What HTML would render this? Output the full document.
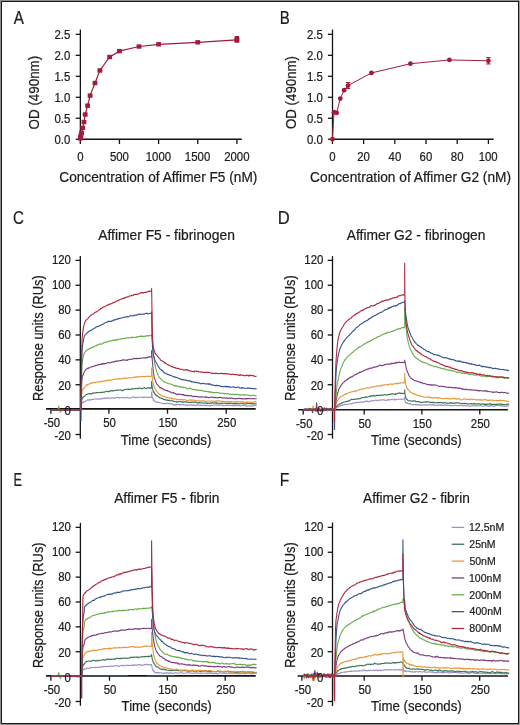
<!DOCTYPE html>
<html><head><meta charset="utf-8"><title>Figure</title>
<style>html,body{margin:0;padding:0;background:#fff;}svg{display:block;will-change:transform;}text{font-family:"Liberation Sans", sans-serif;fill:#1c1c1c;stroke:#1c1c1c;stroke-width:0.22px;}</style>
</head><body>
<svg width="520" height="725" viewBox="0 0 520 725">
<rect x="0" y="0" width="520" height="725" fill="#8e8e8e"/>
<rect x="1" y="1" width="518" height="723" fill="#1a1a1a"/>
<rect x="519" y="0" width="1" height="725" fill="#9c9c9c"/>
<rect x="519" y="0" width="1" height="1" fill="#c4c4c4"/>
<rect x="0" y="724" width="1" height="1" fill="#c4c4c4"/>
<rect x="2" y="2" width="516" height="721" fill="#ffffff"/>
<line x1="80.35" y1="29.6" x2="80.35" y2="139.9" stroke="#141414" stroke-width="1.3"/>
<line x1="79.7" y1="139.25" x2="241.8" y2="139.25" stroke="#141414" stroke-width="1.5"/>
<line x1="75.75" y1="139.25" x2="80.35" y2="139.25" stroke="#141414" stroke-width="1.3"/>
<text x="54.40" y="143.55" font-size="12.1" textLength="15.85" lengthAdjust="spacingAndGlyphs">0.0</text>
<line x1="75.75" y1="118.27" x2="80.35" y2="118.27" stroke="#141414" stroke-width="1.3"/>
<text x="54.43" y="122.57" font-size="12.1" textLength="15.85" lengthAdjust="spacingAndGlyphs">0.5</text>
<line x1="75.75" y1="97.29" x2="80.35" y2="97.29" stroke="#141414" stroke-width="1.3"/>
<text x="54.40" y="101.59" font-size="12.1" textLength="15.85" lengthAdjust="spacingAndGlyphs">1.0</text>
<line x1="75.75" y1="76.31" x2="80.35" y2="76.31" stroke="#141414" stroke-width="1.3"/>
<text x="54.43" y="80.61" font-size="12.1" textLength="15.85" lengthAdjust="spacingAndGlyphs">1.5</text>
<line x1="75.75" y1="55.33" x2="80.35" y2="55.33" stroke="#141414" stroke-width="1.3"/>
<text x="54.40" y="59.63" font-size="12.1" textLength="15.85" lengthAdjust="spacingAndGlyphs">2.0</text>
<line x1="75.75" y1="34.35" x2="80.35" y2="34.35" stroke="#141414" stroke-width="1.3"/>
<text x="54.43" y="38.65" font-size="12.1" textLength="15.85" lengthAdjust="spacingAndGlyphs">2.5</text>
<line x1="80.3" y1="139.25" x2="80.3" y2="144.05" stroke="#141414" stroke-width="1.3"/>
<text x="77.13" y="160.85" font-size="12.1" textLength="6.34" lengthAdjust="spacingAndGlyphs">0</text>
<line x1="119.45" y1="139.25" x2="119.45" y2="144.05" stroke="#141414" stroke-width="1.3"/>
<text x="109.93" y="160.85" font-size="12.1" textLength="19.02" lengthAdjust="spacingAndGlyphs">500</text>
<line x1="158.6" y1="139.25" x2="158.6" y2="144.05" stroke="#141414" stroke-width="1.3"/>
<text x="145.71" y="160.85" font-size="12.1" textLength="25.36" lengthAdjust="spacingAndGlyphs">1000</text>
<line x1="197.75" y1="139.25" x2="197.75" y2="144.05" stroke="#141414" stroke-width="1.3"/>
<text x="184.86" y="160.85" font-size="12.1" textLength="25.36" lengthAdjust="spacingAndGlyphs">1500</text>
<line x1="236.9" y1="139.25" x2="236.9" y2="144.05" stroke="#141414" stroke-width="1.3"/>
<text x="224.16" y="160.85" font-size="12.1" textLength="25.36" lengthAdjust="spacingAndGlyphs">2000</text>
<text x="-0.63" y="0" font-size="14.7" textLength="73.66" lengthAdjust="spacingAndGlyphs" transform="translate(38.9,128.8) rotate(-90)">OD (490nm)</text>
<text x="59.31" y="182.3" font-size="14.7" textLength="198.03" lengthAdjust="spacingAndGlyphs">Concentration of Affimer F5 (nM)</text>
<polyline fill="none" stroke="#a11c3c" stroke-width="1.2" points="80.3,138.41 80.61,137.15 80.91,135.47 81.52,132.96 82.75,127.92 83.97,122.05 85.19,114.49 87.64,105.68 90.09,95.61 94.98,83.02 99.88,70.44 109.66,57.01 119.45,51.13 139.02,46.52 158.6,44.29 197.75,42.32 236.9,39.8"/>
<rect x="77.90" y="136.21" width="4.8" height="4.4" fill="#a11c3c"/>
<rect x="78.21" y="134.95" width="4.8" height="4.4" fill="#a11c3c"/>
<rect x="78.51" y="133.27" width="4.8" height="4.4" fill="#a11c3c"/>
<rect x="79.12" y="130.76" width="4.8" height="4.4" fill="#a11c3c"/>
<rect x="80.35" y="125.72" width="4.8" height="4.4" fill="#a11c3c"/>
<rect x="81.57" y="119.85" width="4.8" height="4.4" fill="#a11c3c"/>
<rect x="82.79" y="112.29" width="4.8" height="4.4" fill="#a11c3c"/>
<rect x="85.24" y="103.48" width="4.8" height="4.4" fill="#a11c3c"/>
<rect x="87.69" y="93.41" width="4.8" height="4.4" fill="#a11c3c"/>
<rect x="92.58" y="80.82" width="4.8" height="4.4" fill="#a11c3c"/>
<rect x="97.48" y="68.24" width="4.8" height="4.4" fill="#a11c3c"/>
<rect x="107.26" y="54.81" width="4.8" height="4.4" fill="#a11c3c"/>
<rect x="117.05" y="48.93" width="4.8" height="4.4" fill="#a11c3c"/>
<rect x="136.62" y="44.32" width="4.8" height="4.4" fill="#a11c3c"/>
<rect x="156.20" y="42.09" width="4.8" height="4.4" fill="#a11c3c"/>
<rect x="195.35" y="40.12" width="4.8" height="4.4" fill="#a11c3c"/>
<rect x="234.50" y="37.60" width="4.8" height="4.4" fill="#a11c3c"/>
<rect x="234.65" y="36.00" width="4.5" height="6.8" fill="#a11c3c"/>
<line x1="332.5" y1="29.6" x2="332.5" y2="139.9" stroke="#141414" stroke-width="1.3"/>
<line x1="331.85" y1="139.25" x2="493.7" y2="139.25" stroke="#141414" stroke-width="1.5"/>
<line x1="327.9" y1="139.25" x2="332.5" y2="139.25" stroke="#141414" stroke-width="1.3"/>
<text x="306.90" y="143.55" font-size="12.1" textLength="15.85" lengthAdjust="spacingAndGlyphs">0.0</text>
<line x1="327.9" y1="118.27" x2="332.5" y2="118.27" stroke="#141414" stroke-width="1.3"/>
<text x="306.93" y="122.57" font-size="12.1" textLength="15.85" lengthAdjust="spacingAndGlyphs">0.5</text>
<line x1="327.9" y1="97.29" x2="332.5" y2="97.29" stroke="#141414" stroke-width="1.3"/>
<text x="306.90" y="101.59" font-size="12.1" textLength="15.85" lengthAdjust="spacingAndGlyphs">1.0</text>
<line x1="327.9" y1="76.31" x2="332.5" y2="76.31" stroke="#141414" stroke-width="1.3"/>
<text x="306.93" y="80.61" font-size="12.1" textLength="15.85" lengthAdjust="spacingAndGlyphs">1.5</text>
<line x1="327.9" y1="55.33" x2="332.5" y2="55.33" stroke="#141414" stroke-width="1.3"/>
<text x="306.90" y="59.63" font-size="12.1" textLength="15.85" lengthAdjust="spacingAndGlyphs">2.0</text>
<line x1="327.9" y1="34.35" x2="332.5" y2="34.35" stroke="#141414" stroke-width="1.3"/>
<text x="306.93" y="38.65" font-size="12.1" textLength="15.85" lengthAdjust="spacingAndGlyphs">2.5</text>
<line x1="332.45" y1="139.25" x2="332.45" y2="144.05" stroke="#141414" stroke-width="1.3"/>
<text x="329.28" y="160.85" font-size="12.1" textLength="6.34" lengthAdjust="spacingAndGlyphs">0</text>
<line x1="363.64" y1="139.25" x2="363.64" y2="144.05" stroke="#141414" stroke-width="1.3"/>
<text x="357.24" y="160.85" font-size="12.1" textLength="12.68" lengthAdjust="spacingAndGlyphs">20</text>
<line x1="394.83" y1="139.25" x2="394.83" y2="144.05" stroke="#141414" stroke-width="1.3"/>
<text x="388.58" y="160.85" font-size="12.1" textLength="12.68" lengthAdjust="spacingAndGlyphs">40</text>
<line x1="426.02" y1="139.25" x2="426.02" y2="144.05" stroke="#141414" stroke-width="1.3"/>
<text x="419.61" y="160.85" font-size="12.1" textLength="12.68" lengthAdjust="spacingAndGlyphs">60</text>
<line x1="457.21" y1="139.25" x2="457.21" y2="144.05" stroke="#141414" stroke-width="1.3"/>
<text x="450.84" y="160.85" font-size="12.1" textLength="12.68" lengthAdjust="spacingAndGlyphs">80</text>
<line x1="488.4" y1="139.25" x2="488.4" y2="144.05" stroke="#141414" stroke-width="1.3"/>
<text x="478.68" y="160.85" font-size="12.1" textLength="19.02" lengthAdjust="spacingAndGlyphs">100</text>
<text x="-0.63" y="0" font-size="14.7" textLength="73.05" lengthAdjust="spacingAndGlyphs" transform="translate(295.8,128.4) rotate(-90)">OD (490nm)</text>
<text x="310.11" y="182.3" font-size="14.7" textLength="200.94" lengthAdjust="spacingAndGlyphs">Concentration of Affimer G2 (nM)</text>
<polyline fill="none" stroke="#a11c3c" stroke-width="1.0" points="332.45,139.25 334.01,112.27 336.66,112.82 340.25,98.55 344.15,90.16 348.05,85.54 371.44,72.95 410.43,63.72 449.41,59.95 488.4,60.78"/>
<circle cx="332.45" cy="139.25" r="2.4" fill="#a11c3c"/>
<circle cx="334.01" cy="112.27" r="2.4" fill="#a11c3c"/>
<circle cx="336.66" cy="112.82" r="2.4" fill="#a11c3c"/>
<circle cx="340.25" cy="98.55" r="2.4" fill="#a11c3c"/>
<circle cx="344.15" cy="90.16" r="2.4" fill="#a11c3c"/>
<circle cx="348.05" cy="85.54" r="2.4" fill="#a11c3c"/>
<circle cx="371.44" cy="72.95" r="2.4" fill="#a11c3c"/>
<circle cx="410.43" cy="63.72" r="2.4" fill="#a11c3c"/>
<circle cx="449.41" cy="59.95" r="2.4" fill="#a11c3c"/>
<circle cx="488.4" cy="60.78" r="2.4" fill="#a11c3c"/>
<line x1="348.05" y1="82.6" x2="348.05" y2="88.48" stroke="#a11c3c" stroke-width="1.1"/>
<line x1="345.85" y1="82.6" x2="350.25" y2="82.6" stroke="#a11c3c" stroke-width="1.1"/>
<line x1="345.85" y1="88.48" x2="350.25" y2="88.48" stroke="#a11c3c" stroke-width="1.1"/>
<line x1="488.4" y1="57.64" x2="488.4" y2="63.93" stroke="#a11c3c" stroke-width="1.1"/>
<line x1="486.2" y1="57.64" x2="490.6" y2="57.64" stroke="#a11c3c" stroke-width="1.1"/>
<line x1="486.2" y1="63.93" x2="490.6" y2="63.93" stroke="#a11c3c" stroke-width="1.1"/>
<line x1="80.3" y1="256" x2="80.3" y2="438.7" stroke="#141414" stroke-width="1.3"/>
<line x1="46.1" y1="408.9" x2="255.7" y2="408.9" stroke="#141414" stroke-width="1.6"/>
<line x1="75.5" y1="434.47" x2="80.3" y2="434.47" stroke="#141414" stroke-width="1.3"/>
<line x1="75.5" y1="409.6" x2="80.3" y2="409.6" stroke="#141414" stroke-width="1.3"/>
<line x1="75.5" y1="384.73" x2="80.3" y2="384.73" stroke="#141414" stroke-width="1.3"/>
<line x1="75.5" y1="359.86" x2="80.3" y2="359.86" stroke="#141414" stroke-width="1.3"/>
<line x1="75.5" y1="334.99" x2="80.3" y2="334.99" stroke="#141414" stroke-width="1.3"/>
<line x1="75.5" y1="310.12" x2="80.3" y2="310.12" stroke="#141414" stroke-width="1.3"/>
<line x1="75.5" y1="285.25" x2="80.3" y2="285.25" stroke="#141414" stroke-width="1.3"/>
<line x1="75.5" y1="260.38" x2="80.3" y2="260.38" stroke="#141414" stroke-width="1.3"/>
<line x1="50.9" y1="408.9" x2="50.9" y2="413.7" stroke="#141414" stroke-width="1.3"/>
<line x1="108.9" y1="408.9" x2="108.9" y2="413.7" stroke="#141414" stroke-width="1.3"/>
<line x1="167.5" y1="408.9" x2="167.5" y2="413.7" stroke="#141414" stroke-width="1.3"/>
<line x1="226.2" y1="408.9" x2="226.2" y2="413.7" stroke="#141414" stroke-width="1.3"/>
<polyline fill="none" stroke="#9b90c8" stroke-width="1.1" stroke-linejoin="round" points="51.7,410.2 52.2,410.1 52.8,410.1 53.4,409.9 54.0,410.0 54.6,409.9 55.2,409.7 55.8,409.7 56.3,409.8 56.9,410.1 57.5,410.1 58.1,410.1 58.7,410.0 59.3,410.0 59.8,410.2 60.4,410.2 61.0,409.9 61.6,410.4 62.2,410.0 62.8,409.8 63.3,410.2 63.9,410.2 64.5,410.1 65.1,409.8 65.7,410.0 66.3,410.4 66.9,410.0 67.4,409.7 68.0,409.7 68.6,409.8 69.2,410.0 69.8,410.4 70.4,409.9 70.9,410.0 71.5,409.9 72.1,409.6 72.7,409.9 73.3,409.9 73.9,409.8 74.5,410.0 75.0,410.1 75.6,410.1 76.2,409.8 76.8,409.8 77.4,410.1 78.0,409.7 78.5,409.9 79.1,410.3 79.7,409.8 80.3,410.0 80.9,410.3 81.1,409.2 81.2,407.7 81.4,406.5 81.5,405.5 81.6,404.6 81.8,403.9 81.9,403.4 82.1,403.1 82.2,402.9 82.4,402.7 82.5,402.6 82.7,402.5 82.8,402.3 83.0,402.5 83.1,402.5 83.3,402.2 83.4,401.9 83.5,402.0 83.7,401.9 83.8,401.8 84.0,402.0 84.1,401.8 84.3,401.8 84.4,401.8 84.6,402.0 85.0,401.6 85.5,401.5 86.0,400.8 86.4,400.7 86.9,400.4 87.4,399.9 87.8,399.8 88.3,400.0 88.8,400.1 89.2,399.6 89.7,399.8 90.2,400.3 90.6,400.0 91.1,399.4 91.6,399.7 92.0,399.5 92.5,399.3 93.0,399.4 93.5,399.4 93.9,399.2 94.4,399.2 94.9,399.0 95.3,398.9 95.8,399.0 96.3,399.2 96.7,398.8 97.2,399.0 97.7,399.2 98.1,399.0 98.6,398.9 99.1,399.3 99.5,399.0 100.0,399.2 100.5,399.0 100.9,399.1 101.4,398.4 101.9,398.4 102.3,398.3 102.8,398.7 103.3,398.8 103.7,398.3 104.2,398.7 104.7,398.2 105.1,398.4 105.6,397.9 106.1,398.2 106.5,398.5 107.0,398.0 107.5,398.0 107.9,397.8 108.4,397.8 108.9,398.1 109.3,398.2 109.8,398.1 110.3,398.4 110.8,398.3 111.2,398.1 111.7,397.8 112.2,397.8 112.6,397.9 113.1,397.8 113.6,397.9 114.0,398.3 114.5,398.1 115.0,398.3 115.4,397.8 115.9,397.5 116.4,397.5 116.8,397.5 117.3,397.4 117.8,397.6 118.2,397.5 118.7,397.9 119.2,397.5 119.6,398.1 120.1,397.8 120.6,397.7 121.0,397.6 121.5,397.7 122.0,397.5 122.4,397.3 122.9,397.7 123.4,397.5 123.8,397.8 124.3,397.7 124.8,398.1 125.2,397.5 125.7,397.4 126.2,397.7 126.7,397.8 127.1,397.8 127.6,397.2 128.1,397.7 128.5,397.9 129.0,398.1 129.5,397.9 129.9,397.7 130.4,397.9 130.9,398.1 131.3,397.7 131.8,397.5 132.3,397.3 132.7,397.3 133.2,397.3 133.7,396.7 134.1,397.1 134.6,397.2 135.1,397.6 135.5,397.6 136.0,397.6 136.5,397.4 136.9,397.4 137.4,397.4 137.9,397.7 138.3,397.2 138.8,397.2 139.3,397.2 139.7,397.4 140.2,397.1 140.7,397.2 141.1,397.2 141.6,397.1 142.1,397.4 142.5,397.4 143.0,397.7 143.5,397.0 144.0,397.4 144.4,397.1 144.9,397.0 145.4,397.5 145.8,397.4 146.3,397.2 146.8,397.5 147.2,397.6 147.7,397.3 148.2,397.3 148.6,397.4 149.1,397.4 149.6,397.2 150.0,397.3 150.5,397.5 151.0,397.5 151.4,397.2 151.6,397.2 151.6,391.8 151.8,393.4 151.9,394.5 152.1,395.5 152.2,396.2 152.4,396.9 152.5,397.6 152.7,398.2 152.8,398.3 153.0,398.6 153.1,398.7 153.2,399.9 153.4,399.7 153.5,400.2 153.7,400.1 153.8,400.6 154.0,400.4 154.1,400.2 154.3,400.7 154.4,400.9 154.6,400.8 154.7,401.1 154.9,401.3 155.0,401.7 155.1,401.6 155.6,402.1 156.1,401.9 156.5,402.1 157.0,402.3 157.5,402.0 158.0,402.5 158.4,402.4 158.9,402.6 159.4,402.8 159.8,402.7 160.3,402.7 160.8,402.8 161.2,403.2 161.7,403.3 162.2,403.4 162.6,403.3 163.1,403.2 163.6,403.5 164.0,403.5 164.5,403.9 165.0,403.7 165.4,403.6 165.9,403.5 166.4,403.7 166.8,403.0 167.3,403.2 167.8,403.2 168.2,403.2 168.7,403.5 169.2,403.2 169.6,403.5 170.1,404.1 170.6,403.8 171.0,403.9 171.5,404.1 172.0,403.6 172.4,404.3 172.9,404.2 173.4,405.1 173.8,404.6 174.3,405.0 174.8,405.3 175.3,404.7 175.7,404.6 176.2,405.0 176.7,404.4 177.1,404.9 177.6,404.4 178.1,404.6 178.5,404.4 179.0,404.7 179.5,404.6 179.9,404.9 180.4,404.5 180.9,404.7 181.3,404.6 181.8,405.0 182.3,404.7 182.7,404.8 183.2,404.5 183.7,404.9 184.1,404.7 184.6,404.8 185.1,404.7 185.5,405.5 186.0,405.2 186.5,405.1 186.9,405.3 187.4,405.7 187.9,405.1 188.3,405.1 188.8,405.3 189.3,405.0 189.7,405.2 190.2,405.2 190.7,405.1 191.2,404.7 191.6,405.1 192.1,405.0 192.6,405.1 193.0,405.3 193.5,405.4 194.0,404.9 194.4,405.2 194.9,405.5 195.4,405.2 195.8,405.4 196.3,405.5 196.8,404.9 197.2,405.2 197.7,404.8 198.2,405.0 198.6,405.0 199.1,405.2 199.6,405.0 200.0,405.0 200.5,405.4 201.0,405.1 201.4,405.4 201.9,405.5 202.4,405.3 202.8,405.5 203.3,405.3 203.8,405.0 204.2,405.3 204.7,405.5 205.2,405.9 205.6,405.4 206.1,405.3 206.6,405.0 207.0,405.6 207.5,405.7 208.0,405.5 208.5,405.6 208.9,405.7 209.4,406.0 209.9,406.1 210.3,405.7 210.8,405.2 211.3,405.4 211.7,405.4 212.2,405.2 212.7,405.4 213.1,405.2 213.6,404.9 214.1,405.1 214.5,405.1 215.0,405.0 215.5,405.0 215.9,404.9 216.4,405.0 216.9,405.3 217.3,405.4 217.8,405.4 218.3,405.4 218.7,405.0 219.2,405.3 219.7,405.1 220.1,405.1 220.6,405.2 221.1,405.2 221.5,405.2 222.0,405.2 222.5,405.2 222.9,405.6 223.4,405.3 223.9,405.8 224.4,405.7 224.8,405.5 225.3,405.4 225.8,405.3 226.2,405.1 226.7,405.5 227.2,405.7 227.6,405.3 228.1,405.4 228.6,405.4 229.0,405.6 229.5,405.2 230.0,405.4 230.4,405.3 230.9,405.2 231.4,405.4 231.8,405.6 232.3,405.7 232.8,405.3 233.2,405.9 233.7,405.5 234.2,405.7 234.6,405.5 235.1,405.0 235.6,405.4 236.0,405.2 236.5,405.7 237.0,405.3 237.4,405.7 237.9,405.6 238.4,405.1 238.8,405.3 239.3,405.6 239.8,405.6 240.2,406.0 240.7,405.5 241.2,405.5 241.7,405.5 242.1,405.0 242.6,405.2 243.1,405.4 243.5,405.5 244.0,405.2 244.5,405.1 244.9,405.6 245.4,405.9 245.9,405.6 246.3,405.8 246.8,406.3 247.3,405.8 247.7,406.0 248.2,406.0 248.7,405.9 249.1,405.9 249.6,405.7 250.1,405.8 250.5,406.2 251.0,405.9 251.5,406.0 251.9,405.9 252.4,405.7 252.9,405.9 253.3,405.5 253.8,405.4 254.3,405.5 254.7,405.2 255.2,405.4 255.7,405.6 256.1,405.5 256.6,405.6"/>
<polyline fill="none" stroke="#3b7357" stroke-width="1.1" stroke-linejoin="round" points="51.7,409.8 52.2,409.8 52.8,410.0 53.4,410.3 54.0,409.8 54.6,409.7 55.2,409.7 55.8,409.7 56.3,409.6 56.9,409.7 57.5,410.1 58.1,409.8 58.7,410.2 59.3,410.0 59.8,409.9 60.4,409.7 61.0,410.0 61.6,410.0 62.2,410.1 62.8,409.8 63.3,410.4 63.9,410.5 64.5,409.6 65.1,409.7 65.7,409.8 66.3,409.9 66.9,410.1 67.4,410.3 68.0,409.9 68.6,410.2 69.2,409.7 69.8,409.9 70.4,410.3 70.9,409.9 71.5,410.4 72.1,410.1 72.7,409.7 73.3,410.1 73.9,410.0 74.5,410.1 75.0,410.1 75.6,409.7 76.2,409.8 76.8,409.8 77.4,410.3 78.0,410.0 78.5,410.1 79.1,409.9 79.7,410.2 80.3,409.7 80.9,409.3 81.1,409.2 81.2,406.7 81.4,404.6 81.5,402.9 81.6,401.4 81.8,400.2 81.9,399.3 82.1,398.8 82.2,398.0 82.4,398.0 82.5,397.9 82.7,398.1 82.8,397.1 83.0,397.5 83.1,397.0 83.3,396.9 83.4,396.8 83.5,397.1 83.7,396.8 83.8,396.5 84.0,396.3 84.1,396.4 84.3,396.4 84.4,396.3 84.6,396.2 85.0,395.8 85.5,395.3 86.0,394.7 86.4,394.5 86.9,394.5 87.4,394.2 87.8,394.0 88.3,393.9 88.8,393.7 89.2,393.5 89.7,393.9 90.2,393.7 90.6,393.6 91.1,393.6 91.6,394.1 92.0,393.5 92.5,393.1 93.0,392.9 93.5,392.8 93.9,393.2 94.4,392.9 94.9,393.1 95.3,392.9 95.8,392.8 96.3,392.5 96.7,392.8 97.2,392.4 97.7,392.5 98.1,392.8 98.6,392.7 99.1,392.6 99.5,392.4 100.0,392.6 100.5,392.2 100.9,392.4 101.4,392.3 101.9,392.6 102.3,392.5 102.8,392.3 103.3,392.1 103.7,392.2 104.2,392.0 104.7,392.1 105.1,391.9 105.6,391.4 106.1,391.1 106.5,391.2 107.0,391.5 107.5,391.7 107.9,391.5 108.4,391.6 108.9,391.1 109.3,391.6 109.8,391.4 110.3,390.8 110.8,391.0 111.2,390.7 111.7,390.4 112.2,390.9 112.6,390.9 113.1,390.9 113.6,390.9 114.0,390.7 114.5,390.5 115.0,390.2 115.4,390.3 115.9,390.5 116.4,390.3 116.8,390.3 117.3,390.0 117.8,390.1 118.2,390.2 118.7,390.1 119.2,390.0 119.6,390.0 120.1,390.0 120.6,389.9 121.0,390.1 121.5,390.4 122.0,390.3 122.4,390.9 122.9,390.3 123.4,390.1 123.8,390.2 124.3,389.8 124.8,389.6 125.2,389.5 125.7,389.4 126.2,389.2 126.7,389.3 127.1,389.1 127.6,389.2 128.1,389.7 128.5,389.0 129.0,389.3 129.5,389.4 129.9,389.4 130.4,389.3 130.9,389.6 131.3,389.3 131.8,389.1 132.3,388.9 132.7,388.4 133.2,388.7 133.7,388.9 134.1,389.0 134.6,388.7 135.1,388.7 135.5,388.5 136.0,388.4 136.5,388.6 136.9,388.5 137.4,388.5 137.9,388.2 138.3,388.8 138.8,388.2 139.3,387.9 139.7,388.1 140.2,388.1 140.7,388.5 141.1,388.4 141.6,388.9 142.1,388.8 142.5,388.2 143.0,388.2 143.5,388.3 144.0,387.8 144.4,387.5 144.9,388.1 145.4,388.4 145.8,388.3 146.3,388.6 146.8,388.6 147.2,387.9 147.7,387.8 148.2,387.8 148.6,387.9 149.1,388.4 149.6,387.7 150.0,387.9 150.5,387.8 151.0,388.2 151.4,388.2 151.6,387.6 151.6,381.5 151.8,383.5 151.9,385.0 152.1,386.2 152.2,387.2 152.4,388.1 152.5,388.4 152.7,389.6 152.8,389.8 153.0,390.4 153.1,391.0 153.2,391.6 153.4,392.0 153.5,392.2 153.7,392.5 153.8,392.3 154.0,392.0 154.1,392.7 154.3,392.8 154.4,393.0 154.6,393.5 154.7,393.8 154.9,393.5 155.0,393.9 155.1,394.5 155.6,395.1 156.1,394.8 156.5,395.5 157.0,396.0 157.5,395.9 158.0,396.4 158.4,396.8 158.9,397.1 159.4,397.3 159.8,398.1 160.3,397.9 160.8,398.1 161.2,398.4 161.7,398.2 162.2,398.5 162.6,398.6 163.1,399.2 163.6,399.5 164.0,399.3 164.5,399.8 165.0,399.4 165.4,399.5 165.9,400.0 166.4,400.2 166.8,400.2 167.3,399.9 167.8,400.4 168.2,400.4 168.7,400.4 169.2,400.6 169.6,400.2 170.1,400.7 170.6,400.8 171.0,400.7 171.5,400.8 172.0,400.6 172.4,400.8 172.9,401.0 173.4,401.5 173.8,401.2 174.3,401.5 174.8,401.7 175.3,401.7 175.7,401.5 176.2,401.5 176.7,402.3 177.1,401.7 177.6,401.8 178.1,401.8 178.5,402.0 179.0,401.6 179.5,401.7 179.9,401.6 180.4,401.4 180.9,401.8 181.3,401.9 181.8,401.9 182.3,402.2 182.7,401.7 183.2,402.1 183.7,402.2 184.1,401.9 184.6,401.9 185.1,402.1 185.5,402.1 186.0,401.8 186.5,402.1 186.9,401.6 187.4,402.0 187.9,402.2 188.3,402.1 188.8,402.7 189.3,402.5 189.7,402.4 190.2,402.5 190.7,402.1 191.2,402.4 191.6,402.3 192.1,402.3 192.6,402.1 193.0,402.2 193.5,402.2 194.0,402.4 194.4,401.9 194.9,402.1 195.4,402.1 195.8,402.1 196.3,402.2 196.8,402.3 197.2,402.9 197.7,402.9 198.2,403.1 198.6,402.7 199.1,402.6 199.6,402.7 200.0,403.0 200.5,403.0 201.0,402.8 201.4,402.7 201.9,402.7 202.4,403.0 202.8,402.9 203.3,403.1 203.8,403.3 204.2,403.2 204.7,403.3 205.2,402.9 205.6,402.7 206.1,403.0 206.6,403.3 207.0,402.9 207.5,403.6 208.0,403.2 208.5,403.2 208.9,403.1 209.4,403.6 209.9,403.1 210.3,403.3 210.8,403.1 211.3,402.8 211.7,403.3 212.2,402.8 212.7,402.6 213.1,402.9 213.6,403.0 214.1,403.1 214.5,403.1 215.0,403.1 215.5,402.8 215.9,402.8 216.4,403.4 216.9,403.0 217.3,403.4 217.8,403.0 218.3,403.2 218.7,403.3 219.2,403.6 219.7,403.2 220.1,403.3 220.6,403.2 221.1,403.2 221.5,403.5 222.0,403.0 222.5,403.4 222.9,403.3 223.4,403.2 223.9,403.2 224.4,403.3 224.8,403.3 225.3,403.4 225.8,403.1 226.2,403.4 226.7,403.3 227.2,403.4 227.6,403.6 228.1,403.5 228.6,403.0 229.0,403.2 229.5,403.5 230.0,403.1 230.4,403.3 230.9,403.4 231.4,403.5 231.8,403.3 232.3,403.5 232.8,403.6 233.2,403.5 233.7,403.6 234.2,403.6 234.6,403.5 235.1,403.6 235.6,403.1 236.0,403.6 236.5,403.6 237.0,403.5 237.4,403.3 237.9,403.6 238.4,403.7 238.8,403.8 239.3,403.7 239.8,403.8 240.2,403.7 240.7,403.2 241.2,403.3 241.7,403.3 242.1,403.4 242.6,403.3 243.1,403.8 243.5,403.8 244.0,404.0 244.5,403.8 244.9,403.8 245.4,403.8 245.9,403.9 246.3,403.8 246.8,403.9 247.3,403.5 247.7,403.3 248.2,403.5 248.7,403.6 249.1,403.5 249.6,403.5 250.1,403.5 250.5,403.6 251.0,403.8 251.5,403.6 251.9,404.0 252.4,403.8 252.9,403.9 253.3,403.8 253.8,403.6 254.3,403.6 254.7,403.9 255.2,404.0 255.7,403.6 256.1,403.7 256.6,403.9"/>
<polyline fill="none" stroke="#e8983a" stroke-width="1.1" stroke-linejoin="round" points="51.7,410.2 52.2,409.8 52.8,410.1 53.4,410.1 54.0,410.0 54.6,410.0 55.2,409.6 55.8,410.0 56.3,409.6 56.9,410.5 57.5,409.8 58.1,410.0 58.7,409.5 59.3,410.2 59.8,410.0 60.4,409.9 61.0,410.5 61.6,410.0 62.2,409.3 62.8,409.9 63.3,409.8 63.9,410.0 64.5,409.6 65.1,410.1 65.7,410.2 66.3,409.8 66.9,410.2 67.4,409.9 68.0,410.4 68.6,409.8 69.2,410.1 69.8,409.9 70.4,409.9 70.9,409.9 71.5,410.1 72.1,410.1 72.7,409.8 73.3,409.7 73.9,410.3 74.5,410.1 75.0,410.1 75.6,410.1 76.2,409.7 76.8,410.0 77.4,410.0 78.0,409.9 78.5,409.6 79.1,410.4 79.7,409.8 80.3,410.0 80.9,410.1 81.1,409.2 81.2,405.0 81.4,401.6 81.5,398.6 81.6,396.2 81.8,394.1 81.9,392.7 82.1,391.9 82.2,390.7 82.4,390.2 82.5,389.9 82.7,389.5 82.8,389.3 83.0,389.4 83.1,389.0 83.3,388.5 83.4,388.8 83.5,388.5 83.7,388.4 83.8,388.3 84.0,388.3 84.1,387.8 84.3,387.6 84.4,387.7 84.6,387.5 85.0,386.6 85.5,386.3 86.0,385.8 86.4,384.9 86.9,384.9 87.4,385.3 87.8,384.3 88.3,384.4 88.8,384.3 89.2,383.9 89.7,383.7 90.2,383.4 90.6,383.2 91.1,383.7 91.6,382.9 92.0,383.0 92.5,382.9 93.0,382.6 93.5,382.6 93.9,382.7 94.4,382.8 94.9,382.4 95.3,382.7 95.8,382.4 96.3,382.3 96.7,382.3 97.2,382.3 97.7,381.8 98.1,381.8 98.6,381.9 99.1,381.6 99.5,381.6 100.0,382.2 100.5,381.8 100.9,381.6 101.4,381.4 101.9,380.9 102.3,380.9 102.8,381.2 103.3,381.1 103.7,381.2 104.2,381.1 104.7,380.7 105.1,380.9 105.6,381.0 106.1,380.2 106.5,380.7 107.0,380.6 107.5,380.4 107.9,380.2 108.4,380.5 108.9,380.0 109.3,380.2 109.8,380.1 110.3,380.1 110.8,380.1 111.2,380.1 111.7,380.1 112.2,379.9 112.6,379.9 113.1,379.6 113.6,379.3 114.0,379.2 114.5,379.4 115.0,379.1 115.4,379.2 115.9,379.1 116.4,379.1 116.8,378.9 117.3,378.8 117.8,378.9 118.2,378.8 118.7,379.1 119.2,378.8 119.6,378.6 120.1,379.1 120.6,379.0 121.0,378.9 121.5,378.9 122.0,378.6 122.4,378.5 122.9,378.6 123.4,378.2 123.8,378.3 124.3,378.0 124.8,378.5 125.2,377.9 125.7,378.3 126.2,378.3 126.7,378.2 127.1,378.0 127.6,378.3 128.1,377.8 128.5,377.7 129.0,377.8 129.5,377.9 129.9,377.7 130.4,378.1 130.9,377.8 131.3,377.8 131.8,377.8 132.3,377.8 132.7,377.7 133.2,377.3 133.7,377.2 134.1,377.0 134.6,377.1 135.1,377.1 135.5,377.1 136.0,377.0 136.5,377.1 136.9,376.6 137.4,376.9 137.9,377.2 138.3,377.0 138.8,376.9 139.3,376.5 139.7,376.8 140.2,376.8 140.7,376.3 141.1,376.4 141.6,376.3 142.1,376.9 142.5,376.8 143.0,376.3 143.5,376.6 144.0,376.8 144.4,376.3 144.9,376.6 145.4,376.5 145.8,376.4 146.3,376.3 146.8,376.5 147.2,376.5 147.7,376.3 148.2,376.0 148.6,376.4 149.1,376.5 149.6,376.3 150.0,376.4 150.5,376.6 151.0,376.3 151.4,376.3 151.6,375.8 151.6,367.7 151.8,370.8 151.9,373.2 152.1,375.2 152.2,376.8 152.4,378.2 152.5,379.5 152.7,380.4 152.8,381.4 153.0,382.2 153.1,383.2 153.2,383.3 153.4,383.7 153.5,384.6 153.7,384.8 153.8,384.8 154.0,386.4 154.1,386.6 154.3,387.1 154.4,387.2 154.6,387.8 154.7,387.5 154.9,387.8 155.0,388.4 155.1,388.5 155.6,389.6 156.1,390.0 156.5,391.3 157.0,391.9 157.5,392.2 158.0,392.7 158.4,393.3 158.9,393.7 159.4,394.4 159.8,394.2 160.3,394.9 160.8,395.2 161.2,395.6 161.7,395.7 162.2,396.3 162.6,396.1 163.1,396.1 163.6,396.2 164.0,396.3 164.5,396.6 165.0,396.8 165.4,397.1 165.9,397.4 166.4,397.1 166.8,397.2 167.3,397.6 167.8,397.4 168.2,397.4 168.7,397.6 169.2,398.1 169.6,398.3 170.1,398.1 170.6,398.0 171.0,398.1 171.5,397.9 172.0,398.8 172.4,398.5 172.9,398.6 173.4,398.8 173.8,399.2 174.3,398.9 174.8,398.9 175.3,399.0 175.7,399.1 176.2,399.5 176.7,399.7 177.1,399.3 177.6,399.4 178.1,399.5 178.5,399.8 179.0,399.5 179.5,399.3 179.9,399.8 180.4,399.6 180.9,399.6 181.3,399.3 181.8,399.4 182.3,399.2 182.7,399.9 183.2,399.9 183.7,400.0 184.1,399.4 184.6,399.6 185.1,399.7 185.5,399.9 186.0,400.0 186.5,400.2 186.9,400.6 187.4,400.5 187.9,400.8 188.3,400.2 188.8,400.2 189.3,400.1 189.7,399.7 190.2,399.7 190.7,400.1 191.2,399.8 191.6,400.9 192.1,400.2 192.6,400.0 193.0,400.1 193.5,400.1 194.0,400.1 194.4,400.2 194.9,400.4 195.4,400.5 195.8,400.6 196.3,400.7 196.8,400.9 197.2,400.7 197.7,400.7 198.2,400.6 198.6,401.2 199.1,401.0 199.6,401.3 200.0,401.1 200.5,401.2 201.0,400.8 201.4,401.2 201.9,401.0 202.4,400.8 202.8,400.9 203.3,400.9 203.8,400.5 204.2,401.1 204.7,401.2 205.2,401.4 205.6,401.2 206.1,401.2 206.6,401.3 207.0,401.3 207.5,401.3 208.0,401.0 208.5,401.2 208.9,401.2 209.4,401.3 209.9,401.1 210.3,401.0 210.8,401.0 211.3,400.8 211.7,400.9 212.2,401.0 212.7,401.2 213.1,401.4 213.6,401.0 214.1,401.2 214.5,401.4 215.0,401.5 215.5,401.3 215.9,400.8 216.4,401.8 216.9,401.1 217.3,400.7 217.8,400.9 218.3,400.9 218.7,400.9 219.2,400.6 219.7,401.3 220.1,401.2 220.6,401.1 221.1,401.3 221.5,401.8 222.0,401.7 222.5,401.2 222.9,401.4 223.4,401.3 223.9,401.6 224.4,401.6 224.8,401.9 225.3,401.6 225.8,401.9 226.2,401.9 226.7,401.8 227.2,401.6 227.6,401.7 228.1,401.4 228.6,401.9 229.0,401.4 229.5,401.7 230.0,401.9 230.4,401.6 230.9,401.5 231.4,401.6 231.8,401.4 232.3,401.5 232.8,401.7 233.2,402.0 233.7,401.9 234.2,402.1 234.6,402.0 235.1,401.6 235.6,401.5 236.0,401.9 236.5,401.9 237.0,401.3 237.4,401.6 237.9,401.8 238.4,401.5 238.8,401.7 239.3,402.0 239.8,401.9 240.2,402.0 240.7,401.8 241.2,402.0 241.7,401.7 242.1,402.1 242.6,402.0 243.1,401.5 243.5,401.5 244.0,402.1 244.5,402.2 244.9,402.5 245.4,402.4 245.9,402.7 246.3,401.9 246.8,402.4 247.3,401.8 247.7,402.1 248.2,402.2 248.7,402.2 249.1,402.0 249.6,402.3 250.1,401.9 250.5,402.5 251.0,402.3 251.5,402.4 251.9,402.5 252.4,402.1 252.9,402.4 253.3,402.2 253.8,401.9 254.3,401.9 254.7,401.8 255.2,401.7 255.7,401.4 256.1,402.0 256.6,402.3"/>
<polyline fill="none" stroke="#7a3d80" stroke-width="1.1" stroke-linejoin="round" points="51.7,410.1 52.2,410.2 52.8,409.9 53.4,410.2 54.0,410.0 54.6,409.7 55.2,409.8 55.8,409.6 56.3,410.2 56.9,410.0 57.5,410.3 58.1,410.1 58.7,409.7 59.3,410.2 59.8,410.0 60.4,409.8 61.0,409.9 61.6,410.5 62.2,410.1 62.8,409.6 63.3,409.6 63.9,409.9 64.5,409.5 65.1,409.8 65.7,409.9 66.3,410.1 66.9,410.0 67.4,410.0 68.0,410.4 68.6,410.0 69.2,409.9 69.8,409.9 70.4,410.1 70.9,409.4 71.5,410.4 72.1,410.2 72.7,409.2 73.3,410.1 73.9,409.8 74.5,410.1 75.0,410.2 75.6,410.1 76.2,410.1 76.8,410.4 77.4,409.8 78.0,409.9 78.5,410.1 79.1,409.9 79.7,409.7 80.3,409.9 80.9,409.9 81.1,409.2 81.2,401.9 81.4,396.0 81.5,390.8 81.6,386.5 81.8,383.0 81.9,380.5 82.1,379.0 82.2,377.9 82.4,377.0 82.5,376.4 82.7,375.5 82.8,375.3 83.0,374.9 83.1,374.8 83.3,375.0 83.4,373.7 83.5,373.9 83.7,373.5 83.8,373.0 84.0,372.3 84.1,372.4 84.3,371.9 84.4,371.2 84.6,371.2 85.0,370.8 85.5,369.8 86.0,369.4 86.4,369.2 86.9,368.7 87.4,368.6 87.8,368.1 88.3,368.4 88.8,367.7 89.2,367.9 89.7,367.7 90.2,367.2 90.6,367.2 91.1,366.9 91.6,366.7 92.0,366.6 92.5,366.6 93.0,366.5 93.5,366.3 93.9,366.2 94.4,365.9 94.9,365.9 95.3,365.4 95.8,365.7 96.3,365.4 96.7,365.5 97.2,365.2 97.7,364.8 98.1,364.6 98.6,364.7 99.1,364.6 99.5,364.6 100.0,364.8 100.5,364.1 100.9,364.2 101.4,363.9 101.9,364.3 102.3,363.8 102.8,364.2 103.3,363.7 103.7,363.4 104.2,364.1 104.7,363.6 105.1,363.3 105.6,363.6 106.1,363.4 106.5,363.2 107.0,362.9 107.5,362.6 107.9,362.5 108.4,362.6 108.9,362.5 109.3,362.7 109.8,362.9 110.3,362.6 110.8,362.7 111.2,362.4 111.7,362.3 112.2,362.0 112.6,361.9 113.1,361.9 113.6,361.8 114.0,362.1 114.5,361.7 115.0,361.2 115.4,361.6 115.9,361.2 116.4,361.2 116.8,360.9 117.3,361.0 117.8,361.4 118.2,361.0 118.7,360.9 119.2,360.6 119.6,360.7 120.1,360.8 120.6,360.6 121.0,360.6 121.5,360.4 122.0,360.6 122.4,359.7 122.9,360.0 123.4,359.8 123.8,359.9 124.3,360.1 124.8,360.1 125.2,360.2 125.7,359.9 126.2,360.2 126.7,360.3 127.1,359.8 127.6,360.3 128.1,359.6 128.5,359.8 129.0,359.3 129.5,359.2 129.9,359.3 130.4,359.5 130.9,359.5 131.3,359.2 131.8,359.3 132.3,359.3 132.7,359.2 133.2,358.6 133.7,358.6 134.1,358.3 134.6,358.6 135.1,358.5 135.5,358.7 136.0,358.4 136.5,358.3 136.9,358.9 137.4,358.4 137.9,358.3 138.3,358.5 138.8,358.6 139.3,358.5 139.7,358.1 140.2,358.2 140.7,358.1 141.1,358.2 141.6,358.3 142.1,358.1 142.5,358.1 143.0,357.9 143.5,357.6 144.0,357.8 144.4,358.1 144.9,357.8 145.4,357.9 145.8,357.8 146.3,358.0 146.8,357.3 147.2,357.7 147.7,357.5 148.2,357.0 148.6,356.9 149.1,356.9 149.6,356.7 150.0,356.8 150.5,357.0 151.0,356.9 151.4,357.0 151.6,357.1 151.6,350.5 151.8,353.0 151.9,355.3 152.1,357.4 152.2,359.3 152.4,361.1 152.5,362.5 152.7,364.2 152.8,366.2 153.0,367.8 153.1,369.2 153.2,370.4 153.4,371.6 153.5,372.9 153.7,374.2 153.8,375.3 154.0,376.2 154.1,377.2 154.3,377.8 154.4,377.8 154.6,378.8 154.7,378.8 154.9,378.8 155.0,379.7 155.1,379.8 155.6,381.1 156.1,382.5 156.5,383.3 157.0,384.2 157.5,384.6 158.0,385.3 158.4,386.1 158.9,386.3 159.4,386.9 159.8,387.5 160.3,388.0 160.8,387.8 161.2,387.8 161.7,388.0 162.2,388.9 162.6,388.6 163.1,389.0 163.6,389.4 164.0,390.0 164.5,389.9 165.0,390.1 165.4,390.3 165.9,390.2 166.4,390.5 166.8,390.8 167.3,390.5 167.8,391.3 168.2,391.1 168.7,391.4 169.2,391.3 169.6,391.9 170.1,392.1 170.6,391.9 171.0,392.4 171.5,392.8 172.0,392.8 172.4,392.7 172.9,393.0 173.4,392.5 173.8,393.1 174.3,393.2 174.8,393.4 175.3,393.7 175.7,393.8 176.2,394.3 176.7,394.4 177.1,394.8 177.6,394.1 178.1,394.3 178.5,394.2 179.0,393.9 179.5,394.1 179.9,394.5 180.4,394.5 180.9,394.3 181.3,394.5 181.8,394.8 182.3,394.6 182.7,395.0 183.2,394.6 183.7,394.8 184.1,395.5 184.6,395.1 185.1,395.6 185.5,395.5 186.0,395.2 186.5,395.2 186.9,395.7 187.4,395.5 187.9,395.7 188.3,395.8 188.8,395.6 189.3,395.5 189.7,395.6 190.2,395.8 190.7,395.7 191.2,396.1 191.6,395.8 192.1,396.0 192.6,396.2 193.0,396.4 193.5,396.4 194.0,396.8 194.4,396.4 194.9,396.4 195.4,396.2 195.8,396.7 196.3,396.5 196.8,396.4 197.2,396.7 197.7,396.6 198.2,396.8 198.6,397.1 199.1,397.1 199.6,396.9 200.0,396.8 200.5,397.3 201.0,397.0 201.4,396.7 201.9,396.9 202.4,396.8 202.8,396.8 203.3,397.0 203.8,397.2 204.2,397.1 204.7,396.9 205.2,396.8 205.6,396.9 206.1,397.8 206.6,397.0 207.0,397.4 207.5,397.3 208.0,397.3 208.5,397.6 208.9,397.5 209.4,397.6 209.9,397.3 210.3,397.3 210.8,397.2 211.3,397.3 211.7,397.1 212.2,397.1 212.7,397.3 213.1,397.2 213.6,397.8 214.1,397.5 214.5,397.5 215.0,397.4 215.5,397.7 215.9,397.1 216.4,397.6 216.9,398.0 217.3,398.0 217.8,397.8 218.3,397.8 218.7,397.6 219.2,397.6 219.7,397.3 220.1,397.4 220.6,397.5 221.1,397.3 221.5,397.8 222.0,398.0 222.5,397.9 222.9,397.8 223.4,398.0 223.9,397.8 224.4,397.7 224.8,397.8 225.3,398.3 225.8,398.3 226.2,398.0 226.7,397.7 227.2,398.3 227.6,398.3 228.1,398.5 228.6,398.4 229.0,398.2 229.5,398.2 230.0,397.9 230.4,398.5 230.9,398.1 231.4,397.9 231.8,398.1 232.3,398.4 232.8,398.4 233.2,398.5 233.7,398.8 234.2,398.7 234.6,398.8 235.1,398.6 235.6,398.9 236.0,398.5 236.5,398.8 237.0,398.8 237.4,398.5 237.9,398.6 238.4,398.2 238.8,398.4 239.3,398.2 239.8,398.2 240.2,398.7 240.7,398.5 241.2,398.6 241.7,398.8 242.1,398.4 242.6,398.6 243.1,399.1 243.5,398.7 244.0,398.8 244.5,399.0 244.9,398.9 245.4,398.5 245.9,398.6 246.3,399.1 246.8,398.4 247.3,398.7 247.7,398.5 248.2,398.8 248.7,398.6 249.1,398.7 249.6,398.4 250.1,398.5 250.5,398.6 251.0,398.7 251.5,398.6 251.9,398.9 252.4,398.8 252.9,398.8 253.3,398.4 253.8,398.9 254.3,398.8 254.7,398.8 255.2,398.8 255.7,398.8 256.1,398.9 256.6,398.6"/>
<polyline fill="none" stroke="#6aad48" stroke-width="1.1" stroke-linejoin="round" points="51.7,410.1 52.2,410.3 52.8,409.8 53.4,409.5 54.0,410.3 54.6,410.0 55.2,410.1 55.8,410.0 56.3,409.9 56.9,409.9 57.5,409.8 58.1,409.9 58.7,406.1 59.3,410.2 59.8,409.7 60.4,412.3 61.0,410.0 61.6,409.9 62.2,410.0 62.8,410.0 63.3,409.8 63.9,409.7 64.5,409.8 65.1,409.8 65.7,410.3 66.3,409.9 66.9,410.4 67.4,410.3 68.0,410.2 68.6,409.2 69.2,410.0 69.8,410.3 70.4,409.7 70.9,409.7 71.5,409.9 72.1,409.8 72.7,410.2 73.3,409.7 73.9,410.3 74.5,410.1 75.0,410.0 75.6,410.3 76.2,410.1 76.8,409.5 77.4,410.3 78.0,409.6 78.5,410.3 79.1,410.1 79.7,409.5 80.3,409.7 80.9,410.2 81.1,409.2 81.2,398.4 81.4,389.5 81.5,381.7 81.6,375.3 81.8,370.1 81.9,366.3 82.1,364.1 82.2,362.5 82.4,361.4 82.5,360.2 82.7,359.6 82.8,358.7 83.0,357.9 83.1,357.3 83.3,356.9 83.4,356.2 83.5,355.4 83.7,355.0 83.8,354.7 84.0,353.7 84.1,353.3 84.3,353.4 84.4,353.2 84.6,352.9 85.0,352.2 85.5,351.5 86.0,351.0 86.4,350.5 86.9,350.2 87.4,350.1 87.8,349.4 88.3,349.5 88.8,349.3 89.2,348.6 89.7,349.0 90.2,348.3 90.6,348.4 91.1,347.8 91.6,347.2 92.0,347.3 92.5,347.5 93.0,347.1 93.5,347.1 93.9,346.6 94.4,346.2 94.9,346.3 95.3,345.7 95.8,345.9 96.3,346.0 96.7,345.2 97.2,345.0 97.7,344.9 98.1,344.9 98.6,344.5 99.1,344.5 99.5,344.0 100.0,343.8 100.5,344.2 100.9,344.1 101.4,344.3 101.9,343.9 102.3,343.8 102.8,343.5 103.3,343.0 103.7,343.2 104.2,342.8 104.7,342.2 105.1,342.0 105.6,342.0 106.1,342.2 106.5,342.4 107.0,342.0 107.5,342.0 107.9,341.6 108.4,341.4 108.9,341.0 109.3,341.4 109.8,341.0 110.3,340.9 110.8,341.0 111.2,340.8 111.7,341.0 112.2,340.3 112.6,340.3 113.1,339.9 113.6,340.4 114.0,340.4 114.5,340.5 115.0,340.4 115.4,339.5 115.9,340.2 116.4,339.6 116.8,340.1 117.3,339.5 117.8,339.7 118.2,339.1 118.7,339.2 119.2,339.2 119.6,339.3 120.1,339.2 120.6,338.9 121.0,338.7 121.5,338.6 122.0,338.6 122.4,338.6 122.9,338.5 123.4,338.6 123.8,338.8 124.3,338.6 124.8,338.2 125.2,338.1 125.7,338.1 126.2,337.9 126.7,338.1 127.1,337.7 127.6,337.8 128.1,338.0 128.5,337.9 129.0,338.1 129.5,338.1 129.9,337.7 130.4,337.6 130.9,337.4 131.3,337.7 131.8,337.5 132.3,337.0 132.7,337.6 133.2,337.6 133.7,337.3 134.1,337.3 134.6,337.2 135.1,337.2 135.5,337.5 136.0,337.7 136.5,336.9 136.9,336.8 137.4,336.9 137.9,336.7 138.3,336.8 138.8,336.4 139.3,336.4 139.7,336.4 140.2,336.5 140.7,336.4 141.1,335.9 141.6,336.0 142.1,336.5 142.5,336.2 143.0,336.7 143.5,336.3 144.0,336.5 144.4,336.1 144.9,336.1 145.4,336.5 145.8,336.1 146.3,335.8 146.8,335.6 147.2,335.9 147.7,335.7 148.2,336.1 148.6,335.8 149.1,335.5 149.6,335.6 150.0,335.7 150.5,335.6 151.0,335.4 151.4,335.6 151.6,335.6 151.6,334.2 151.8,334.7 151.9,335.9 152.1,337.2 152.2,338.7 152.4,340.1 152.5,341.7 152.7,342.6 152.8,345.0 153.0,346.9 153.1,349.0 153.2,351.2 153.4,353.5 153.5,355.0 153.7,355.9 153.8,357.2 154.0,358.5 154.1,359.5 154.3,360.7 154.4,361.3 154.6,362.2 154.7,363.3 154.9,364.4 155.0,364.4 155.1,365.2 155.6,367.9 156.1,369.4 156.5,371.1 157.0,372.6 157.5,373.9 158.0,374.7 158.4,375.7 158.9,376.6 159.4,377.8 159.8,377.8 160.3,378.5 160.8,378.6 161.2,379.3 161.7,380.0 162.2,380.3 162.6,380.9 163.1,381.2 163.6,381.7 164.0,381.6 164.5,382.1 165.0,382.1 165.4,382.2 165.9,382.2 166.4,382.4 166.8,383.1 167.3,383.2 167.8,383.4 168.2,383.7 168.7,383.8 169.2,383.7 169.6,383.8 170.1,383.9 170.6,384.3 171.0,384.2 171.5,384.3 172.0,384.4 172.4,384.9 172.9,384.9 173.4,385.3 173.8,385.3 174.3,385.9 174.8,385.8 175.3,386.2 175.7,385.6 176.2,385.9 176.7,385.8 177.1,386.1 177.6,386.1 178.1,386.5 178.5,386.7 179.0,386.4 179.5,386.8 179.9,386.6 180.4,387.2 180.9,386.8 181.3,386.9 181.8,387.2 182.3,387.0 182.7,387.1 183.2,387.0 183.7,387.9 184.1,387.4 184.6,387.6 185.1,387.6 185.5,387.8 186.0,387.9 186.5,388.0 186.9,388.8 187.4,388.5 187.9,388.5 188.3,388.8 188.8,388.5 189.3,388.0 189.7,388.1 190.2,388.4 190.7,388.4 191.2,388.9 191.6,389.0 192.1,389.4 192.6,389.2 193.0,389.3 193.5,389.7 194.0,389.7 194.4,389.4 194.9,389.7 195.4,389.5 195.8,389.5 196.3,390.0 196.8,390.1 197.2,390.0 197.7,390.2 198.2,390.5 198.6,390.2 199.1,390.4 199.6,390.1 200.0,390.4 200.5,390.5 201.0,390.2 201.4,390.1 201.9,390.6 202.4,390.8 202.8,390.9 203.3,390.8 203.8,391.2 204.2,391.2 204.7,391.4 205.2,391.3 205.6,391.4 206.1,391.3 206.6,391.4 207.0,391.6 207.5,391.7 208.0,391.4 208.5,391.9 208.9,391.7 209.4,392.3 209.9,391.9 210.3,392.1 210.8,391.7 211.3,392.4 211.7,392.6 212.2,392.3 212.7,392.4 213.1,392.8 213.6,392.5 214.1,392.5 214.5,392.9 215.0,392.5 215.5,392.6 215.9,392.4 216.4,392.7 216.9,392.4 217.3,392.7 217.8,392.6 218.3,392.7 218.7,392.9 219.2,393.0 219.7,392.9 220.1,393.2 220.6,393.2 221.1,393.6 221.5,393.2 222.0,393.2 222.5,393.3 222.9,393.4 223.4,393.4 223.9,393.3 224.4,394.0 224.8,393.6 225.3,393.8 225.8,393.8 226.2,393.6 226.7,393.6 227.2,393.6 227.6,393.7 228.1,394.0 228.6,393.7 229.0,394.3 229.5,394.2 230.0,394.2 230.4,394.6 230.9,394.3 231.4,394.6 231.8,394.4 232.3,394.5 232.8,394.1 233.2,394.4 233.7,394.3 234.2,394.6 234.6,394.5 235.1,394.6 235.6,394.3 236.0,394.5 236.5,394.5 237.0,394.2 237.4,394.5 237.9,394.4 238.4,394.8 238.8,394.5 239.3,394.9 239.8,395.3 240.2,395.2 240.7,394.8 241.2,394.8 241.7,395.1 242.1,394.9 242.6,395.0 243.1,395.0 243.5,394.7 244.0,394.8 244.5,395.4 244.9,394.9 245.4,395.1 245.9,395.1 246.3,395.0 246.8,394.9 247.3,395.1 247.7,395.2 248.2,395.2 248.7,395.2 249.1,395.5 249.6,395.2 250.1,395.6 250.5,395.9 251.0,395.8 251.5,395.4 251.9,395.2 252.4,395.5 252.9,395.5 253.3,395.1 253.8,395.2 254.3,395.7 254.7,395.8 255.2,395.7 255.7,395.8 256.1,395.9 256.6,396.2"/>
<polyline fill="none" stroke="#35558e" stroke-width="1.1" stroke-linejoin="round" points="51.7,410.1 52.2,410.1 52.8,410.4 53.4,410.3 54.0,409.9 54.6,409.8 55.2,410.2 55.8,409.6 56.3,409.9 56.9,409.9 57.5,410.1 58.1,409.7 58.7,410.0 59.3,410.3 59.8,409.5 60.4,409.8 61.0,409.9 61.6,410.6 62.2,410.1 62.8,410.0 63.3,409.8 63.9,409.8 64.5,410.1 65.1,410.0 65.7,410.5 66.3,410.0 66.9,410.1 67.4,410.0 68.0,409.3 68.6,409.7 69.2,409.7 69.8,409.8 70.4,410.0 70.9,410.0 71.5,409.6 72.1,410.3 72.7,410.0 73.3,410.0 73.9,409.6 74.5,409.7 75.0,410.1 75.6,409.8 76.2,410.0 76.8,410.1 77.4,410.0 78.0,410.1 78.5,410.3 79.1,410.4 79.7,410.2 80.3,410.2 80.9,409.9 80.9,420.4 81.0,420.4 81.1,409.2 81.2,395.1 81.4,383.6 81.5,373.6 81.6,365.3 81.8,358.4 81.9,353.6 82.1,350.7 82.2,348.6 82.4,347.5 82.5,345.3 82.7,344.6 82.8,343.4 83.0,342.9 83.1,341.8 83.3,341.3 83.4,340.4 83.5,339.9 83.7,339.0 83.8,338.4 84.0,337.7 84.1,337.2 84.3,336.4 84.4,336.2 84.6,335.9 85.0,334.9 85.5,334.6 86.0,334.0 86.4,333.2 86.9,333.1 87.4,332.7 87.8,332.2 88.3,332.2 88.8,331.6 89.2,331.3 89.7,330.7 90.2,330.7 90.6,330.5 91.1,330.5 91.6,330.1 92.0,329.6 92.5,329.2 93.0,329.2 93.5,328.9 93.9,328.5 94.4,328.2 94.9,328.3 95.3,327.6 95.8,327.3 96.3,327.0 96.7,326.8 97.2,326.6 97.7,326.7 98.1,326.4 98.6,326.1 99.1,325.8 99.5,326.0 100.0,325.9 100.5,325.2 100.9,325.0 101.4,325.0 101.9,324.6 102.3,324.4 102.8,323.9 103.3,324.1 103.7,323.7 104.2,323.5 104.7,323.1 105.1,322.7 105.6,322.5 106.1,322.4 106.5,322.3 107.0,322.1 107.5,322.0 107.9,321.8 108.4,321.2 108.9,321.7 109.3,321.3 109.8,321.2 110.3,321.4 110.8,321.2 111.2,320.9 111.7,321.4 112.2,321.1 112.6,320.6 113.1,320.1 113.6,320.5 114.0,320.1 114.5,320.0 115.0,319.5 115.4,319.9 115.9,319.2 116.4,319.3 116.8,319.2 117.3,318.8 117.8,318.8 118.2,319.3 118.7,318.5 119.2,318.4 119.6,318.5 120.1,318.4 120.6,318.1 121.0,318.1 121.5,318.0 122.0,317.8 122.4,317.8 122.9,317.6 123.4,317.2 123.8,317.3 124.3,317.3 124.8,317.4 125.2,317.1 125.7,316.8 126.2,316.7 126.7,317.0 127.1,317.0 127.6,316.4 128.1,316.9 128.5,316.7 129.0,316.4 129.5,316.1 129.9,315.8 130.4,315.6 130.9,315.9 131.3,315.8 131.8,315.7 132.3,315.8 132.7,315.9 133.2,315.9 133.7,315.4 134.1,315.5 134.6,315.7 135.1,315.0 135.5,315.3 136.0,315.0 136.5,315.2 136.9,314.9 137.4,315.1 137.9,314.8 138.3,314.0 138.8,314.1 139.3,314.2 139.7,314.4 140.2,314.5 140.7,314.0 141.1,314.1 141.6,314.2 142.1,314.2 142.5,314.3 143.0,314.0 143.5,314.1 144.0,314.2 144.4,314.3 144.9,313.6 145.4,313.4 145.8,313.5 146.3,313.4 146.8,313.1 147.2,313.5 147.7,314.0 148.2,313.7 148.6,313.7 149.1,313.6 149.6,313.4 150.0,313.2 150.5,313.2 151.0,313.2 151.4,313.1 151.6,312.9 151.6,311.9 151.8,323.0 151.9,331.0 152.1,336.8 152.2,341.0 152.4,344.2 152.5,346.9 152.7,349.1 152.8,350.5 153.0,352.2 153.1,353.0 153.2,354.3 153.4,355.3 153.5,355.5 153.7,356.5 153.8,356.8 154.0,357.2 154.1,357.7 154.3,357.7 154.4,358.2 154.6,358.8 154.7,359.4 154.9,360.0 155.0,360.7 155.1,360.7 155.6,361.7 156.1,362.5 156.5,362.9 157.0,364.1 157.5,365.0 158.0,365.7 158.4,366.7 158.9,367.2 159.4,368.2 159.8,368.6 160.3,369.1 160.8,369.2 161.2,369.9 161.7,369.9 162.2,370.6 162.6,370.5 163.1,371.3 163.6,372.1 164.0,372.8 164.5,372.6 165.0,373.3 165.4,373.3 165.9,373.2 166.4,373.8 166.8,373.7 167.3,374.5 167.8,374.4 168.2,374.6 168.7,374.6 169.2,374.7 169.6,375.2 170.1,375.5 170.6,375.3 171.0,375.7 171.5,375.7 172.0,375.7 172.4,376.3 172.9,376.5 173.4,376.9 173.8,377.0 174.3,376.7 174.8,377.2 175.3,377.1 175.7,377.0 176.2,377.6 176.7,377.3 177.1,377.6 177.6,377.9 178.1,378.0 178.5,378.3 179.0,378.4 179.5,378.4 179.9,379.1 180.4,379.1 180.9,379.1 181.3,379.1 181.8,379.6 182.3,379.5 182.7,379.9 183.2,379.4 183.7,379.8 184.1,379.9 184.6,379.8 185.1,380.0 185.5,380.3 186.0,380.4 186.5,380.1 186.9,380.3 187.4,380.8 187.9,381.0 188.3,380.9 188.8,380.5 189.3,380.5 189.7,381.0 190.2,381.0 190.7,381.5 191.2,381.4 191.6,382.0 192.1,381.7 192.6,382.0 193.0,381.9 193.5,382.0 194.0,382.1 194.4,382.3 194.9,382.0 195.4,382.6 195.8,382.6 196.3,382.5 196.8,382.4 197.2,382.3 197.7,382.9 198.2,382.8 198.6,383.1 199.1,382.9 199.6,383.2 200.0,383.3 200.5,383.8 201.0,383.6 201.4,383.6 201.9,383.8 202.4,383.7 202.8,383.3 203.3,383.5 203.8,383.4 204.2,383.7 204.7,383.7 205.2,383.7 205.6,384.0 206.1,384.0 206.6,383.9 207.0,384.0 207.5,383.9 208.0,383.8 208.5,384.3 208.9,383.9 209.4,384.2 209.9,383.7 210.3,384.5 210.8,384.5 211.3,384.9 211.7,385.2 212.2,384.9 212.7,384.7 213.1,385.2 213.6,385.2 214.1,385.4 214.5,385.5 215.0,385.8 215.5,385.6 215.9,385.5 216.4,385.1 216.9,385.8 217.3,385.5 217.8,385.7 218.3,385.5 218.7,385.7 219.2,385.6 219.7,385.9 220.1,385.9 220.6,386.4 221.1,386.7 221.5,386.3 222.0,386.7 222.5,386.4 222.9,386.6 223.4,386.5 223.9,386.6 224.4,386.4 224.8,386.5 225.3,386.4 225.8,387.1 226.2,386.3 226.7,386.7 227.2,386.4 227.6,386.5 228.1,387.1 228.6,386.6 229.0,386.5 229.5,387.2 230.0,387.1 230.4,387.1 230.9,387.3 231.4,387.2 231.8,387.2 232.3,387.0 232.8,386.9 233.2,386.9 233.7,387.0 234.2,386.9 234.6,387.3 235.1,387.6 235.6,387.5 236.0,387.5 236.5,387.5 237.0,387.5 237.4,387.1 237.9,386.9 238.4,387.2 238.8,387.2 239.3,387.7 239.8,388.2 240.2,388.2 240.7,388.3 241.2,387.8 241.7,388.2 242.1,387.6 242.6,387.5 243.1,388.3 243.5,388.2 244.0,388.2 244.5,388.0 244.9,388.2 245.4,388.2 245.9,388.3 246.3,388.2 246.8,388.5 247.3,388.3 247.7,388.0 248.2,387.7 248.7,388.3 249.1,388.3 249.6,388.5 250.1,388.2 250.5,388.4 251.0,388.4 251.5,388.6 251.9,388.3 252.4,388.6 252.9,388.5 253.3,388.6 253.8,388.8 254.3,388.9 254.7,388.7 255.2,388.9 255.7,388.8 256.1,388.8 256.6,388.6"/>
<polyline fill="none" stroke="#ae2840" stroke-width="1.1" stroke-linejoin="round" points="51.7,410.2 52.2,410.1 52.8,409.6 53.4,410.2 54.0,409.5 54.6,409.3 55.2,409.8 55.8,410.1 56.3,409.9 56.9,409.9 57.5,410.3 58.1,409.8 58.7,409.9 59.3,410.0 59.8,409.9 60.4,410.0 61.0,409.8 61.6,409.9 62.2,410.1 62.8,410.4 63.3,410.1 63.9,409.9 64.5,410.2 65.1,410.1 65.7,410.0 66.3,409.8 66.9,410.2 67.4,409.8 68.0,409.9 68.6,410.0 69.2,409.9 69.8,410.2 70.4,409.9 70.9,410.1 71.5,409.9 72.1,410.1 72.7,410.0 73.3,409.8 73.9,409.6 74.5,410.3 75.0,409.8 75.6,409.7 76.2,410.1 76.8,409.8 77.4,410.1 78.0,409.5 78.5,409.9 79.1,409.4 79.7,409.9 80.3,410.4 80.9,409.9 81.1,409.2 81.2,392.7 81.4,379.1 81.5,367.3 81.6,357.6 81.8,349.5 81.9,343.8 82.1,340.4 82.2,337.7 82.4,335.6 82.5,334.2 82.7,333.1 82.8,332.1 83.0,330.7 83.1,330.3 83.3,329.0 83.4,328.0 83.5,327.0 83.7,326.5 83.8,325.9 84.0,324.8 84.1,324.7 84.3,324.3 84.4,323.7 84.6,323.1 85.0,321.8 85.5,321.2 86.0,320.2 86.4,319.8 86.9,319.2 87.4,319.0 87.8,318.5 88.3,318.2 88.8,317.4 89.2,316.7 89.7,316.4 90.2,315.9 90.6,315.4 91.1,315.3 91.6,315.0 92.0,314.2 92.5,314.2 93.0,314.2 93.5,313.9 93.9,313.7 94.4,312.8 94.9,312.5 95.3,312.3 95.8,312.1 96.3,312.1 96.7,311.4 97.2,311.4 97.7,310.9 98.1,310.7 98.6,310.4 99.1,309.9 99.5,309.8 100.0,309.5 100.5,308.6 100.9,308.8 101.4,308.4 101.9,308.3 102.3,308.0 102.8,307.3 103.3,307.1 103.7,307.1 104.2,306.5 104.7,306.7 105.1,306.4 105.6,306.1 106.1,305.7 106.5,305.4 107.0,305.1 107.5,305.5 107.9,305.0 108.4,304.6 108.9,304.2 109.3,304.2 109.8,304.4 110.3,304.1 110.8,303.4 111.2,303.8 111.7,303.8 112.2,303.4 112.6,302.9 113.1,302.8 113.6,302.5 114.0,302.6 114.5,302.4 115.0,301.9 115.4,301.9 115.9,301.3 116.4,301.3 116.8,300.9 117.3,300.6 117.8,300.7 118.2,300.9 118.7,300.0 119.2,299.9 119.6,299.8 120.1,299.6 120.6,299.3 121.0,299.2 121.5,299.1 122.0,299.3 122.4,298.7 122.9,298.5 123.4,298.5 123.8,298.4 124.3,297.5 124.8,298.2 125.2,297.5 125.7,297.4 126.2,297.1 126.7,297.2 127.1,297.1 127.6,296.7 128.1,296.9 128.5,296.8 129.0,296.4 129.5,295.9 129.9,296.1 130.4,295.9 130.9,295.6 131.3,295.3 131.8,295.7 132.3,295.8 132.7,295.5 133.2,295.5 133.7,294.6 134.1,294.6 134.6,294.4 135.1,294.4 135.5,294.2 136.0,294.4 136.5,294.1 136.9,294.5 137.4,294.3 137.9,294.2 138.3,293.9 138.8,293.7 139.3,293.7 139.7,293.5 140.2,293.3 140.7,292.6 141.1,292.9 141.6,292.5 142.1,292.4 142.5,293.1 143.0,292.7 143.5,293.1 144.0,292.6 144.4,292.6 144.9,292.2 145.4,292.5 145.8,292.4 146.3,292.5 146.8,291.9 147.2,292.0 147.7,291.7 148.2,291.6 148.6,291.0 149.1,291.4 149.6,291.4 150.0,291.1 150.5,291.2 151.0,291.1 151.4,291.2 151.6,291.0 151.6,288.4 151.8,297.3 151.9,306.2 152.1,314.6 152.2,323.8 152.4,333.1 152.5,338.2 152.7,340.9 152.8,343.1 153.0,344.3 153.1,345.3 153.2,346.4 153.4,347.2 153.5,348.2 153.7,348.8 153.8,349.5 154.0,350.3 154.1,350.5 154.3,351.0 154.4,351.5 154.6,351.7 154.7,352.3 154.9,352.4 155.0,353.1 155.1,353.2 155.6,353.8 156.1,354.6 156.5,354.9 157.0,355.7 157.5,356.2 158.0,356.7 158.4,357.3 158.9,357.8 159.4,358.6 159.8,358.8 160.3,359.5 160.8,360.3 161.2,360.5 161.7,360.6 162.2,361.0 162.6,361.3 163.1,361.3 163.6,362.0 164.0,362.1 164.5,363.1 165.0,362.7 165.4,363.2 165.9,363.5 166.4,363.8 166.8,364.1 167.3,364.4 167.8,364.8 168.2,364.5 168.7,365.1 169.2,365.6 169.6,365.5 170.1,365.7 170.6,366.0 171.0,366.0 171.5,366.6 172.0,366.5 172.4,366.4 172.9,367.3 173.4,367.3 173.8,367.4 174.3,367.2 174.8,367.8 175.3,367.6 175.7,368.1 176.2,368.1 176.7,368.3 177.1,368.4 177.6,368.5 178.1,368.2 178.5,368.6 179.0,368.6 179.5,368.8 179.9,369.2 180.4,369.4 180.9,369.3 181.3,369.2 181.8,369.3 182.3,369.3 182.7,369.8 183.2,369.7 183.7,370.1 184.1,370.1 184.6,370.1 185.1,369.8 185.5,369.9 186.0,370.1 186.5,369.5 186.9,370.0 187.4,369.6 187.9,370.2 188.3,370.6 188.8,370.5 189.3,370.6 189.7,370.6 190.2,371.0 190.7,371.2 191.2,371.2 191.6,371.0 192.1,371.4 192.6,371.6 193.0,371.6 193.5,371.7 194.0,371.5 194.4,371.8 194.9,370.8 195.4,371.3 195.8,371.3 196.3,371.1 196.8,371.5 197.2,371.2 197.7,371.3 198.2,371.4 198.6,371.7 199.1,371.8 199.6,371.9 200.0,371.9 200.5,372.0 201.0,372.1 201.4,372.1 201.9,372.2 202.4,372.1 202.8,372.1 203.3,372.5 203.8,372.4 204.2,372.7 204.7,372.2 205.2,372.6 205.6,372.4 206.1,372.4 206.6,372.0 207.0,372.2 207.5,372.6 208.0,372.7 208.5,372.3 208.9,372.4 209.4,372.5 209.9,372.8 210.3,372.8 210.8,372.7 211.3,373.3 211.7,373.2 212.2,373.3 212.7,373.1 213.1,373.7 213.6,373.4 214.1,373.5 214.5,373.5 215.0,373.3 215.5,373.0 215.9,373.6 216.4,373.2 216.9,373.2 217.3,373.7 217.8,373.5 218.3,373.5 218.7,373.5 219.2,373.5 219.7,373.7 220.1,373.3 220.6,373.4 221.1,373.3 221.5,373.4 222.0,373.8 222.5,373.6 222.9,373.6 223.4,373.5 223.9,373.8 224.4,373.4 224.8,373.9 225.3,373.8 225.8,373.8 226.2,373.6 226.7,374.2 227.2,373.9 227.6,373.7 228.1,373.6 228.6,373.9 229.0,374.1 229.5,374.1 230.0,374.5 230.4,374.4 230.9,374.5 231.4,374.6 231.8,374.4 232.3,374.0 232.8,374.4 233.2,374.1 233.7,374.4 234.2,374.7 234.6,374.4 235.1,374.5 235.6,374.8 236.0,374.5 236.5,374.5 237.0,374.7 237.4,374.6 237.9,375.1 238.4,375.3 238.8,375.4 239.3,374.9 239.8,375.5 240.2,374.6 240.7,374.8 241.2,375.0 241.7,375.2 242.1,375.0 242.6,375.4 243.1,375.3 243.5,375.4 244.0,375.5 244.5,375.9 244.9,375.7 245.4,375.4 245.9,375.6 246.3,375.0 246.8,375.2 247.3,375.5 247.7,375.6 248.2,375.4 248.7,376.1 249.1,375.7 249.6,375.1 250.1,375.2 250.5,375.6 251.0,375.2 251.5,375.4 251.9,375.6 252.4,375.5 252.9,375.7 253.3,375.3 253.8,375.8 254.3,376.2 254.7,376.5 255.2,376.5 255.7,376.2 256.1,376.2 256.6,376.1"/>
<text x="54.47" y="439.7" font-size="12.1" textLength="16.48" lengthAdjust="spacingAndGlyphs">-20</text>
<text x="64.61" y="414.62" font-size="12.1" textLength="6.34" lengthAdjust="spacingAndGlyphs">0</text>
<text x="58.27" y="389.53" font-size="12.1" textLength="12.68" lengthAdjust="spacingAndGlyphs">20</text>
<text x="58.27" y="364.45" font-size="12.1" textLength="12.68" lengthAdjust="spacingAndGlyphs">40</text>
<text x="58.27" y="339.36" font-size="12.1" textLength="12.68" lengthAdjust="spacingAndGlyphs">60</text>
<text x="58.27" y="314.28" font-size="12.1" textLength="12.68" lengthAdjust="spacingAndGlyphs">80</text>
<text x="51.92" y="289.19" font-size="12.1" textLength="19.02" lengthAdjust="spacingAndGlyphs">100</text>
<text x="51.92" y="264.11" font-size="12.1" textLength="19.02" lengthAdjust="spacingAndGlyphs">120</text>
<text x="43.73" y="426.7" font-size="12.1" textLength="16.48" lengthAdjust="spacingAndGlyphs">-50</text>
<text x="103.15" y="426.7" font-size="12.1" textLength="12.68" lengthAdjust="spacingAndGlyphs">50</text>
<text x="158.38" y="426.7" font-size="12.1" textLength="19.02" lengthAdjust="spacingAndGlyphs">150</text>
<text x="217.23" y="426.7" font-size="12.1" textLength="19.02" lengthAdjust="spacingAndGlyphs">250</text>
<text x="-1.05" y="0" font-size="14.7" textLength="125.75" lengthAdjust="spacingAndGlyphs" transform="translate(42.7,400.0) rotate(-90)">Response units (RUs)</text>
<text x="120.70" y="444.8" font-size="14.7" textLength="90.71" lengthAdjust="spacingAndGlyphs">Time (seconds)</text>
<text x="98.27" y="240.2" font-size="14.7" textLength="136.62" lengthAdjust="spacingAndGlyphs">Affimer F5 - fibrinogen</text>
<line x1="332.5" y1="256.1" x2="332.5" y2="438.7" stroke="#141414" stroke-width="1.3"/>
<line x1="298.2" y1="409.8" x2="507.9" y2="409.8" stroke="#141414" stroke-width="1.6"/>
<line x1="327.7" y1="434.47" x2="332.5" y2="434.47" stroke="#141414" stroke-width="1.3"/>
<line x1="327.7" y1="409.6" x2="332.5" y2="409.6" stroke="#141414" stroke-width="1.3"/>
<line x1="327.7" y1="384.73" x2="332.5" y2="384.73" stroke="#141414" stroke-width="1.3"/>
<line x1="327.7" y1="359.86" x2="332.5" y2="359.86" stroke="#141414" stroke-width="1.3"/>
<line x1="327.7" y1="334.99" x2="332.5" y2="334.99" stroke="#141414" stroke-width="1.3"/>
<line x1="327.7" y1="310.12" x2="332.5" y2="310.12" stroke="#141414" stroke-width="1.3"/>
<line x1="327.7" y1="285.25" x2="332.5" y2="285.25" stroke="#141414" stroke-width="1.3"/>
<line x1="327.7" y1="260.38" x2="332.5" y2="260.38" stroke="#141414" stroke-width="1.3"/>
<line x1="303.2" y1="409.8" x2="303.2" y2="414.6" stroke="#141414" stroke-width="1.3"/>
<line x1="364.2" y1="409.8" x2="364.2" y2="414.6" stroke="#141414" stroke-width="1.3"/>
<line x1="421.9" y1="409.8" x2="421.9" y2="414.6" stroke="#141414" stroke-width="1.3"/>
<line x1="479.8" y1="409.8" x2="479.8" y2="414.6" stroke="#141414" stroke-width="1.3"/>
<polyline fill="none" stroke="#9b90c8" stroke-width="1.1" stroke-linejoin="round" points="303.6,409.6 304.2,408.8 304.8,408.8 305.4,409.9 306.0,409.8 306.6,409.9 307.2,409.2 307.8,409.6 308.4,409.1 308.9,410.7 309.5,408.6 310.1,409.7 310.7,409.2 311.3,409.7 311.9,409.8 312.5,409.3 313.1,409.1 313.7,409.7 314.2,409.7 314.8,409.2 315.4,410.1 316.0,410.5 316.6,409.4 317.2,410.0 317.8,410.8 318.4,410.1 319.0,409.9 319.5,410.3 320.1,410.5 320.7,409.6 321.3,409.0 321.9,409.7 322.5,410.1 323.1,409.4 323.7,409.2 324.3,409.8 324.8,409.3 325.4,409.0 326.0,409.7 326.6,410.1 327.2,409.4 327.8,409.4 328.4,408.9 329.0,410.4 329.6,410.0 330.1,410.1 330.7,410.7 331.3,409.5 331.9,409.3 332.5,410.1 333.1,408.7 333.7,409.1 334.3,409.2 334.6,409.6 334.8,409.4 334.9,409.2 335.1,409.0 335.2,408.9 335.4,408.7 335.5,408.5 335.7,408.4 335.8,408.6 335.9,408.5 336.1,408.1 336.2,407.8 336.4,407.6 336.5,407.2 336.7,407.4 336.8,407.4 337.0,407.4 337.1,407.1 337.3,407.1 337.4,406.9 337.6,406.8 337.7,406.8 337.9,406.6 338.0,407.2 338.2,406.8 338.6,406.5 339.1,406.1 339.6,406.2 340.0,405.6 340.5,405.8 341.0,405.3 341.5,405.1 341.9,405.5 342.4,405.2 342.9,405.1 343.3,404.7 343.8,404.6 344.3,404.3 344.8,404.8 345.2,404.6 345.7,404.4 346.2,404.0 346.6,404.2 347.1,404.4 347.6,404.2 348.0,404.2 348.5,404.2 349.0,404.0 349.5,403.9 349.9,403.8 350.4,403.7 350.9,403.9 351.3,404.1 351.8,403.7 352.3,403.4 352.8,403.5 353.2,403.4 353.7,402.8 354.2,402.9 354.6,402.5 355.1,402.8 355.6,402.8 356.1,402.9 356.5,402.4 357.0,402.2 357.5,402.7 357.9,402.6 358.4,402.3 358.9,402.4 359.4,402.2 359.8,402.3 360.3,402.2 360.8,401.9 361.2,402.2 361.7,401.9 362.2,402.1 362.7,402.0 363.1,402.4 363.6,402.1 364.1,401.8 364.5,402.0 365.0,401.6 365.5,401.2 366.0,401.1 366.4,401.1 366.9,401.0 367.4,401.1 367.8,401.7 368.3,401.6 368.8,401.5 369.3,401.6 369.7,401.3 370.2,401.1 370.7,400.8 371.1,400.7 371.6,401.0 372.1,400.9 372.6,400.7 373.0,400.5 373.5,400.8 374.0,400.9 374.4,400.8 374.9,400.3 375.4,400.2 375.9,400.0 376.3,400.1 376.8,400.6 377.3,400.4 377.7,400.5 378.2,400.6 378.7,400.2 379.1,400.1 379.6,399.9 380.1,400.2 380.6,399.9 381.0,400.2 381.5,399.9 382.0,400.0 382.4,399.9 382.9,399.7 383.4,399.8 383.9,399.9 384.3,400.0 384.8,400.1 385.3,400.2 385.7,400.5 386.2,400.2 386.7,400.1 387.2,400.0 387.6,400.1 388.1,399.4 388.6,399.7 389.0,400.0 389.5,399.9 390.0,400.0 390.5,399.7 390.9,399.7 391.4,399.4 391.9,399.4 392.3,399.3 392.8,399.6 393.3,399.9 393.8,399.7 394.2,399.9 394.7,399.1 395.2,399.8 395.6,399.4 396.1,399.5 396.6,399.8 397.1,399.4 397.5,399.2 398.0,399.3 398.5,399.2 398.9,399.1 399.4,399.2 399.9,399.2 400.4,399.3 400.8,399.0 401.3,399.4 401.8,399.0 402.2,399.1 402.7,399.2 403.2,399.2 403.7,398.9 404.1,399.1 404.6,399.4 404.7,399.2 404.7,397.2 404.8,398.8 405.0,400.0 405.1,400.8 405.3,401.4 405.4,401.9 405.6,402.6 405.7,402.3 405.9,402.7 406.0,402.5 406.2,402.8 406.3,402.8 406.4,402.6 406.6,403.0 406.7,403.0 406.9,403.1 407.0,403.3 407.2,403.0 407.3,403.2 407.5,403.3 407.6,403.1 407.8,403.4 407.9,403.6 408.1,403.8 408.2,404.0 408.7,403.7 409.2,403.6 409.6,403.4 410.1,403.5 410.6,404.0 411.0,404.5 411.5,404.5 412.0,404.4 412.5,404.7 412.9,404.7 413.4,404.5 413.9,404.7 414.3,404.4 414.8,404.6 415.3,404.9 415.8,404.4 416.2,404.7 416.7,405.1 417.2,404.7 417.6,404.3 418.1,405.0 418.6,404.4 419.1,405.0 419.5,404.9 420.0,405.1 420.5,405.4 420.9,404.9 421.4,404.9 421.9,405.3 422.4,404.9 422.8,405.1 423.3,405.0 423.8,404.7 424.2,405.0 424.7,404.9 425.2,404.9 425.7,404.6 426.1,404.8 426.6,405.3 427.1,405.2 427.5,404.9 428.0,405.0 428.5,404.9 428.9,404.6 429.4,404.6 429.9,404.8 430.4,405.0 430.8,404.9 431.3,405.1 431.8,404.8 432.2,405.1 432.7,404.3 433.2,404.6 433.7,405.0 434.1,405.1 434.6,405.6 435.1,405.2 435.5,405.0 436.0,405.4 436.5,405.3 437.0,405.2 437.4,405.6 437.9,405.1 438.4,405.1 438.8,405.3 439.3,405.1 439.8,405.0 440.3,405.4 440.7,404.9 441.2,404.7 441.7,405.4 442.1,405.0 442.6,405.3 443.1,405.6 443.6,405.3 444.0,405.2 444.5,404.9 445.0,405.3 445.4,404.9 445.9,405.2 446.4,405.2 446.9,405.5 447.3,405.2 447.8,405.0 448.3,405.3 448.7,405.4 449.2,405.5 449.7,405.3 450.2,405.5 450.6,405.7 451.1,405.5 451.6,405.8 452.0,405.8 452.5,405.8 453.0,405.5 453.5,405.6 453.9,405.6 454.4,405.4 454.9,405.4 455.3,405.5 455.8,405.4 456.3,405.6 456.7,405.5 457.2,405.4 457.7,405.5 458.2,405.4 458.6,405.9 459.1,405.3 459.6,405.8 460.0,405.7 460.5,405.8 461.0,405.3 461.5,405.3 461.9,405.3 462.4,405.5 462.9,406.0 463.3,405.8 463.8,405.8 464.3,405.7 464.8,405.3 465.2,405.6 465.7,405.7 466.2,405.5 466.6,405.9 467.1,405.8 467.6,405.8 468.1,405.8 468.5,406.0 469.0,406.1 469.5,406.1 469.9,406.4 470.4,406.1 470.9,406.1 471.4,406.0 471.8,405.8 472.3,405.7 472.8,405.5 473.2,405.3 473.7,405.8 474.2,405.9 474.7,405.6 475.1,405.9 475.6,405.9 476.1,405.7 476.5,405.9 477.0,405.7 477.5,405.9 478.0,405.8 478.4,405.8 478.9,405.7 479.4,405.6 479.8,405.8 480.3,405.6 480.8,405.3 481.3,405.8 481.7,406.1 482.2,406.2 482.7,406.3 483.1,406.3 483.6,406.3 484.1,406.0 484.6,405.6 485.0,405.8 485.5,405.6 486.0,405.7 486.4,406.0 486.9,405.8 487.4,406.0 487.8,405.9 488.3,406.3 488.8,405.7 489.3,405.9 489.7,406.3 490.2,405.5 490.7,405.2 491.1,405.8 491.6,405.6 492.1,406.1 492.6,405.8 493.0,406.2 493.5,406.0 494.0,406.3 494.4,406.4 494.9,405.8 495.4,405.4 495.9,405.8 496.3,405.3 496.8,405.5 497.3,405.5 497.7,405.2 498.2,405.1 498.7,405.8 499.2,405.4 499.6,405.4 500.1,405.9 500.6,405.3 501.0,405.3 501.5,406.0 502.0,405.6 502.5,405.9 502.9,406.2 503.4,405.9 503.9,406.2 504.3,406.4 504.8,406.1 505.3,406.1 505.8,406.1 506.2,406.5 506.7,406.4 507.2,405.8 507.6,406.0 508.1,405.8 508.6,405.9 509.1,405.8"/>
<polyline fill="none" stroke="#3b7357" stroke-width="1.1" stroke-linejoin="round" points="303.6,409.5 304.2,409.5 304.8,409.6 305.4,408.9 306.0,410.0 306.6,409.3 307.2,409.7 307.8,409.4 308.4,409.8 308.9,408.3 309.5,410.0 310.1,409.4 310.7,409.4 311.3,409.2 311.9,409.3 312.5,409.3 313.1,409.0 313.7,410.5 314.2,409.6 314.8,410.4 315.4,409.4 316.0,410.3 316.6,410.2 317.2,409.6 317.8,408.7 318.4,409.2 319.0,409.4 319.5,408.7 320.1,410.2 320.7,410.9 321.3,409.9 321.9,409.8 322.5,408.8 323.1,408.3 323.7,410.4 324.3,408.1 324.8,408.6 325.4,409.1 326.0,409.4 326.6,408.1 327.2,409.5 327.8,409.9 328.4,409.5 329.0,410.4 329.6,409.3 330.1,409.7 330.7,409.4 331.3,409.4 331.9,410.2 332.5,408.8 333.1,410.2 333.7,409.0 334.3,410.6 334.6,409.6 334.8,409.3 334.9,409.0 335.1,408.8 335.2,408.5 335.4,408.2 335.5,408.0 335.7,407.8 335.8,408.0 335.9,407.6 336.1,407.1 336.2,406.7 336.4,406.6 336.5,406.4 336.7,406.1 336.8,406.0 337.0,406.0 337.1,406.1 337.3,405.5 337.4,405.4 337.6,405.6 337.7,405.1 337.9,405.1 338.0,405.2 338.2,404.9 338.6,404.6 339.1,404.2 339.6,403.9 340.0,403.8 340.5,403.9 341.0,403.5 341.5,403.1 341.9,403.2 342.4,402.8 342.9,402.6 343.3,402.2 343.8,402.0 344.3,402.0 344.8,402.0 345.2,401.6 345.7,401.7 346.2,401.7 346.6,401.2 347.1,401.2 347.6,401.5 348.0,401.0 348.5,401.1 349.0,400.8 349.5,401.0 349.9,400.1 350.4,400.0 350.9,399.8 351.3,399.8 351.8,399.2 352.3,399.6 352.8,399.5 353.2,399.4 353.7,399.5 354.2,399.2 354.6,399.5 355.1,399.2 355.6,399.1 356.1,398.9 356.5,398.9 357.0,399.0 357.5,399.2 357.9,398.9 358.4,398.7 358.9,398.6 359.4,398.5 359.8,398.7 360.3,398.7 360.8,398.1 361.2,397.8 361.7,397.9 362.2,397.5 362.7,397.7 363.1,397.8 363.6,397.8 364.1,397.5 364.5,397.5 365.0,397.2 365.5,396.8 366.0,397.2 366.4,397.0 366.9,397.3 367.4,397.2 367.8,396.9 368.3,396.7 368.8,396.8 369.3,396.3 369.7,396.4 370.2,396.4 370.7,396.6 371.1,395.5 371.6,395.7 372.1,395.7 372.6,396.0 373.0,395.7 373.5,395.3 374.0,396.1 374.4,395.9 374.9,395.8 375.4,396.0 375.9,395.8 376.3,395.7 376.8,395.0 377.3,395.6 377.7,395.7 378.2,395.4 378.7,395.3 379.1,395.4 379.6,395.2 380.1,395.4 380.6,395.6 381.0,394.9 381.5,395.0 382.0,394.9 382.4,395.3 382.9,395.4 383.4,395.1 383.9,394.8 384.3,394.6 384.8,394.6 385.3,394.9 385.7,395.0 386.2,395.0 386.7,394.8 387.2,394.9 387.6,394.8 388.1,394.5 388.6,394.5 389.0,394.4 389.5,394.4 390.0,394.1 390.5,394.1 390.9,394.4 391.4,393.9 391.9,394.1 392.3,393.8 392.8,393.9 393.3,394.1 393.8,393.9 394.2,394.0 394.7,394.2 395.2,394.5 395.6,393.6 396.1,394.3 396.6,394.1 397.1,393.8 397.5,393.5 398.0,393.3 398.5,393.3 398.9,393.0 399.4,393.1 399.9,392.8 400.4,393.6 400.8,393.4 401.3,393.4 401.8,393.4 402.2,393.4 402.7,393.2 403.2,393.5 403.7,393.5 404.1,393.3 404.6,393.2 404.7,393.3 404.7,389.8 404.8,392.0 405.0,393.7 405.1,395.0 405.3,395.9 405.4,396.7 405.6,397.0 405.7,397.3 405.9,398.0 406.0,398.3 406.2,398.5 406.3,398.6 406.4,399.0 406.6,399.0 406.7,399.4 406.9,399.3 407.0,399.7 407.2,399.5 407.3,399.7 407.5,399.9 407.6,400.3 407.8,400.2 407.9,400.2 408.1,400.5 408.2,400.7 408.7,400.7 409.2,400.8 409.6,400.8 410.1,401.1 410.6,400.9 411.0,401.0 411.5,401.0 412.0,401.3 412.5,401.1 412.9,401.1 413.4,400.6 413.9,401.0 414.3,401.0 414.8,401.0 415.3,400.9 415.8,401.6 416.2,401.6 416.7,401.6 417.2,401.7 417.6,401.6 418.1,401.4 418.6,401.9 419.1,401.9 419.5,401.7 420.0,402.1 420.5,402.2 420.9,402.4 421.4,402.7 421.9,402.2 422.4,402.0 422.8,402.2 423.3,402.4 423.8,402.1 424.2,402.1 424.7,401.9 425.2,401.9 425.7,402.2 426.1,401.9 426.6,402.3 427.1,401.8 427.5,401.9 428.0,401.7 428.5,401.8 428.9,402.0 429.4,402.1 429.9,402.5 430.4,402.6 430.8,402.3 431.3,402.3 431.8,402.5 432.2,402.1 432.7,402.4 433.2,402.3 433.7,402.7 434.1,402.9 434.6,402.6 435.1,402.6 435.5,402.8 436.0,402.7 436.5,402.7 437.0,402.6 437.4,402.6 437.9,403.0 438.4,402.6 438.8,402.8 439.3,402.6 439.8,402.6 440.3,402.5 440.7,402.8 441.2,402.6 441.7,402.7 442.1,402.8 442.6,402.5 443.1,403.1 443.6,403.3 444.0,402.7 444.5,402.6 445.0,402.8 445.4,402.9 445.9,402.8 446.4,403.0 446.9,403.3 447.3,403.2 447.8,403.4 448.3,403.2 448.7,403.3 449.2,402.8 449.7,403.0 450.2,403.3 450.6,402.5 451.1,403.2 451.6,403.0 452.0,402.7 452.5,403.2 453.0,403.4 453.5,403.0 453.9,403.0 454.4,403.4 454.9,403.3 455.3,403.0 455.8,402.8 456.3,403.1 456.7,402.8 457.2,402.6 457.7,402.8 458.2,402.7 458.6,402.9 459.1,403.4 459.6,403.1 460.0,403.4 460.5,403.4 461.0,403.6 461.5,403.9 461.9,403.6 462.4,403.2 462.9,403.6 463.3,403.6 463.8,403.5 464.3,403.3 464.8,403.6 465.2,403.5 465.7,403.4 466.2,403.7 466.6,403.5 467.1,403.9 467.6,403.9 468.1,403.8 468.5,403.8 469.0,404.0 469.5,404.0 469.9,403.8 470.4,403.6 470.9,403.5 471.4,403.5 471.8,404.1 472.3,403.7 472.8,404.0 473.2,403.8 473.7,403.9 474.2,404.0 474.7,403.3 475.1,403.6 475.6,404.0 476.1,404.1 476.5,403.9 477.0,404.1 477.5,404.0 478.0,403.7 478.4,403.6 478.9,404.0 479.4,403.9 479.8,403.9 480.3,404.2 480.8,404.4 481.3,403.9 481.7,404.0 482.2,403.9 482.7,404.0 483.1,404.2 483.6,404.0 484.1,404.5 484.6,404.2 485.0,404.5 485.5,404.1 486.0,404.3 486.4,404.8 486.9,404.1 487.4,404.4 487.8,404.1 488.3,404.3 488.8,404.0 489.3,403.9 489.7,404.0 490.2,404.3 490.7,403.7 491.1,404.2 491.6,404.4 492.1,404.4 492.6,404.5 493.0,404.3 493.5,404.4 494.0,404.2 494.4,404.3 494.9,404.6 495.4,404.4 495.9,404.4 496.3,404.5 496.8,404.1 497.3,404.1 497.7,404.5 498.2,404.2 498.7,404.0 499.2,404.0 499.6,404.1 500.1,404.3 500.6,403.9 501.0,404.1 501.5,404.0 502.0,404.4 502.5,404.3 502.9,404.6 503.4,404.4 503.9,404.3 504.3,404.4 504.8,404.8 505.3,404.7 505.8,404.7 506.2,404.4 506.7,404.5 507.2,404.4 507.6,404.1 508.1,404.2 508.6,404.1 509.1,404.0"/>
<polyline fill="none" stroke="#e8983a" stroke-width="1.1" stroke-linejoin="round" points="303.6,409.5 304.2,409.8 304.8,410.2 305.4,409.5 306.0,410.2 306.6,409.7 307.2,408.9 307.8,410.9 308.4,409.5 308.9,409.4 309.5,410.2 310.1,409.3 310.7,409.4 311.3,409.9 311.9,408.9 312.5,410.5 313.1,405.9 313.7,409.8 314.2,410.3 314.8,409.8 315.4,409.9 316.0,409.1 316.6,410.6 317.2,409.8 317.8,409.9 318.4,408.7 319.0,410.3 319.5,409.0 320.1,410.7 320.7,409.4 321.3,409.7 321.9,409.4 322.5,410.1 323.1,410.9 323.7,410.6 324.3,408.8 324.8,409.5 325.4,410.2 326.0,409.1 326.6,410.1 327.2,410.1 327.8,410.4 328.4,408.9 329.0,408.4 329.6,410.3 330.1,409.5 330.7,409.0 331.3,408.3 331.9,411.1 332.5,409.6 333.1,409.3 333.7,410.6 334.3,409.4 334.6,409.6 334.8,409.0 334.9,408.4 335.1,407.8 335.2,407.3 335.4,406.8 335.5,406.3 335.7,405.8 335.8,405.2 335.9,404.3 336.1,403.9 336.2,403.6 336.4,403.5 336.5,402.9 336.7,402.0 336.8,401.8 337.0,401.6 337.1,401.1 337.3,401.0 337.4,400.7 337.6,400.7 337.7,400.0 337.9,400.0 338.0,399.8 338.2,400.0 338.6,399.0 339.1,398.2 339.6,397.7 340.0,397.4 340.5,396.5 341.0,396.5 341.5,396.3 341.9,396.3 342.4,396.1 342.9,395.9 343.3,395.4 343.8,395.0 344.3,394.6 344.8,394.4 345.2,394.4 345.7,393.6 346.2,393.9 346.6,393.7 347.1,393.6 347.6,393.5 348.0,393.1 348.5,392.9 349.0,392.6 349.5,392.5 349.9,392.5 350.4,392.1 350.9,392.1 351.3,391.9 351.8,391.7 352.3,391.7 352.8,391.6 353.2,391.6 353.7,391.3 354.2,391.2 354.6,391.6 355.1,391.1 355.6,390.6 356.1,391.1 356.5,391.0 357.0,390.7 357.5,390.7 357.9,390.5 358.4,390.2 358.9,390.1 359.4,389.6 359.8,389.4 360.3,389.6 360.8,389.3 361.2,389.1 361.7,389.2 362.2,389.1 362.7,389.0 363.1,389.1 363.6,388.8 364.1,388.8 364.5,388.9 365.0,388.6 365.5,388.3 366.0,388.2 366.4,388.3 366.9,387.8 367.4,387.8 367.8,388.1 368.3,388.1 368.8,387.9 369.3,388.2 369.7,387.7 370.2,387.6 370.7,387.1 371.1,387.1 371.6,387.1 372.1,387.0 372.6,387.0 373.0,386.7 373.5,386.8 374.0,387.1 374.4,386.9 374.9,386.5 375.4,386.5 375.9,386.3 376.3,385.8 376.8,386.2 377.3,386.3 377.7,386.0 378.2,385.9 378.7,385.9 379.1,386.1 379.6,385.8 380.1,385.9 380.6,385.4 381.0,386.1 381.5,385.4 382.0,385.5 382.4,385.1 382.9,385.1 383.4,385.0 383.9,384.8 384.3,384.9 384.8,384.6 385.3,385.0 385.7,385.0 386.2,384.7 386.7,384.8 387.2,384.8 387.6,384.4 388.1,384.7 388.6,384.9 389.0,384.4 389.5,384.0 390.0,384.1 390.5,384.0 390.9,383.9 391.4,384.4 391.9,384.3 392.3,384.6 392.8,384.1 393.3,383.7 393.8,384.0 394.2,383.9 394.7,383.9 395.2,383.7 395.6,383.5 396.1,383.2 396.6,383.4 397.1,384.0 397.5,383.9 398.0,383.3 398.5,383.0 398.9,383.5 399.4,383.2 399.9,383.1 400.4,383.1 400.8,383.1 401.3,382.8 401.8,382.7 402.2,382.8 402.7,382.8 403.2,382.5 403.7,383.1 404.1,383.0 404.6,382.8 404.7,382.8 404.7,373.3 404.8,376.1 405.0,378.2 405.1,379.8 405.3,381.2 405.4,382.3 405.6,383.1 405.7,384.2 405.9,384.8 406.0,385.4 406.2,385.7 406.3,386.0 406.4,386.9 406.6,387.2 406.7,387.6 406.9,388.0 407.0,388.2 407.2,388.3 407.3,388.7 407.5,388.7 407.6,389.1 407.8,389.3 407.9,389.5 408.1,389.3 408.2,389.9 408.7,390.2 409.2,390.7 409.6,391.3 410.1,391.7 410.6,392.5 411.0,392.4 411.5,392.8 412.0,393.0 412.5,393.4 412.9,393.9 413.4,393.4 413.9,393.9 414.3,394.0 414.8,394.5 415.3,394.4 415.8,394.4 416.2,394.8 416.7,394.9 417.2,394.9 417.6,395.3 418.1,395.7 418.6,395.4 419.1,395.8 419.5,395.9 420.0,395.5 420.5,396.1 420.9,396.3 421.4,396.2 421.9,396.5 422.4,396.5 422.8,396.5 423.3,396.9 423.8,396.9 424.2,397.1 424.7,397.0 425.2,397.3 425.7,397.2 426.1,397.3 426.6,397.2 427.1,397.3 427.5,397.2 428.0,396.8 428.5,397.3 428.9,397.1 429.4,396.8 429.9,397.7 430.4,397.3 430.8,398.1 431.3,397.8 431.8,397.5 432.2,397.6 432.7,398.1 433.2,398.2 433.7,398.0 434.1,397.6 434.6,397.8 435.1,397.7 435.5,397.6 436.0,397.5 436.5,397.7 437.0,398.0 437.4,398.3 437.9,397.9 438.4,398.7 438.8,397.9 439.3,398.0 439.8,397.9 440.3,398.0 440.7,398.1 441.2,398.2 441.7,398.4 442.1,398.8 442.6,398.6 443.1,398.8 443.6,398.5 444.0,398.7 444.5,398.8 445.0,398.5 445.4,398.4 445.9,398.7 446.4,398.7 446.9,398.1 447.3,398.5 447.8,398.6 448.3,398.4 448.7,398.7 449.2,399.1 449.7,399.0 450.2,398.7 450.6,398.9 451.1,398.7 451.6,398.8 452.0,399.0 452.5,398.6 453.0,398.4 453.5,398.6 453.9,398.2 454.4,398.5 454.9,398.4 455.3,398.6 455.8,399.1 456.3,398.6 456.7,399.1 457.2,399.1 457.7,398.8 458.2,398.9 458.6,398.9 459.1,399.0 459.6,398.7 460.0,399.2 460.5,399.4 461.0,400.0 461.5,399.8 461.9,399.7 462.4,399.8 462.9,399.6 463.3,399.1 463.8,398.8 464.3,398.7 464.8,398.9 465.2,399.2 465.7,399.2 466.2,399.5 466.6,399.2 467.1,399.2 467.6,399.4 468.1,399.3 468.5,399.5 469.0,399.6 469.5,399.2 469.9,398.8 470.4,399.1 470.9,399.2 471.4,399.4 471.8,399.5 472.3,399.2 472.8,399.7 473.2,399.4 473.7,399.5 474.2,399.4 474.7,399.5 475.1,399.4 475.6,399.9 476.1,399.9 476.5,399.7 477.0,400.0 477.5,400.0 478.0,399.5 478.4,399.6 478.9,399.5 479.4,400.3 479.8,399.8 480.3,400.2 480.8,400.1 481.3,399.7 481.7,399.5 482.2,400.1 482.7,400.0 483.1,400.1 483.6,399.9 484.1,399.9 484.6,399.4 485.0,399.7 485.5,399.8 486.0,400.1 486.4,399.9 486.9,399.8 487.4,400.6 487.8,400.4 488.3,400.2 488.8,400.6 489.3,400.5 489.7,399.9 490.2,400.2 490.7,400.1 491.1,400.2 491.6,400.2 492.1,399.9 492.6,400.4 493.0,400.6 493.5,400.6 494.0,400.2 494.4,400.5 494.9,400.6 495.4,400.4 495.9,400.4 496.3,400.3 496.8,401.0 497.3,400.6 497.7,400.8 498.2,400.5 498.7,400.8 499.2,400.2 499.6,400.5 500.1,400.8 500.6,400.2 501.0,400.7 501.5,400.5 502.0,400.6 502.5,400.4 502.9,400.5 503.4,400.5 503.9,400.6 504.3,400.9 504.8,400.9 505.3,400.8 505.8,401.0 506.2,400.9 506.7,401.3 507.2,401.6 507.6,401.4 508.1,401.4 508.6,401.2 509.1,401.1"/>
<polyline fill="none" stroke="#7a3d80" stroke-width="1.1" stroke-linejoin="round" points="303.6,410.7 304.2,409.5 304.8,410.0 305.4,408.9 306.0,408.9 306.6,410.1 307.2,409.8 307.8,409.5 308.4,409.1 308.9,410.6 309.5,409.6 310.1,408.4 310.7,409.6 311.3,409.4 311.9,409.6 312.5,410.3 313.1,409.0 313.7,409.4 314.2,409.5 314.8,409.1 315.4,409.1 316.0,410.8 316.6,402.8 317.2,409.9 317.8,409.5 318.4,410.0 319.0,410.1 319.5,409.0 320.1,409.6 320.7,409.7 321.3,409.7 321.9,409.5 322.5,409.6 323.1,411.0 323.7,410.1 324.3,409.7 324.8,409.1 325.4,408.7 326.0,410.1 326.6,408.4 327.2,409.5 327.8,409.3 328.4,409.9 329.0,409.9 329.6,408.7 330.1,409.7 330.7,409.6 331.3,408.8 331.9,408.5 332.5,410.5 333.1,409.7 333.7,409.6 334.3,408.4 334.6,409.6 334.8,408.8 334.9,407.8 335.1,406.9 335.2,406.0 335.4,405.1 335.5,404.3 335.7,403.5 335.8,403.5 335.9,402.3 336.1,401.0 336.2,399.9 336.4,399.6 336.5,398.7 336.7,397.6 336.8,397.4 337.0,396.0 337.1,395.1 337.3,395.2 337.4,393.9 337.6,393.6 337.7,392.7 337.9,392.5 338.0,391.9 338.2,391.4 338.6,389.9 339.1,388.7 339.6,387.8 340.0,387.3 340.5,386.4 341.0,385.4 341.5,384.5 341.9,384.3 342.4,383.6 342.9,382.9 343.3,382.3 343.8,382.2 344.3,381.9 344.8,381.0 345.2,380.7 345.7,380.8 346.2,380.5 346.6,379.9 347.1,380.0 347.6,378.9 348.0,379.0 348.5,378.5 349.0,378.4 349.5,377.7 349.9,377.3 350.4,377.4 350.9,377.2 351.3,376.7 351.8,377.0 352.3,376.8 352.8,376.3 353.2,376.0 353.7,375.2 354.2,375.2 354.6,374.8 355.1,374.9 355.6,374.3 356.1,374.4 356.5,374.0 357.0,373.8 357.5,373.8 357.9,373.2 358.4,372.9 358.9,373.1 359.4,372.7 359.8,372.0 360.3,372.4 360.8,372.0 361.2,372.2 361.7,371.6 362.2,371.6 362.7,371.3 363.1,371.1 363.6,370.9 364.1,370.4 364.5,370.4 365.0,370.3 365.5,370.0 366.0,370.0 366.4,369.3 366.9,369.4 367.4,369.3 367.8,368.9 368.3,369.1 368.8,368.5 369.3,368.7 369.7,368.0 370.2,368.1 370.7,368.2 371.1,368.2 371.6,368.1 372.1,367.9 372.6,367.9 373.0,367.4 373.5,367.6 374.0,367.2 374.4,367.1 374.9,366.8 375.4,367.1 375.9,367.0 376.3,366.8 376.8,366.6 377.3,366.5 377.7,366.4 378.2,366.0 378.7,365.9 379.1,365.5 379.6,365.1 380.1,365.4 380.6,365.3 381.0,365.2 381.5,365.7 382.0,365.6 382.4,365.6 382.9,365.3 383.4,365.2 383.9,365.1 384.3,364.5 384.8,364.7 385.3,364.6 385.7,364.3 386.2,364.4 386.7,364.3 387.2,364.2 387.6,364.2 388.1,364.3 388.6,364.0 389.0,364.3 389.5,363.9 390.0,364.2 390.5,363.9 390.9,363.9 391.4,363.2 391.9,363.7 392.3,363.3 392.8,363.5 393.3,363.3 393.8,363.4 394.2,363.3 394.7,363.0 395.2,363.4 395.6,362.7 396.1,362.3 396.6,362.9 397.1,362.6 397.5,362.8 398.0,362.4 398.5,362.6 398.9,362.0 399.4,362.0 399.9,362.4 400.4,362.5 400.8,362.7 401.3,362.4 401.8,362.5 402.2,362.6 402.7,362.4 403.2,362.2 403.7,362.2 404.1,362.5 404.6,361.9 404.7,361.9 404.7,360.0 404.8,361.0 405.0,361.9 405.1,362.7 405.3,363.5 405.4,364.3 405.6,365.0 405.7,365.3 405.9,366.2 406.0,367.1 406.2,367.9 406.3,368.3 406.4,369.2 406.6,369.2 406.7,369.9 406.9,370.1 407.0,370.9 407.2,371.2 407.3,371.8 407.5,372.1 407.6,372.3 407.8,372.8 407.9,372.8 408.1,372.9 408.2,373.4 408.7,375.0 409.2,375.8 409.6,376.2 410.1,377.1 410.6,377.8 411.0,378.3 411.5,378.5 412.0,378.7 412.5,379.5 412.9,379.4 413.4,379.7 413.9,380.2 414.3,380.4 414.8,380.7 415.3,380.8 415.8,380.7 416.2,381.0 416.7,381.0 417.2,381.4 417.6,381.6 418.1,381.4 418.6,381.8 419.1,382.1 419.5,382.2 420.0,382.3 420.5,381.9 420.9,382.7 421.4,382.6 421.9,382.8 422.4,382.9 422.8,383.5 423.3,383.7 423.8,383.5 424.2,383.4 424.7,383.6 425.2,383.7 425.7,383.7 426.1,384.0 426.6,384.3 427.1,384.8 427.5,384.7 428.0,384.6 428.5,384.6 428.9,384.7 429.4,384.5 429.9,384.7 430.4,384.5 430.8,385.1 431.3,384.9 431.8,385.4 432.2,385.0 432.7,384.9 433.2,385.3 433.7,385.1 434.1,384.8 434.6,384.8 435.1,385.2 435.5,385.3 436.0,385.3 436.5,385.2 437.0,385.2 437.4,385.6 437.9,385.9 438.4,386.1 438.8,386.2 439.3,386.4 439.8,386.4 440.3,386.1 440.7,386.2 441.2,386.2 441.7,386.5 442.1,386.4 442.6,386.6 443.1,386.2 443.6,386.4 444.0,386.6 444.5,386.5 445.0,386.9 445.4,387.1 445.9,387.1 446.4,386.9 446.9,387.2 447.3,387.3 447.8,387.2 448.3,387.5 448.7,387.7 449.2,387.3 449.7,387.1 450.2,387.2 450.6,387.2 451.1,387.5 451.6,387.7 452.0,387.3 452.5,387.5 453.0,387.8 453.5,388.0 453.9,387.8 454.4,387.9 454.9,387.9 455.3,387.4 455.8,387.9 456.3,387.9 456.7,387.9 457.2,387.9 457.7,388.2 458.2,388.4 458.6,388.0 459.1,388.3 459.6,388.0 460.0,388.4 460.5,388.4 461.0,388.5 461.5,389.0 461.9,389.2 462.4,388.8 462.9,388.9 463.3,389.3 463.8,389.5 464.3,389.7 464.8,389.6 465.2,389.3 465.7,389.6 466.2,389.0 466.6,389.2 467.1,389.7 467.6,389.5 468.1,389.8 468.5,389.7 469.0,389.7 469.5,389.7 469.9,389.5 470.4,390.0 470.9,389.9 471.4,389.8 471.8,389.9 472.3,389.9 472.8,390.1 473.2,390.0 473.7,389.9 474.2,390.3 474.7,390.3 475.1,390.3 475.6,390.1 476.1,390.4 476.5,390.4 477.0,390.3 477.5,390.4 478.0,390.9 478.4,390.5 478.9,390.9 479.4,390.8 479.8,391.0 480.3,390.7 480.8,390.6 481.3,390.7 481.7,390.7 482.2,390.7 482.7,390.7 483.1,391.1 483.6,391.1 484.1,390.9 484.6,391.1 485.0,390.4 485.5,391.1 486.0,391.1 486.4,390.8 486.9,391.1 487.4,391.6 487.8,391.1 488.3,391.4 488.8,391.6 489.3,391.7 489.7,391.7 490.2,391.7 490.7,391.7 491.1,391.8 491.6,392.0 492.1,392.1 492.6,392.0 493.0,392.2 493.5,392.5 494.0,392.1 494.4,392.1 494.9,391.9 495.4,392.2 495.9,392.0 496.3,391.9 496.8,392.0 497.3,392.1 497.7,392.3 498.2,392.4 498.7,392.6 499.2,392.8 499.6,392.5 500.1,392.9 500.6,392.6 501.0,392.3 501.5,392.5 502.0,392.1 502.5,392.4 502.9,392.5 503.4,392.7 503.9,392.6 504.3,392.4 504.8,392.5 505.3,392.5 505.8,392.8 506.2,393.0 506.7,393.3 507.2,393.3 507.6,393.1 508.1,393.2 508.6,393.2 509.1,392.9"/>
<polyline fill="none" stroke="#6aad48" stroke-width="1.1" stroke-linejoin="round" points="303.6,410.3 304.2,410.3 304.8,410.0 305.4,409.3 306.0,409.4 306.6,410.0 307.2,409.4 307.8,408.5 308.4,409.5 308.9,408.3 309.5,409.3 310.1,408.8 310.7,409.9 311.3,408.9 311.9,410.3 312.5,409.4 313.1,409.8 313.7,410.8 314.2,410.4 314.8,408.9 315.4,409.3 316.0,408.8 316.6,409.5 317.2,411.4 317.8,409.4 318.4,410.0 319.0,409.9 319.5,409.9 320.1,410.1 320.7,410.2 321.3,408.8 321.9,409.3 322.5,410.0 323.1,409.9 323.7,409.0 324.3,409.4 324.8,409.5 325.4,410.4 326.0,409.9 326.6,410.3 327.2,410.8 327.8,409.0 328.4,409.8 329.0,409.9 329.6,410.2 330.1,409.1 330.7,408.3 331.3,409.2 331.9,409.0 332.5,410.4 333.1,409.5 333.7,409.5 334.3,408.7 334.6,409.6 334.8,408.7 334.9,407.3 335.1,405.8 335.2,404.3 335.4,402.9 335.5,401.6 335.7,400.1 335.8,398.4 335.9,397.0 336.1,395.3 336.2,393.7 336.4,391.6 336.5,390.1 336.7,388.6 336.8,387.5 337.0,386.0 337.1,385.4 337.3,383.9 337.4,383.4 337.6,382.5 337.7,381.8 337.9,380.9 338.0,380.4 338.2,379.5 338.6,377.2 339.1,375.3 339.6,373.1 340.0,371.3 340.5,369.7 341.0,368.4 341.5,367.1 341.9,366.1 342.4,364.7 342.9,363.4 343.3,362.7 343.8,361.9 344.3,360.8 344.8,360.2 345.2,359.3 345.7,359.1 346.2,358.5 346.6,357.7 347.1,357.2 347.6,356.8 348.0,356.4 348.5,355.8 349.0,355.2 349.5,354.9 349.9,354.8 350.4,354.1 350.9,353.8 351.3,353.4 351.8,352.7 352.3,352.6 352.8,352.2 353.2,352.0 353.7,351.4 354.2,350.9 354.6,350.5 355.1,350.1 355.6,349.7 356.1,349.4 356.5,349.1 357.0,349.2 357.5,348.6 357.9,348.3 358.4,347.7 358.9,347.3 359.4,346.7 359.8,347.0 360.3,346.8 360.8,346.4 361.2,346.0 361.7,345.7 362.2,345.5 362.7,345.1 363.1,344.7 363.6,344.7 364.1,344.4 364.5,343.7 365.0,344.0 365.5,343.4 366.0,343.1 366.4,342.6 366.9,342.6 367.4,342.6 367.8,341.9 368.3,342.2 368.8,341.6 369.3,341.2 369.7,341.4 370.2,341.0 370.7,340.5 371.1,340.6 371.6,340.1 372.1,340.0 372.6,339.5 373.0,339.3 373.5,338.9 374.0,338.7 374.4,338.6 374.9,338.5 375.4,338.3 375.9,338.2 376.3,337.9 376.8,337.3 377.3,337.1 377.7,336.5 378.2,336.7 378.7,336.4 379.1,336.2 379.6,336.2 380.1,336.0 380.6,335.6 381.0,335.5 381.5,334.8 382.0,334.7 382.4,334.8 382.9,334.6 383.4,334.1 383.9,333.9 384.3,334.0 384.8,333.4 385.3,333.6 385.7,333.3 386.2,332.8 386.7,333.4 387.2,332.7 387.6,332.2 388.1,332.3 388.6,332.3 389.0,332.2 389.5,332.6 390.0,332.4 390.5,331.8 390.9,331.8 391.4,331.6 391.9,331.4 392.3,331.2 392.8,331.5 393.3,331.0 393.8,330.8 394.2,330.5 394.7,330.4 395.2,330.3 395.6,329.8 396.1,329.7 396.6,329.2 397.1,329.3 397.5,328.9 398.0,328.9 398.5,328.8 398.9,328.7 399.4,329.0 399.9,328.6 400.4,328.5 400.8,328.6 401.3,327.9 401.8,327.8 402.2,327.7 402.7,327.5 403.2,327.3 403.7,327.7 404.1,327.9 404.6,327.7 404.7,327.3 404.7,308.3 404.8,310.5 405.0,312.7 405.1,314.8 405.3,316.8 405.4,318.6 405.6,320.7 405.7,322.5 405.9,323.8 406.0,325.7 406.2,327.6 406.3,329.0 406.4,330.7 406.6,332.5 406.7,333.9 406.9,335.2 407.0,336.7 407.2,337.8 407.3,338.6 407.5,339.0 407.6,339.7 407.8,340.5 407.9,341.0 408.1,341.5 408.2,342.3 408.7,344.1 409.2,346.1 409.6,347.1 410.1,348.3 410.6,349.6 411.0,350.1 411.5,351.4 412.0,352.4 412.5,353.2 412.9,354.4 413.4,354.8 413.9,355.6 414.3,356.0 414.8,356.8 415.3,357.2 415.8,357.4 416.2,357.9 416.7,358.3 417.2,358.7 417.6,359.1 418.1,359.2 418.6,359.5 419.1,360.3 419.5,360.2 420.0,360.6 420.5,361.0 420.9,361.2 421.4,361.9 421.9,361.6 422.4,362.3 422.8,362.3 423.3,362.6 423.8,362.2 424.2,362.5 424.7,362.7 425.2,362.8 425.7,363.1 426.1,363.0 426.6,363.0 427.1,363.4 427.5,363.9 428.0,364.0 428.5,364.3 428.9,364.5 429.4,365.0 429.9,365.1 430.4,365.1 430.8,365.2 431.3,365.2 431.8,365.6 432.2,365.7 432.7,365.7 433.2,366.1 433.7,366.3 434.1,366.6 434.6,366.9 435.1,366.2 435.5,366.6 436.0,366.8 436.5,366.5 437.0,366.9 437.4,367.4 437.9,367.4 438.4,367.6 438.8,367.8 439.3,367.8 439.8,367.7 440.3,368.1 440.7,368.0 441.2,368.2 441.7,368.5 442.1,368.5 442.6,368.6 443.1,368.4 443.6,368.7 444.0,369.2 444.5,369.0 445.0,369.3 445.4,369.2 445.9,369.8 446.4,369.8 446.9,369.9 447.3,369.8 447.8,369.9 448.3,370.1 448.7,370.4 449.2,370.1 449.7,369.8 450.2,369.9 450.6,370.6 451.1,370.6 451.6,370.8 452.0,371.1 452.5,370.7 453.0,370.9 453.5,371.0 453.9,371.2 454.4,371.1 454.9,371.4 455.3,371.5 455.8,371.6 456.3,371.8 456.7,372.3 457.2,372.5 457.7,372.3 458.2,372.5 458.6,372.5 459.1,371.9 459.6,372.1 460.0,372.4 460.5,372.7 461.0,372.9 461.5,373.4 461.9,373.2 462.4,373.0 462.9,373.2 463.3,373.0 463.8,373.3 464.3,373.1 464.8,373.6 465.2,373.4 465.7,373.7 466.2,373.8 466.6,373.7 467.1,373.7 467.6,373.8 468.1,373.7 468.5,374.2 469.0,374.0 469.5,374.2 469.9,374.5 470.4,374.0 470.9,374.5 471.4,374.0 471.8,374.1 472.3,374.3 472.8,374.8 473.2,374.7 473.7,374.9 474.2,374.9 474.7,374.9 475.1,375.0 475.6,375.2 476.1,375.3 476.5,375.2 477.0,374.9 477.5,374.7 478.0,374.7 478.4,374.9 478.9,374.8 479.4,375.4 479.8,375.2 480.3,375.7 480.8,375.9 481.3,376.1 481.7,376.3 482.2,376.3 482.7,375.8 483.1,376.1 483.6,376.1 484.1,376.2 484.6,376.2 485.0,376.3 485.5,376.3 486.0,376.6 486.4,376.5 486.9,376.6 487.4,376.7 487.8,376.5 488.3,376.7 488.8,376.4 489.3,376.6 489.7,376.5 490.2,376.3 490.7,376.2 491.1,376.5 491.6,376.6 492.1,376.4 492.6,377.3 493.0,376.6 493.5,376.6 494.0,377.0 494.4,376.4 494.9,376.7 495.4,376.8 495.9,377.6 496.3,377.5 496.8,377.8 497.3,377.7 497.7,377.7 498.2,377.6 498.7,378.0 499.2,377.4 499.6,377.5 500.1,377.4 500.6,377.4 501.0,377.4 501.5,377.4 502.0,377.3 502.5,377.9 502.9,377.6 503.4,377.9 503.9,378.2 504.3,378.4 504.8,377.9 505.3,378.2 505.8,377.8 506.2,378.0 506.7,378.1 507.2,378.4 507.6,378.3 508.1,378.6 508.6,378.4 509.1,378.6"/>
<polyline fill="none" stroke="#35558e" stroke-width="1.1" stroke-linejoin="round" points="303.6,409.5 304.2,410.0 304.8,410.4 305.4,408.9 306.0,410.2 306.6,409.7 307.2,409.4 307.8,409.9 308.4,409.4 308.9,409.2 309.5,409.7 310.1,409.0 310.7,410.0 311.3,410.3 311.9,409.5 312.5,412.7 313.1,409.4 313.7,409.7 314.2,409.9 314.8,409.2 315.4,409.3 316.0,411.4 316.6,409.8 317.2,409.5 317.8,409.3 318.4,409.9 319.0,410.3 319.5,409.5 320.1,409.2 320.7,410.9 321.3,410.5 321.9,410.0 322.5,411.2 323.1,410.0 323.7,409.1 324.3,410.3 324.8,409.5 325.4,410.1 326.0,409.3 326.6,409.2 327.2,408.8 327.8,409.6 328.4,409.0 329.0,409.4 329.6,409.9 330.1,408.7 330.7,410.0 331.3,409.5 331.9,408.1 332.5,409.1 333.1,410.1 333.7,409.4 334.3,409.9 334.4,429.4 334.6,429.4 334.6,409.6 334.8,405.9 334.9,402.0 335.1,398.2 335.2,394.7 335.4,391.0 335.5,387.0 335.7,383.2 335.8,379.9 335.9,376.6 336.1,373.7 336.2,371.3 336.4,369.1 336.5,367.6 336.7,366.0 336.8,364.7 337.0,363.5 337.1,362.3 337.3,361.2 337.4,360.6 337.6,359.5 337.7,358.4 337.9,357.5 338.0,357.1 338.2,355.9 338.6,353.6 339.1,351.8 339.6,350.3 340.0,348.7 340.5,347.3 341.0,346.4 341.5,345.5 341.9,344.4 342.4,343.7 342.9,342.9 343.3,342.1 343.8,341.4 344.3,341.0 344.8,339.9 345.2,339.6 345.7,338.8 346.2,338.1 346.6,337.8 347.1,337.1 347.6,337.0 348.0,336.5 348.5,336.0 349.0,335.4 349.5,335.2 349.9,334.2 350.4,333.8 350.9,333.4 351.3,333.2 351.8,332.6 352.3,331.6 352.8,331.5 353.2,330.6 353.7,330.7 354.2,330.0 354.6,329.9 355.1,329.1 355.6,328.6 356.1,327.8 356.5,327.3 357.0,327.2 357.5,327.2 357.9,326.7 358.4,326.4 358.9,326.0 359.4,325.2 359.8,324.7 360.3,324.5 360.8,324.1 361.2,323.9 361.7,324.0 362.2,323.3 362.7,323.0 363.1,322.8 363.6,322.2 364.1,322.2 364.5,321.6 365.0,321.4 365.5,321.4 366.0,321.0 366.4,320.6 366.9,320.5 367.4,320.4 367.8,320.0 368.3,319.5 368.8,319.0 369.3,319.2 369.7,318.4 370.2,318.3 370.7,318.2 371.1,317.6 371.6,317.6 372.1,316.9 372.6,316.8 373.0,316.6 373.5,316.3 374.0,315.9 374.4,315.6 374.9,315.8 375.4,315.5 375.9,314.9 376.3,315.0 376.8,314.4 377.3,314.3 377.7,313.9 378.2,313.9 378.7,313.5 379.1,313.4 379.6,312.9 380.1,312.4 380.6,312.4 381.0,312.2 381.5,312.2 382.0,312.0 382.4,311.9 382.9,311.6 383.4,310.7 383.9,310.6 384.3,310.4 384.8,310.0 385.3,309.6 385.7,309.9 386.2,309.5 386.7,309.5 387.2,309.3 387.6,308.7 388.1,307.9 388.6,308.7 389.0,308.7 389.5,307.8 390.0,307.5 390.5,307.6 390.9,307.1 391.4,307.2 391.9,306.8 392.3,306.5 392.8,306.4 393.3,306.1 393.8,306.0 394.2,305.8 394.7,305.8 395.2,306.1 395.6,305.6 396.1,305.9 396.6,305.6 397.1,305.5 397.5,304.7 398.0,304.6 398.5,304.2 398.9,303.5 399.4,303.5 399.9,303.7 400.4,303.8 400.8,303.1 401.3,303.0 401.8,302.8 402.2,302.4 402.7,302.6 403.2,302.3 403.7,302.2 404.1,302.1 404.6,302.3 404.7,302.3 404.7,300.5 404.8,303.3 405.0,305.6 405.1,307.7 405.3,309.4 405.4,311.1 405.6,312.4 405.7,314.0 405.9,315.5 406.0,316.6 406.2,317.3 406.3,318.1 406.4,319.1 406.6,319.6 406.7,320.5 406.9,321.7 407.0,322.9 407.2,323.8 407.3,324.2 407.5,324.8 407.6,325.9 407.8,326.5 407.9,327.3 408.1,327.9 408.2,328.1 408.7,329.7 409.2,330.8 409.6,332.2 410.1,333.6 410.6,334.3 411.0,336.1 411.5,336.5 412.0,337.3 412.5,337.8 412.9,339.0 413.4,339.9 413.9,340.2 414.3,341.5 414.8,341.8 415.3,342.8 415.8,342.9 416.2,343.6 416.7,344.2 417.2,344.7 417.6,345.2 418.1,345.6 418.6,345.3 419.1,345.7 419.5,346.3 420.0,346.6 420.5,346.8 420.9,347.4 421.4,347.1 421.9,347.9 422.4,348.2 422.8,348.2 423.3,348.8 423.8,349.4 424.2,349.4 424.7,349.6 425.2,349.9 425.7,350.5 426.1,350.9 426.6,350.8 427.1,351.3 427.5,351.6 428.0,351.6 428.5,351.5 428.9,351.9 429.4,351.9 429.9,352.5 430.4,352.6 430.8,353.0 431.3,353.1 431.8,353.2 432.2,353.4 432.7,353.7 433.2,353.9 433.7,354.6 434.1,354.5 434.6,354.5 435.1,354.7 435.5,354.7 436.0,355.0 436.5,354.9 437.0,355.1 437.4,355.2 437.9,355.4 438.4,355.1 438.8,355.5 439.3,355.5 439.8,356.0 440.3,356.2 440.7,356.3 441.2,356.7 441.7,357.0 442.1,357.1 442.6,357.4 443.1,357.5 443.6,357.6 444.0,357.8 444.5,357.7 445.0,357.9 445.4,357.5 445.9,357.7 446.4,357.7 446.9,358.3 447.3,358.1 447.8,358.4 448.3,358.5 448.7,358.7 449.2,359.1 449.7,358.8 450.2,359.4 450.6,359.1 451.1,359.3 451.6,359.7 452.0,359.5 452.5,359.5 453.0,359.6 453.5,359.7 453.9,359.7 454.4,360.3 454.9,360.6 455.3,360.3 455.8,360.9 456.3,360.9 456.7,361.1 457.2,360.9 457.7,361.0 458.2,361.7 458.6,361.2 459.1,360.9 459.6,361.4 460.0,361.0 460.5,361.5 461.0,362.0 461.5,361.8 461.9,361.7 462.4,362.3 462.9,362.1 463.3,362.4 463.8,362.4 464.3,362.5 464.8,362.4 465.2,362.6 465.7,362.8 466.2,362.4 466.6,363.1 467.1,363.3 467.6,362.9 468.1,363.1 468.5,363.6 469.0,363.2 469.5,363.9 469.9,364.2 470.4,363.8 470.9,363.8 471.4,363.6 471.8,364.4 472.3,364.2 472.8,364.2 473.2,364.2 473.7,364.3 474.2,364.5 474.7,365.0 475.1,364.9 475.6,365.1 476.1,365.0 476.5,365.4 477.0,365.4 477.5,365.4 478.0,365.5 478.4,365.5 478.9,365.5 479.4,364.9 479.8,365.4 480.3,365.8 480.8,365.9 481.3,366.2 481.7,366.0 482.2,366.9 482.7,366.8 483.1,366.4 483.6,366.3 484.1,366.6 484.6,366.5 485.0,367.0 485.5,366.8 486.0,367.1 486.4,367.2 486.9,366.9 487.4,367.2 487.8,367.0 488.3,367.3 488.8,367.8 489.3,367.7 489.7,367.4 490.2,367.8 490.7,367.6 491.1,367.6 491.6,368.1 492.1,368.3 492.6,368.4 493.0,368.8 493.5,368.4 494.0,368.5 494.4,368.4 494.9,368.4 495.4,368.3 495.9,368.7 496.3,368.4 496.8,368.7 497.3,368.7 497.7,369.0 498.2,368.8 498.7,369.3 499.2,369.1 499.6,369.1 500.1,369.3 500.6,369.5 501.0,369.6 501.5,369.5 502.0,369.5 502.5,369.7 502.9,369.3 503.4,369.5 503.9,369.7 504.3,369.9 504.8,370.0 505.3,370.0 505.8,369.8 506.2,370.1 506.7,370.1 507.2,370.3 507.6,370.7 508.1,370.3 508.6,370.4 509.1,370.6"/>
<polyline fill="none" stroke="#ae2840" stroke-width="1.1" stroke-linejoin="round" points="303.6,409.3 304.2,409.8 304.8,410.1 305.4,409.4 306.0,410.4 306.6,409.2 307.2,409.5 307.8,410.5 308.4,409.3 308.9,408.8 309.5,409.4 310.1,410.4 310.7,409.9 311.3,409.0 311.9,410.4 312.5,409.8 313.1,408.9 313.7,409.7 314.2,409.9 314.8,409.1 315.4,408.6 316.0,409.3 316.6,410.4 317.2,410.6 317.8,409.7 318.4,410.7 319.0,409.6 319.5,409.0 320.1,411.2 320.7,409.7 321.3,409.4 321.9,409.9 322.5,409.3 323.1,409.3 323.7,408.9 324.3,407.9 324.8,409.4 325.4,410.1 326.0,410.2 326.6,410.3 327.2,409.1 327.8,409.4 328.4,409.3 329.0,409.4 329.6,408.6 330.1,408.9 330.7,408.9 331.3,410.0 331.9,409.8 332.5,410.4 333.1,410.0 333.7,409.5 334.3,410.3 334.4,422.0 334.6,422.0 334.6,409.6 334.8,400.6 334.9,393.5 335.1,387.5 335.2,382.3 335.4,377.8 335.5,373.9 335.7,370.3 335.8,366.7 335.9,363.6 336.1,361.1 336.2,358.3 336.4,356.3 336.5,353.7 336.7,352.4 336.8,350.3 337.0,348.8 337.1,347.4 337.3,345.6 337.4,344.3 337.6,342.8 337.7,341.6 337.9,340.2 338.0,339.8 338.2,338.8 338.6,336.7 339.1,335.0 339.6,333.0 340.0,331.8 340.5,330.7 341.0,329.8 341.5,329.1 341.9,328.2 342.4,327.3 342.9,326.8 343.3,325.9 343.8,325.1 344.3,324.1 344.8,323.6 345.2,322.8 345.7,322.2 346.2,322.0 346.6,321.2 347.1,320.9 347.6,320.6 348.0,320.3 348.5,319.7 349.0,319.0 349.5,319.1 349.9,318.9 350.4,318.4 350.9,318.3 351.3,317.9 351.8,317.4 352.3,316.4 352.8,316.1 353.2,315.9 353.7,315.8 354.2,315.3 354.6,314.7 355.1,315.1 355.6,314.3 356.1,314.0 356.5,313.5 357.0,313.7 357.5,313.0 357.9,313.2 358.4,312.8 358.9,312.6 359.4,311.9 359.8,311.6 360.3,311.3 360.8,310.8 361.2,310.8 361.7,310.2 362.2,310.5 362.7,310.5 363.1,310.2 363.6,309.5 364.1,309.2 364.5,309.1 365.0,308.6 365.5,308.6 366.0,308.1 366.4,308.3 366.9,308.0 367.4,307.7 367.8,307.5 368.3,307.5 368.8,307.3 369.3,307.2 369.7,307.4 370.2,306.5 370.7,306.0 371.1,305.6 371.6,305.5 372.1,305.7 372.6,306.0 373.0,306.0 373.5,305.8 374.0,305.2 374.4,305.2 374.9,305.4 375.4,304.8 375.9,304.3 376.3,304.4 376.8,303.8 377.3,303.8 377.7,303.2 378.2,303.4 378.7,303.4 379.1,303.0 379.6,302.6 380.1,302.2 380.6,302.2 381.0,302.3 381.5,301.3 382.0,301.6 382.4,301.5 382.9,300.9 383.4,301.4 383.9,301.0 384.3,300.6 384.8,300.2 385.3,300.4 385.7,300.1 386.2,300.1 386.7,299.7 387.2,300.0 387.6,300.2 388.1,299.8 388.6,300.0 389.0,299.7 389.5,299.4 390.0,298.6 390.5,299.0 390.9,299.1 391.4,298.6 391.9,298.6 392.3,298.0 392.8,297.9 393.3,297.6 393.8,297.9 394.2,298.0 394.7,297.6 395.2,297.8 395.6,297.5 396.1,297.4 396.6,297.0 397.1,297.2 397.5,297.0 398.0,296.1 398.5,296.2 398.9,295.9 399.4,295.6 399.9,295.5 400.4,295.7 400.8,295.4 401.3,295.0 401.8,294.9 402.2,295.1 402.7,294.7 403.2,295.2 403.7,294.9 404.1,294.9 404.6,295.0 404.7,294.6 404.7,263.3 404.8,286.6 405.0,301.3 405.1,309.4 405.3,313.2 405.4,315.6 405.6,318.0 405.7,318.6 405.9,320.3 406.0,321.6 406.2,323.1 406.3,324.6 406.4,325.2 406.6,326.4 406.7,327.5 406.9,328.7 407.0,329.6 407.2,330.2 407.3,330.7 407.5,331.5 407.6,332.3 407.8,333.1 407.9,333.5 408.1,334.0 408.2,334.9 408.7,336.5 409.2,337.4 409.6,339.6 410.1,340.6 410.6,342.0 411.0,342.8 411.5,344.2 412.0,345.2 412.5,345.9 412.9,346.1 413.4,347.0 413.9,347.5 414.3,348.2 414.8,348.9 415.3,349.5 415.8,349.8 416.2,350.4 416.7,350.6 417.2,351.4 417.6,351.3 418.1,352.2 418.6,352.1 419.1,352.4 419.5,352.5 420.0,352.9 420.5,354.0 420.9,353.9 421.4,354.3 421.9,354.8 422.4,355.1 422.8,355.3 423.3,355.4 423.8,355.8 424.2,356.0 424.7,356.2 425.2,356.4 425.7,356.8 426.1,356.9 426.6,356.8 427.1,357.4 427.5,357.9 428.0,358.2 428.5,358.1 428.9,358.6 429.4,358.6 429.9,358.9 430.4,359.2 430.8,359.5 431.3,360.0 431.8,360.0 432.2,360.5 432.7,360.7 433.2,361.0 433.7,361.0 434.1,361.6 434.6,361.3 435.1,361.5 435.5,361.4 436.0,361.7 436.5,362.0 437.0,362.5 437.4,362.6 437.9,362.8 438.4,363.0 438.8,363.0 439.3,363.0 439.8,363.6 440.3,364.0 440.7,364.0 441.2,364.4 441.7,364.5 442.1,364.5 442.6,365.0 443.1,365.1 443.6,365.2 444.0,365.4 444.5,366.0 445.0,366.4 445.4,366.0 445.9,366.2 446.4,366.5 446.9,366.4 447.3,366.4 447.8,366.5 448.3,366.8 448.7,367.1 449.2,367.1 449.7,367.2 450.2,367.0 450.6,367.8 451.1,367.7 451.6,368.3 452.0,368.4 452.5,368.0 453.0,368.6 453.5,368.8 453.9,368.9 454.4,368.7 454.9,369.1 455.3,369.5 455.8,369.2 456.3,369.2 456.7,369.4 457.2,369.6 457.7,370.1 458.2,370.1 458.6,370.2 459.1,370.5 459.6,370.5 460.0,370.7 460.5,370.7 461.0,370.5 461.5,371.0 461.9,370.8 462.4,371.0 462.9,371.4 463.3,371.6 463.8,371.5 464.3,371.9 464.8,371.6 465.2,372.0 465.7,372.1 466.2,372.1 466.6,372.5 467.1,372.2 467.6,372.6 468.1,372.7 468.5,372.5 469.0,372.9 469.5,372.8 469.9,372.7 470.4,372.7 470.9,372.7 471.4,372.8 471.8,372.6 472.3,372.6 472.8,372.6 473.2,372.9 473.7,373.5 474.2,373.3 474.7,373.5 475.1,373.6 475.6,373.3 476.1,373.6 476.5,374.4 477.0,373.9 477.5,374.5 478.0,374.4 478.4,374.5 478.9,374.4 479.4,374.3 479.8,374.5 480.3,374.0 480.8,374.4 481.3,374.8 481.7,375.1 482.2,374.8 482.7,374.9 483.1,375.0 483.6,374.8 484.1,374.9 484.6,375.2 485.0,375.3 485.5,375.7 486.0,375.7 486.4,375.6 486.9,375.3 487.4,375.5 487.8,375.6 488.3,375.7 488.8,375.8 489.3,375.5 489.7,375.9 490.2,376.1 490.7,375.8 491.1,376.3 491.6,376.3 492.1,376.1 492.6,376.3 493.0,376.3 493.5,376.8 494.0,376.6 494.4,376.7 494.9,376.7 495.4,376.7 495.9,376.5 496.3,377.1 496.8,376.8 497.3,377.3 497.7,376.7 498.2,377.1 498.7,376.9 499.2,377.0 499.6,376.8 500.1,376.9 500.6,377.2 501.0,377.2 501.5,376.8 502.0,377.2 502.5,377.1 502.9,377.3 503.4,377.0 503.9,377.2 504.3,377.5 504.8,377.7 505.3,377.8 505.8,377.4 506.2,377.6 506.7,377.8 507.2,377.8 507.6,377.7 508.1,377.8 508.6,377.8 509.1,378.0"/>
<text x="306.87" y="439.7" font-size="12.1" textLength="16.48" lengthAdjust="spacingAndGlyphs">-20</text>
<text x="317.01" y="414.62" font-size="12.1" textLength="6.34" lengthAdjust="spacingAndGlyphs">0</text>
<text x="310.67" y="389.53" font-size="12.1" textLength="12.68" lengthAdjust="spacingAndGlyphs">20</text>
<text x="310.67" y="364.45" font-size="12.1" textLength="12.68" lengthAdjust="spacingAndGlyphs">40</text>
<text x="310.67" y="339.36" font-size="12.1" textLength="12.68" lengthAdjust="spacingAndGlyphs">60</text>
<text x="310.67" y="314.28" font-size="12.1" textLength="12.68" lengthAdjust="spacingAndGlyphs">80</text>
<text x="304.32" y="289.19" font-size="12.1" textLength="19.02" lengthAdjust="spacingAndGlyphs">100</text>
<text x="304.32" y="264.11" font-size="12.1" textLength="19.02" lengthAdjust="spacingAndGlyphs">120</text>
<text x="296.03" y="427.6" font-size="12.1" textLength="16.48" lengthAdjust="spacingAndGlyphs">-50</text>
<text x="358.45" y="427.6" font-size="12.1" textLength="12.68" lengthAdjust="spacingAndGlyphs">50</text>
<text x="412.78" y="427.6" font-size="12.1" textLength="19.02" lengthAdjust="spacingAndGlyphs">150</text>
<text x="470.83" y="427.6" font-size="12.1" textLength="19.02" lengthAdjust="spacingAndGlyphs">250</text>
<text x="-1.05" y="0" font-size="14.7" textLength="125.65" lengthAdjust="spacingAndGlyphs" transform="translate(294.8,399.8) rotate(-90)">Response units (RUs)</text>
<text x="371.10" y="444.7" font-size="14.7" textLength="90.61" lengthAdjust="spacingAndGlyphs">Time (seconds)</text>
<text x="346.77" y="240.3" font-size="14.7" textLength="138.72" lengthAdjust="spacingAndGlyphs">Affimer G2 - fibrinogen</text>
<line x1="80.4" y1="522.8" x2="80.4" y2="705.8" stroke="#141414" stroke-width="1.3"/>
<line x1="46.1" y1="675.9" x2="255.7" y2="675.9" stroke="#141414" stroke-width="1.6"/>
<line x1="75.6" y1="701.47" x2="80.4" y2="701.47" stroke="#141414" stroke-width="1.3"/>
<line x1="75.6" y1="676.6" x2="80.4" y2="676.6" stroke="#141414" stroke-width="1.3"/>
<line x1="75.6" y1="651.73" x2="80.4" y2="651.73" stroke="#141414" stroke-width="1.3"/>
<line x1="75.6" y1="626.86" x2="80.4" y2="626.86" stroke="#141414" stroke-width="1.3"/>
<line x1="75.6" y1="601.99" x2="80.4" y2="601.99" stroke="#141414" stroke-width="1.3"/>
<line x1="75.6" y1="577.12" x2="80.4" y2="577.12" stroke="#141414" stroke-width="1.3"/>
<line x1="75.6" y1="552.25" x2="80.4" y2="552.25" stroke="#141414" stroke-width="1.3"/>
<line x1="75.6" y1="527.38" x2="80.4" y2="527.38" stroke="#141414" stroke-width="1.3"/>
<line x1="50.9" y1="675.9" x2="50.9" y2="680.7" stroke="#141414" stroke-width="1.3"/>
<line x1="109.5" y1="675.9" x2="109.5" y2="680.7" stroke="#141414" stroke-width="1.3"/>
<line x1="167.4" y1="675.9" x2="167.4" y2="680.7" stroke="#141414" stroke-width="1.3"/>
<line x1="225.2" y1="675.9" x2="225.2" y2="680.7" stroke="#141414" stroke-width="1.3"/>
<polyline fill="none" stroke="#9b90c8" stroke-width="1.1" stroke-linejoin="round" points="51.7,676.1 52.2,675.8 52.8,675.9 53.4,675.9 54.0,675.7 54.6,676.4 55.2,676.3 55.8,676.4 56.3,676.1 56.9,675.8 57.5,676.1 58.1,676.0 58.7,676.6 59.3,676.1 59.8,676.3 60.4,675.7 61.0,675.9 61.6,675.9 62.2,676.1 62.8,675.9 63.3,675.9 63.9,676.2 64.5,676.2 65.1,676.1 65.7,676.2 66.3,676.2 66.9,676.2 67.4,676.3 68.0,675.9 68.6,676.5 69.2,675.9 69.8,676.3 70.4,676.2 70.9,676.4 71.5,676.1 72.1,676.2 72.7,676.0 73.3,676.2 73.9,676.1 74.5,675.6 75.0,676.0 75.6,676.2 76.2,675.9 76.8,676.1 77.4,675.9 78.0,675.9 78.5,676.2 79.1,676.6 79.7,676.2 80.3,676.0 80.9,676.2 81.5,676.0 81.8,675.6 82.0,674.3 82.1,673.2 82.3,672.3 82.4,671.5 82.6,670.9 82.7,670.4 82.8,670.1 83.0,669.9 83.1,669.8 83.3,669.3 83.4,669.6 83.6,669.7 83.7,669.4 83.9,669.0 84.0,669.1 84.2,669.3 84.3,669.3 84.4,668.8 84.6,669.0 84.7,668.9 84.9,668.8 85.0,668.7 85.2,669.1 85.3,668.8 85.8,669.0 86.3,668.9 86.7,668.4 87.2,668.1 87.7,668.2 88.1,668.1 88.6,668.2 89.1,668.2 89.5,668.5 90.0,668.0 90.5,667.6 90.9,667.3 91.4,667.6 91.9,667.3 92.3,667.6 92.8,667.8 93.3,667.7 93.7,667.6 94.2,667.7 94.7,667.2 95.1,667.4 95.6,667.5 96.1,667.3 96.5,667.6 97.0,667.4 97.5,667.1 98.0,667.3 98.4,667.3 98.9,667.5 99.4,667.5 99.8,666.9 100.3,667.2 100.8,667.2 101.2,666.9 101.7,666.5 102.2,667.0 102.6,666.7 103.1,666.8 103.6,666.2 104.0,666.3 104.5,666.3 105.0,666.8 105.4,666.8 105.9,666.5 106.4,666.4 106.8,666.6 107.3,666.6 107.8,666.4 108.2,666.5 108.7,666.1 109.2,666.6 109.6,666.5 110.1,666.3 110.6,666.3 111.0,666.1 111.5,665.7 112.0,666.2 112.4,666.4 112.9,666.4 113.4,666.1 113.9,666.0 114.3,665.8 114.8,665.9 115.3,665.7 115.7,665.7 116.2,665.8 116.7,665.5 117.1,665.9 117.6,666.1 118.1,665.9 118.5,666.1 119.0,666.6 119.5,666.1 119.9,665.7 120.4,665.7 120.9,665.6 121.3,665.3 121.8,665.4 122.3,665.7 122.7,665.6 123.2,665.2 123.7,665.8 124.1,665.6 124.6,665.7 125.1,665.7 125.5,665.7 126.0,665.3 126.5,665.2 126.9,665.1 127.4,665.5 127.9,665.5 128.3,665.2 128.8,665.4 129.3,665.5 129.7,665.4 130.2,665.3 130.7,665.5 131.2,665.6 131.6,665.3 132.1,665.3 132.6,665.6 133.0,665.3 133.5,664.6 134.0,665.3 134.4,665.7 134.9,665.4 135.4,664.8 135.8,665.0 136.3,665.1 136.8,665.1 137.2,665.0 137.7,664.7 138.2,664.9 138.6,664.7 139.1,664.5 139.6,664.7 140.0,664.9 140.5,664.8 141.0,665.0 141.4,665.5 141.9,664.9 142.4,665.3 142.8,665.3 143.3,665.3 143.8,665.0 144.2,664.4 144.7,664.8 145.2,664.5 145.6,664.6 146.1,664.3 146.6,664.3 147.0,664.5 147.5,664.6 148.0,664.6 148.5,664.6 148.9,664.7 149.4,665.0 149.9,664.7 150.3,664.5 150.8,664.7 151.3,664.9 151.6,664.6 151.6,664.4 151.8,665.8 151.9,666.8 152.1,667.7 152.2,668.3 152.4,668.9 152.5,669.6 152.7,670.2 152.8,670.0 153.0,669.9 153.1,670.2 153.2,671.0 153.4,671.0 153.5,671.0 153.7,671.3 153.8,671.1 154.0,671.4 154.1,671.1 154.3,671.2 154.4,671.4 154.6,671.9 154.7,672.1 154.9,672.8 155.0,672.6 155.1,672.9 155.6,672.9 156.1,672.9 156.5,672.4 157.0,672.8 157.5,672.5 158.0,673.1 158.4,672.8 158.9,672.5 159.4,673.0 159.8,672.7 160.3,672.8 160.8,672.7 161.2,672.9 161.7,673.2 162.2,673.1 162.6,673.3 163.1,673.6 163.6,673.6 164.0,673.1 164.5,673.2 165.0,672.8 165.4,672.8 165.9,673.1 166.4,672.8 166.8,673.3 167.3,673.1 167.8,672.8 168.2,673.3 168.7,673.4 169.2,673.4 169.6,672.7 170.1,673.2 170.6,673.2 171.0,672.8 171.5,673.0 172.0,673.1 172.4,673.3 172.9,673.6 173.4,673.2 173.8,673.1 174.3,673.2 174.8,673.0 175.3,672.9 175.7,672.6 176.2,672.7 176.7,672.7 177.1,673.1 177.6,673.5 178.1,673.2 178.5,673.1 179.0,672.9 179.5,673.0 179.9,672.8 180.4,672.7 180.9,672.8 181.3,673.0 181.8,672.7 182.3,673.1 182.7,673.0 183.2,673.1 183.7,673.2 184.1,673.2 184.6,673.3 185.1,673.2 185.5,673.1 186.0,672.9 186.5,672.9 186.9,673.1 187.4,672.8 187.9,673.0 188.3,672.9 188.8,672.9 189.3,672.8 189.7,672.9 190.2,672.6 190.7,673.0 191.2,673.2 191.6,673.4 192.1,673.5 192.6,673.4 193.0,673.1 193.5,673.2 194.0,673.1 194.4,673.1 194.9,673.5 195.4,672.9 195.8,673.1 196.3,672.9 196.8,673.0 197.2,672.9 197.7,672.9 198.2,673.2 198.6,673.0 199.1,673.2 199.6,673.4 200.0,673.4 200.5,673.5 201.0,673.4 201.4,673.5 201.9,673.2 202.4,673.1 202.8,673.0 203.3,673.2 203.8,673.2 204.2,673.1 204.7,673.2 205.2,673.3 205.6,673.1 206.1,673.3 206.6,673.4 207.0,673.6 207.5,673.1 208.0,673.0 208.5,673.3 208.9,673.0 209.4,673.0 209.9,673.5 210.3,673.2 210.8,673.3 211.3,673.2 211.7,673.1 212.2,673.2 212.7,673.4 213.1,673.2 213.6,673.8 214.1,673.4 214.5,673.5 215.0,673.4 215.5,673.5 215.9,673.6 216.4,673.2 216.9,673.6 217.3,673.7 217.8,674.0 218.3,673.4 218.7,673.0 219.2,673.0 219.7,672.6 220.1,672.8 220.6,673.0 221.1,673.2 221.5,673.0 222.0,673.3 222.5,673.3 222.9,673.5 223.4,673.1 223.9,672.8 224.4,673.2 224.8,673.1 225.3,673.7 225.8,673.2 226.2,673.3 226.7,673.1 227.2,673.3 227.6,673.4 228.1,673.3 228.6,673.2 229.0,673.2 229.5,673.4 230.0,673.2 230.4,673.4 230.9,673.0 231.4,673.2 231.8,673.3 232.3,673.3 232.8,673.5 233.2,673.2 233.7,673.6 234.2,673.7 234.6,673.4 235.1,673.4 235.6,673.3 236.0,673.4 236.5,673.7 237.0,673.7 237.4,673.7 237.9,673.7 238.4,673.6 238.8,673.5 239.3,673.6 239.8,673.6 240.2,673.7 240.7,673.5 241.2,673.4 241.7,673.6 242.1,673.2 242.6,673.0 243.1,673.0 243.5,673.3 244.0,673.8 244.5,673.9 244.9,673.5 245.4,673.2 245.9,673.6 246.3,673.1 246.8,673.0 247.3,673.1 247.7,673.4 248.2,673.0 248.7,673.2 249.1,673.4 249.6,673.2 250.1,673.2 250.5,673.7 251.0,673.4 251.5,673.1 251.9,674.0 252.4,673.7 252.9,673.4 253.3,673.6 253.8,673.4 254.3,673.3 254.7,672.7 255.2,673.3 255.7,673.2 256.1,673.6 256.6,673.2"/>
<polyline fill="none" stroke="#3b7357" stroke-width="1.1" stroke-linejoin="round" points="51.7,676.0 52.2,675.7 52.8,675.5 53.4,676.0 54.0,676.2 54.6,676.3 55.2,675.9 55.8,675.8 56.3,676.1 56.9,676.1 57.5,675.9 58.1,676.0 58.7,676.0 59.3,676.5 59.8,676.2 60.4,675.6 61.0,676.1 61.6,675.5 62.2,676.0 62.8,676.2 63.3,676.0 63.9,675.9 64.5,676.3 65.1,676.0 65.7,676.2 66.3,675.7 66.9,676.2 67.4,676.1 68.0,676.5 68.6,676.4 69.2,676.1 69.8,676.3 70.4,676.2 70.9,676.0 71.5,676.0 72.1,676.4 72.7,676.1 73.3,675.9 73.9,676.3 74.5,676.4 75.0,676.3 75.6,675.7 76.2,676.1 76.8,675.7 77.4,676.2 78.0,675.8 78.5,676.5 79.1,676.2 79.7,676.1 80.3,675.7 80.9,676.0 81.5,675.8 81.8,675.6 82.0,673.3 82.1,671.3 82.3,669.7 82.4,668.3 82.6,667.2 82.7,666.4 82.8,665.9 83.0,665.1 83.1,664.7 83.3,664.9 83.4,665.1 83.6,665.0 83.7,664.7 83.9,664.3 84.0,664.0 84.2,664.2 84.3,663.9 84.4,664.0 84.6,663.7 84.7,663.5 84.9,663.1 85.0,663.0 85.2,662.5 85.3,662.2 85.8,661.9 86.3,661.8 86.7,661.4 87.2,661.5 87.7,661.3 88.1,661.1 88.6,660.9 89.1,661.3 89.5,661.2 90.0,661.2 90.5,661.0 90.9,661.2 91.4,660.9 91.9,660.9 92.3,660.5 92.8,660.5 93.3,660.2 93.7,660.2 94.2,660.2 94.7,660.4 95.1,660.9 95.6,660.9 96.1,660.9 96.5,660.8 97.0,660.3 97.5,660.7 98.0,660.9 98.4,660.6 98.9,660.3 99.4,660.5 99.8,660.2 100.3,660.2 100.8,660.3 101.2,660.2 101.7,660.2 102.2,660.0 102.6,659.9 103.1,659.5 103.6,659.8 104.0,660.0 104.5,660.1 105.0,659.9 105.4,660.2 105.9,659.6 106.4,659.3 106.8,659.4 107.3,659.1 107.8,659.5 108.2,659.0 108.7,659.1 109.2,659.7 109.6,659.4 110.1,659.3 110.6,659.0 111.0,659.6 111.5,659.5 112.0,659.1 112.4,659.3 112.9,659.3 113.4,659.1 113.9,659.2 114.3,659.5 114.8,658.9 115.3,659.2 115.7,658.8 116.2,658.3 116.7,658.1 117.1,658.4 117.6,658.6 118.1,658.4 118.5,658.7 119.0,658.5 119.5,658.7 119.9,658.3 120.4,658.2 120.9,658.7 121.3,658.4 121.8,658.6 122.3,658.0 122.7,658.1 123.2,658.3 123.7,658.4 124.1,658.4 124.6,658.1 125.1,658.0 125.5,658.0 126.0,658.3 126.5,658.0 126.9,658.2 127.4,658.4 127.9,658.4 128.3,658.0 128.8,658.0 129.3,658.0 129.7,658.1 130.2,657.8 130.7,657.2 131.2,657.5 131.6,657.1 132.1,657.4 132.6,657.2 133.0,657.3 133.5,657.4 134.0,657.4 134.4,656.9 134.9,657.1 135.4,657.3 135.8,657.4 136.3,657.5 136.8,656.9 137.2,656.9 137.7,657.3 138.2,657.0 138.6,657.9 139.1,657.2 139.6,657.3 140.0,657.2 140.5,657.0 141.0,656.7 141.4,657.0 141.9,656.8 142.4,656.7 142.8,656.5 143.3,656.8 143.8,656.9 144.2,656.6 144.7,656.9 145.2,656.2 145.6,656.4 146.1,656.6 146.6,656.6 147.0,656.4 147.5,656.4 148.0,656.2 148.5,656.9 148.9,656.2 149.4,656.5 149.9,656.3 150.3,655.9 150.8,656.3 151.3,656.3 151.6,656.4 151.6,654.5 151.8,655.9 151.9,657.0 152.1,657.9 152.2,658.6 152.4,659.3 152.5,659.9 152.7,660.6 152.8,660.7 153.0,661.1 153.1,661.9 153.2,662.1 153.4,662.5 153.5,662.3 153.7,662.6 153.8,663.3 154.0,663.5 154.1,663.8 154.3,664.2 154.4,664.0 154.6,664.1 154.7,664.3 154.9,664.3 155.0,664.9 155.1,664.9 155.6,665.4 156.1,666.4 156.5,666.7 157.0,667.1 157.5,667.0 158.0,666.9 158.4,667.6 158.9,667.9 159.4,668.3 159.8,668.4 160.3,669.1 160.8,669.3 161.2,669.2 161.7,669.0 162.2,669.6 162.6,669.3 163.1,669.0 163.6,669.3 164.0,669.6 164.5,669.2 165.0,669.8 165.4,669.5 165.9,670.0 166.4,670.0 166.8,670.3 167.3,670.3 167.8,670.2 168.2,670.3 168.7,670.4 169.2,670.5 169.6,670.2 170.1,670.6 170.6,670.7 171.0,670.6 171.5,670.3 172.0,670.6 172.4,670.3 172.9,670.5 173.4,670.3 173.8,670.4 174.3,670.3 174.8,670.1 175.3,670.1 175.7,670.2 176.2,670.5 176.7,670.2 177.1,670.5 177.6,670.6 178.1,670.6 178.5,670.7 179.0,670.5 179.5,670.4 179.9,670.3 180.4,670.9 180.9,670.9 181.3,670.7 181.8,670.8 182.3,670.7 182.7,670.9 183.2,670.7 183.7,670.4 184.1,670.4 184.6,670.7 185.1,670.8 185.5,670.8 186.0,670.6 186.5,671.0 186.9,670.8 187.4,670.9 187.9,671.2 188.3,671.1 188.8,671.1 189.3,670.9 189.7,671.1 190.2,671.1 190.7,671.0 191.2,670.8 191.6,670.9 192.1,670.9 192.6,670.8 193.0,671.0 193.5,671.2 194.0,671.1 194.4,671.2 194.9,671.2 195.4,670.9 195.8,671.0 196.3,671.4 196.8,670.7 197.2,670.7 197.7,670.9 198.2,670.8 198.6,670.5 199.1,671.1 199.6,671.0 200.0,670.9 200.5,671.8 201.0,671.3 201.4,671.0 201.9,671.1 202.4,671.2 202.8,671.2 203.3,671.2 203.8,670.5 204.2,671.2 204.7,670.8 205.2,671.2 205.6,670.9 206.1,671.1 206.6,671.1 207.0,671.7 207.5,671.5 208.0,671.3 208.5,671.3 208.9,671.6 209.4,671.2 209.9,671.9 210.3,671.5 210.8,671.5 211.3,671.6 211.7,671.9 212.2,671.8 212.7,671.5 213.1,671.4 213.6,671.6 214.1,671.5 214.5,671.4 215.0,671.7 215.5,671.5 215.9,672.0 216.4,671.6 216.9,671.5 217.3,671.3 217.8,671.4 218.3,671.4 218.7,671.5 219.2,671.5 219.7,671.7 220.1,671.3 220.6,671.4 221.1,671.3 221.5,671.3 222.0,671.5 222.5,671.6 222.9,671.9 223.4,671.8 223.9,671.5 224.4,671.7 224.8,671.8 225.3,671.6 225.8,671.5 226.2,671.5 226.7,671.8 227.2,671.5 227.6,671.2 228.1,671.2 228.6,671.8 229.0,671.3 229.5,671.4 230.0,672.0 230.4,671.5 230.9,671.7 231.4,671.6 231.8,672.0 232.3,671.8 232.8,671.8 233.2,671.9 233.7,672.1 234.2,671.9 234.6,672.2 235.1,672.3 235.6,672.3 236.0,672.4 236.5,671.9 237.0,672.4 237.4,672.4 237.9,672.3 238.4,672.1 238.8,672.2 239.3,671.9 239.8,672.2 240.2,671.8 240.7,671.6 241.2,671.7 241.7,671.8 242.1,671.8 242.6,671.8 243.1,671.9 243.5,672.2 244.0,671.8 244.5,671.8 244.9,671.8 245.4,672.0 245.9,672.0 246.3,672.9 246.8,672.3 247.3,671.8 247.7,672.1 248.2,672.1 248.7,671.8 249.1,672.1 249.6,672.1 250.1,672.2 250.5,672.0 251.0,671.7 251.5,671.9 251.9,672.1 252.4,672.4 252.9,672.2 253.3,672.5 253.8,672.9 254.3,672.5 254.7,672.5 255.2,672.5 255.7,672.5 256.1,672.6 256.6,672.6"/>
<polyline fill="none" stroke="#e8983a" stroke-width="1.1" stroke-linejoin="round" points="51.7,675.9 52.2,676.3 52.8,676.2 53.4,676.1 54.0,676.0 54.6,675.9 55.2,675.9 55.8,676.1 56.3,676.1 56.9,676.1 57.5,676.1 58.1,676.1 58.7,675.9 59.3,675.9 59.8,676.4 60.4,676.7 61.0,676.0 61.6,676.2 62.2,676.5 62.8,675.9 63.3,675.7 63.9,676.4 64.5,676.3 65.1,676.3 65.7,676.3 66.3,676.1 66.9,676.4 67.4,676.1 68.0,676.2 68.6,675.9 69.2,676.1 69.8,675.9 70.4,675.7 70.9,676.0 71.5,675.9 72.1,676.2 72.7,676.1 73.3,675.5 73.9,675.8 74.5,676.1 75.0,676.2 75.6,676.2 76.2,675.8 76.8,676.6 77.4,676.1 78.0,676.4 78.5,675.8 79.1,676.5 79.7,675.9 80.3,676.2 80.9,676.1 81.5,675.7 81.8,675.6 82.0,671.5 82.1,668.1 82.3,665.1 82.4,662.7 82.6,660.7 82.7,659.3 82.8,658.5 83.0,658.2 83.1,657.3 83.3,657.1 83.4,656.4 83.6,656.4 83.7,656.0 83.9,656.2 84.0,655.7 84.2,655.4 84.3,654.8 84.4,654.1 84.6,653.9 84.7,653.8 84.9,653.6 85.0,653.8 85.2,653.3 85.3,653.3 85.8,652.4 86.3,652.5 86.7,651.8 87.2,651.5 87.7,651.9 88.1,651.6 88.6,651.7 89.1,651.0 89.5,651.4 90.0,651.0 90.5,650.9 90.9,651.0 91.4,651.0 91.9,650.5 92.3,650.8 92.8,650.6 93.3,650.1 93.7,650.3 94.2,650.4 94.7,650.4 95.1,650.1 95.6,650.6 96.1,650.9 96.5,650.5 97.0,650.3 97.5,650.4 98.0,649.8 98.4,649.6 98.9,649.6 99.4,649.4 99.8,649.7 100.3,649.8 100.8,649.9 101.2,649.4 101.7,649.1 102.2,649.2 102.6,648.8 103.1,649.3 103.6,648.9 104.0,648.8 104.5,648.6 105.0,648.9 105.4,648.5 105.9,648.9 106.4,648.9 106.8,648.6 107.3,648.4 107.8,648.7 108.2,648.3 108.7,648.7 109.2,648.2 109.6,648.9 110.1,648.0 110.6,648.8 111.0,648.4 111.5,648.6 112.0,648.2 112.4,648.2 112.9,648.1 113.4,647.9 113.9,647.8 114.3,648.0 114.8,647.6 115.3,648.2 115.7,648.0 116.2,648.0 116.7,647.7 117.1,647.6 117.6,647.7 118.1,647.8 118.5,647.9 119.0,647.5 119.5,647.4 119.9,647.9 120.4,647.8 120.9,647.8 121.3,647.6 121.8,647.5 122.3,647.8 122.7,647.6 123.2,647.4 123.7,647.7 124.1,647.1 124.6,647.1 125.1,647.5 125.5,647.4 126.0,647.2 126.5,647.7 126.9,647.7 127.4,647.6 127.9,647.2 128.3,647.0 128.8,647.1 129.3,647.0 129.7,647.2 130.2,646.8 130.7,647.0 131.2,647.0 131.6,646.4 132.1,646.6 132.6,646.6 133.0,646.5 133.5,646.3 134.0,646.9 134.4,647.0 134.9,647.5 135.4,647.3 135.8,646.8 136.3,646.7 136.8,647.1 137.2,647.2 137.7,647.2 138.2,647.2 138.6,647.2 139.1,647.5 139.6,647.2 140.0,647.0 140.5,647.3 141.0,647.1 141.4,647.0 141.9,646.9 142.4,646.8 142.8,646.5 143.3,646.9 143.8,646.6 144.2,646.3 144.7,646.4 145.2,646.3 145.6,646.5 146.1,646.1 146.6,646.1 147.0,646.2 147.5,646.0 148.0,646.3 148.5,646.3 148.9,646.2 149.4,646.2 149.9,646.0 150.3,646.2 150.8,646.4 151.3,646.5 151.6,646.3 151.6,632.2 151.8,635.7 151.9,638.6 152.1,640.9 152.2,642.9 152.4,644.6 152.5,646.1 152.7,647.4 152.8,649.1 153.0,650.0 153.1,651.2 153.2,651.8 153.4,653.1 153.5,653.7 153.7,655.3 153.8,655.3 154.0,656.0 154.1,656.6 154.3,657.7 154.4,657.6 154.6,658.7 154.7,658.9 154.9,658.9 155.0,659.6 155.1,660.2 155.6,660.8 156.1,661.8 156.5,662.9 157.0,663.1 157.5,663.9 158.0,663.9 158.4,664.6 158.9,665.2 159.4,665.0 159.8,665.7 160.3,665.8 160.8,666.0 161.2,666.2 161.7,666.6 162.2,666.5 162.6,666.8 163.1,667.1 163.6,667.4 164.0,667.6 164.5,667.5 165.0,667.5 165.4,667.8 165.9,667.9 166.4,667.8 166.8,668.0 167.3,668.4 167.8,668.4 168.2,668.5 168.7,668.5 169.2,668.5 169.6,668.7 170.1,668.8 170.6,669.0 171.0,669.2 171.5,669.3 172.0,669.0 172.4,669.3 172.9,669.3 173.4,669.8 173.8,669.8 174.3,669.9 174.8,669.6 175.3,669.3 175.7,669.1 176.2,669.4 176.7,669.0 177.1,669.5 177.6,670.0 178.1,669.6 178.5,669.7 179.0,669.8 179.5,670.4 179.9,670.6 180.4,669.9 180.9,670.1 181.3,670.3 181.8,669.8 182.3,670.2 182.7,670.3 183.2,670.2 183.7,670.2 184.1,670.0 184.6,669.9 185.1,670.0 185.5,670.0 186.0,670.0 186.5,670.5 186.9,670.1 187.4,670.1 187.9,670.4 188.3,670.5 188.8,670.3 189.3,670.8 189.7,670.8 190.2,671.0 190.7,670.7 191.2,670.5 191.6,670.4 192.1,670.0 192.6,670.3 193.0,670.0 193.5,670.3 194.0,670.5 194.4,670.6 194.9,670.7 195.4,670.7 195.8,670.7 196.3,670.8 196.8,670.7 197.2,670.9 197.7,670.8 198.2,670.8 198.6,670.3 199.1,670.6 199.6,670.2 200.0,670.3 200.5,670.5 201.0,670.6 201.4,670.5 201.9,670.7 202.4,670.6 202.8,670.8 203.3,671.0 203.8,671.2 204.2,670.6 204.7,671.2 205.2,671.0 205.6,671.1 206.1,671.3 206.6,671.2 207.0,670.9 207.5,670.9 208.0,670.9 208.5,670.8 208.9,670.5 209.4,670.7 209.9,670.6 210.3,670.6 210.8,670.4 211.3,671.0 211.7,671.3 212.2,671.3 212.7,671.3 213.1,671.6 213.6,671.4 214.1,671.5 214.5,671.3 215.0,671.5 215.5,671.9 215.9,671.5 216.4,671.2 216.9,671.2 217.3,671.3 217.8,671.1 218.3,671.2 218.7,670.9 219.2,671.2 219.7,671.2 220.1,671.0 220.6,671.4 221.1,671.2 221.5,671.5 222.0,671.4 222.5,671.5 222.9,671.6 223.4,671.6 223.9,671.2 224.4,671.6 224.8,671.1 225.3,671.3 225.8,671.1 226.2,671.4 226.7,671.2 227.2,671.3 227.6,671.0 228.1,671.3 228.6,671.3 229.0,671.8 229.5,671.6 230.0,672.1 230.4,672.4 230.9,672.4 231.4,672.1 231.8,671.7 232.3,672.1 232.8,671.9 233.2,671.6 233.7,671.4 234.2,671.6 234.6,671.2 235.1,671.4 235.6,671.9 236.0,671.5 236.5,671.6 237.0,671.5 237.4,671.8 237.9,671.6 238.4,671.8 238.8,672.0 239.3,672.1 239.8,671.9 240.2,671.9 240.7,672.0 241.2,672.0 241.7,671.9 242.1,672.3 242.6,672.4 243.1,672.2 243.5,672.0 244.0,671.8 244.5,672.1 244.9,671.7 245.4,671.6 245.9,672.0 246.3,672.3 246.8,672.2 247.3,672.4 247.7,672.2 248.2,671.8 248.7,671.7 249.1,672.2 249.6,671.8 250.1,672.0 250.5,672.0 251.0,672.4 251.5,672.0 251.9,672.3 252.4,671.8 252.9,671.7 253.3,671.7 253.8,672.0 254.3,672.3 254.7,672.3 255.2,672.2 255.7,672.4 256.1,672.1 256.6,671.9"/>
<polyline fill="none" stroke="#7a3d80" stroke-width="1.1" stroke-linejoin="round" points="51.7,676.4 52.2,676.4 52.8,676.1 53.4,676.1 54.0,676.1 54.6,676.4 55.2,676.3 55.8,675.9 56.3,676.2 56.9,676.2 57.5,675.9 58.1,676.0 58.7,676.1 59.3,675.7 59.8,676.4 60.4,676.0 61.0,676.2 61.6,675.8 62.2,676.3 62.8,675.9 63.3,676.2 63.9,675.5 64.5,676.0 65.1,675.5 65.7,676.3 66.3,676.2 66.9,676.0 67.4,676.5 68.0,676.3 68.6,675.7 69.2,675.8 69.8,676.1 70.4,675.8 70.9,676.0 71.5,676.0 72.1,676.3 72.7,675.9 73.3,676.2 73.9,675.7 74.5,676.3 75.0,675.5 75.6,676.3 76.2,676.4 76.8,676.4 77.4,676.0 78.0,676.0 78.5,676.3 79.1,675.9 79.7,675.6 80.3,676.1 80.9,675.9 81.5,675.9 81.8,675.6 82.0,669.1 82.1,663.8 82.3,659.1 82.4,655.3 82.6,652.1 82.7,649.9 82.8,648.5 83.0,647.6 83.1,646.5 83.3,646.2 83.4,645.5 83.6,645.1 83.7,645.2 83.9,644.8 84.0,644.7 84.2,644.3 84.3,643.5 84.4,642.4 84.6,641.4 84.7,640.7 84.9,640.1 85.0,639.8 85.2,640.0 85.3,639.8 85.8,639.0 86.3,638.4 86.7,638.4 87.2,637.7 87.7,637.6 88.1,637.3 88.6,637.1 89.1,636.8 89.5,636.7 90.0,636.5 90.5,636.4 90.9,635.9 91.4,635.9 91.9,636.2 92.3,635.6 92.8,635.4 93.3,635.5 93.7,635.3 94.2,635.1 94.7,635.1 95.1,635.1 95.6,635.4 96.1,635.1 96.5,634.4 97.0,634.8 97.5,634.6 98.0,634.2 98.4,633.9 98.9,634.0 99.4,633.8 99.8,633.8 100.3,633.7 100.8,633.7 101.2,633.6 101.7,633.3 102.2,633.3 102.6,633.5 103.1,633.3 103.6,633.5 104.0,633.2 104.5,632.8 105.0,632.7 105.4,632.7 105.9,632.5 106.4,632.5 106.8,632.6 107.3,632.5 107.8,632.4 108.2,632.1 108.7,632.3 109.2,631.9 109.6,632.0 110.1,631.8 110.6,632.1 111.0,632.0 111.5,631.8 112.0,631.7 112.4,631.4 112.9,631.4 113.4,631.3 113.9,631.3 114.3,631.0 114.8,631.1 115.3,631.0 115.7,631.0 116.2,631.1 116.7,631.0 117.1,631.4 117.6,631.0 118.1,631.1 118.5,631.0 119.0,630.7 119.5,630.5 119.9,630.8 120.4,630.2 120.9,630.3 121.3,629.8 121.8,630.1 122.3,630.2 122.7,630.0 123.2,630.2 123.7,630.0 124.1,630.2 124.6,630.0 125.1,630.3 125.5,630.3 126.0,630.0 126.5,629.8 126.9,629.4 127.4,629.6 127.9,629.5 128.3,629.3 128.8,629.0 129.3,629.5 129.7,629.6 130.2,629.4 130.7,629.3 131.2,629.1 131.6,629.2 132.1,629.3 132.6,629.4 133.0,629.2 133.5,629.1 134.0,629.2 134.4,629.2 134.9,628.6 135.4,628.5 135.8,628.6 136.3,628.9 136.8,628.7 137.2,628.6 137.7,629.1 138.2,629.2 138.6,628.6 139.1,629.3 139.6,629.2 140.0,628.6 140.5,629.0 141.0,628.7 141.4,628.8 141.9,628.8 142.4,628.5 142.8,628.4 143.3,628.3 143.8,628.6 144.2,628.3 144.7,628.5 145.2,628.5 145.6,628.5 146.1,628.8 146.6,628.4 147.0,628.3 147.5,628.3 148.0,628.3 148.5,628.3 148.9,628.4 149.4,628.7 149.9,628.6 150.3,628.2 150.8,628.6 151.3,628.2 151.6,628.2 151.6,619.3 151.8,622.4 151.9,624.9 152.1,627.1 152.2,629.0 152.4,630.7 152.5,632.1 152.7,633.6 152.8,634.8 153.0,635.8 153.1,637.0 153.2,638.3 153.4,639.0 153.5,640.1 153.7,640.6 153.8,642.1 154.0,642.9 154.1,643.7 154.3,643.5 154.4,644.5 154.6,645.4 154.7,645.8 154.9,646.9 155.0,647.2 155.1,647.3 155.6,649.2 156.1,650.7 156.5,651.6 157.0,652.2 157.5,652.8 158.0,653.5 158.4,654.2 158.9,655.0 159.4,655.4 159.8,655.9 160.3,656.3 160.8,656.2 161.2,656.6 161.7,656.6 162.2,657.3 162.6,658.0 163.1,658.2 163.6,658.0 164.0,658.5 164.5,658.8 165.0,659.2 165.4,660.0 165.9,659.7 166.4,660.2 166.8,660.5 167.3,660.5 167.8,660.6 168.2,661.4 168.7,661.2 169.2,661.5 169.6,661.2 170.1,661.9 170.6,662.0 171.0,662.3 171.5,662.5 172.0,662.7 172.4,662.3 172.9,662.6 173.4,662.8 173.8,662.4 174.3,662.8 174.8,662.6 175.3,663.2 175.7,663.0 176.2,662.9 176.7,662.9 177.1,663.3 177.6,663.1 178.1,663.9 178.5,663.6 179.0,664.1 179.5,664.0 179.9,663.9 180.4,663.9 180.9,663.9 181.3,663.9 181.8,664.0 182.3,664.1 182.7,663.8 183.2,664.1 183.7,664.4 184.1,664.7 184.6,664.1 185.1,664.6 185.5,664.8 186.0,664.8 186.5,665.1 186.9,664.8 187.4,665.1 187.9,665.0 188.3,664.5 188.8,665.0 189.3,665.1 189.7,664.7 190.2,665.2 190.7,665.0 191.2,665.3 191.6,665.3 192.1,665.5 192.6,665.4 193.0,665.0 193.5,664.8 194.0,665.0 194.4,665.4 194.9,665.5 195.4,665.1 195.8,665.4 196.3,665.5 196.8,665.3 197.2,665.4 197.7,665.4 198.2,665.8 198.6,666.2 199.1,665.9 199.6,666.1 200.0,666.1 200.5,666.1 201.0,665.7 201.4,665.7 201.9,665.5 202.4,665.2 202.8,665.6 203.3,665.7 203.8,665.7 204.2,666.1 204.7,666.1 205.2,665.8 205.6,665.7 206.1,666.1 206.6,666.1 207.0,666.0 207.5,666.2 208.0,666.5 208.5,666.3 208.9,666.6 209.4,666.3 209.9,666.5 210.3,666.3 210.8,666.4 211.3,666.4 211.7,666.5 212.2,666.5 212.7,666.7 213.1,666.8 213.6,666.5 214.1,667.1 214.5,666.5 215.0,666.6 215.5,666.7 215.9,666.7 216.4,666.8 216.9,666.3 217.3,666.2 217.8,666.5 218.3,666.2 218.7,666.8 219.2,666.8 219.7,666.8 220.1,666.5 220.6,666.7 221.1,667.1 221.5,666.9 222.0,666.9 222.5,667.3 222.9,666.8 223.4,666.5 223.9,666.5 224.4,666.6 224.8,666.8 225.3,667.2 225.8,667.2 226.2,667.1 226.7,666.9 227.2,666.8 227.6,666.7 228.1,666.7 228.6,666.5 229.0,667.0 229.5,666.7 230.0,667.0 230.4,667.0 230.9,666.8 231.4,667.0 231.8,667.4 232.3,667.0 232.8,667.3 233.2,667.2 233.7,667.4 234.2,667.7 234.6,667.7 235.1,667.6 235.6,667.3 236.0,667.2 236.5,667.0 237.0,667.0 237.4,667.3 237.9,667.2 238.4,667.0 238.8,667.0 239.3,667.4 239.8,667.7 240.2,667.5 240.7,667.5 241.2,667.4 241.7,667.4 242.1,667.0 242.6,667.1 243.1,667.3 243.5,667.1 244.0,667.5 244.5,667.4 244.9,667.2 245.4,667.2 245.9,667.0 246.3,667.3 246.8,667.4 247.3,666.8 247.7,667.0 248.2,667.1 248.7,667.4 249.1,667.1 249.6,667.2 250.1,667.7 250.5,667.4 251.0,667.4 251.5,668.0 251.9,667.6 252.4,667.7 252.9,667.3 253.3,667.5 253.8,667.6 254.3,667.6 254.7,667.6 255.2,668.0 255.7,667.9 256.1,667.8 256.6,667.9"/>
<polyline fill="none" stroke="#6aad48" stroke-width="1.1" stroke-linejoin="round" points="51.7,676.3 52.2,675.9 52.8,675.7 53.4,676.1 54.0,676.2 54.6,676.4 55.2,676.2 55.8,676.2 56.3,676.4 56.9,676.2 57.5,675.9 58.1,676.1 58.7,672.5 59.3,675.7 59.8,675.8 60.4,678.7 61.0,675.8 61.6,676.4 62.2,676.0 62.8,676.0 63.3,676.3 63.9,676.0 64.5,676.1 65.1,676.0 65.7,676.4 66.3,675.9 66.9,676.1 67.4,675.7 68.0,675.9 68.6,675.9 69.2,676.4 69.8,675.6 70.4,676.0 70.9,676.1 71.5,676.2 72.1,676.1 72.7,675.8 73.3,676.6 73.9,676.0 74.5,676.4 75.0,676.3 75.6,676.0 76.2,676.0 76.8,676.1 77.4,676.0 78.0,675.7 78.5,676.1 79.1,676.3 79.7,676.2 80.3,676.2 80.9,675.7 81.5,676.2 81.8,675.6 82.0,665.5 82.1,657.2 82.3,650.0 82.4,644.1 82.6,639.2 82.7,635.7 82.8,633.7 83.0,632.6 83.1,631.4 83.3,630.2 83.4,629.7 83.6,628.8 83.7,628.5 83.9,627.6 84.0,627.2 84.2,626.7 84.3,624.9 84.4,623.7 84.6,622.8 84.7,622.3 84.9,621.1 85.0,620.9 85.2,620.9 85.3,620.2 85.8,619.8 86.3,619.3 86.7,619.5 87.2,618.6 87.7,618.8 88.1,618.2 88.6,618.0 89.1,617.7 89.5,618.0 90.0,617.2 90.5,617.3 90.9,616.6 91.4,616.3 91.9,616.1 92.3,615.9 92.8,615.6 93.3,615.6 93.7,615.3 94.2,615.4 94.7,615.0 95.1,615.1 95.6,614.9 96.1,614.8 96.5,614.6 97.0,614.1 97.5,614.2 98.0,614.2 98.4,614.1 98.9,614.2 99.4,613.8 99.8,613.8 100.3,613.5 100.8,613.5 101.2,613.2 101.7,613.4 102.2,613.0 102.6,613.0 103.1,613.1 103.6,613.3 104.0,613.4 104.5,612.8 105.0,612.5 105.4,612.9 105.9,612.4 106.4,612.6 106.8,612.2 107.3,612.3 107.8,611.8 108.2,612.2 108.7,611.8 109.2,611.6 109.6,611.8 110.1,611.8 110.6,611.8 111.0,611.8 111.5,611.7 112.0,611.9 112.4,611.1 112.9,611.4 113.4,611.2 113.9,611.4 114.3,611.1 114.8,610.9 115.3,611.1 115.7,611.1 116.2,611.3 116.7,611.0 117.1,610.8 117.6,611.0 118.1,610.9 118.5,610.3 119.0,610.5 119.5,610.2 119.9,610.7 120.4,610.7 120.9,610.8 121.3,610.6 121.8,611.0 122.3,610.4 122.7,610.5 123.2,610.4 123.7,610.4 124.1,610.1 124.6,610.8 125.1,610.3 125.5,610.2 126.0,610.3 126.5,610.2 126.9,610.2 127.4,610.0 127.9,610.3 128.3,609.8 128.8,610.1 129.3,609.5 129.7,609.6 130.2,609.5 130.7,609.6 131.2,609.4 131.6,609.6 132.1,609.5 132.6,609.4 133.0,610.0 133.5,609.7 134.0,609.7 134.4,609.6 134.9,609.0 135.4,608.9 135.8,608.8 136.3,609.1 136.8,609.8 137.2,609.1 137.7,609.0 138.2,609.0 138.6,608.4 139.1,608.8 139.6,608.8 140.0,609.0 140.5,609.0 141.0,608.9 141.4,608.5 141.9,608.6 142.4,608.8 142.8,608.4 143.3,608.7 143.8,608.2 144.2,608.7 144.7,608.5 145.2,608.4 145.6,608.6 146.1,608.1 146.6,608.3 147.0,608.4 147.5,608.3 148.0,608.3 148.5,608.2 148.9,607.8 149.4,608.0 149.9,608.3 150.3,607.7 150.8,607.6 151.3,607.9 151.6,607.9 151.6,606.2 151.8,607.3 151.9,608.8 152.1,610.4 152.2,612.0 152.4,613.5 152.5,615.1 152.7,616.9 152.8,617.4 153.0,618.9 153.1,620.2 153.2,621.5 153.4,623.0 153.5,623.7 153.7,625.5 153.8,627.0 154.0,628.2 154.1,629.4 154.3,630.4 154.4,631.4 154.6,632.5 154.7,633.4 154.9,634.0 155.0,635.2 155.1,636.1 155.6,637.9 156.1,639.9 156.5,642.4 157.0,643.1 157.5,644.7 158.0,645.7 158.4,646.6 158.9,647.2 159.4,648.0 159.8,649.0 160.3,649.5 160.8,650.2 161.2,650.8 161.7,651.5 162.2,651.4 162.6,652.2 163.1,652.4 163.6,652.9 164.0,653.3 164.5,654.0 165.0,653.9 165.4,654.3 165.9,654.2 166.4,654.0 166.8,654.0 167.3,654.4 167.8,654.8 168.2,655.1 168.7,655.1 169.2,655.4 169.6,655.7 170.1,655.4 170.6,655.7 171.0,656.1 171.5,656.2 172.0,656.5 172.4,656.6 172.9,656.3 173.4,656.6 173.8,656.5 174.3,656.7 174.8,656.9 175.3,656.8 175.7,657.3 176.2,657.0 176.7,657.6 177.1,656.8 177.6,657.6 178.1,657.7 178.5,657.1 179.0,657.6 179.5,657.5 179.9,657.7 180.4,658.2 180.9,658.0 181.3,658.4 181.8,658.0 182.3,658.7 182.7,658.3 183.2,658.8 183.7,658.8 184.1,658.6 184.6,659.2 185.1,659.3 185.5,659.1 186.0,659.6 186.5,659.2 186.9,659.3 187.4,659.5 187.9,659.8 188.3,660.0 188.8,659.9 189.3,659.8 189.7,660.0 190.2,659.8 190.7,659.7 191.2,659.8 191.6,659.7 192.1,660.4 192.6,660.4 193.0,660.7 193.5,660.4 194.0,661.0 194.4,660.9 194.9,660.9 195.4,661.3 195.8,660.9 196.3,661.0 196.8,661.1 197.2,661.2 197.7,660.9 198.2,661.3 198.6,661.4 199.1,661.3 199.6,661.5 200.0,661.5 200.5,661.5 201.0,661.5 201.4,661.9 201.9,661.6 202.4,661.7 202.8,661.7 203.3,661.6 203.8,661.8 204.2,662.2 204.7,661.6 205.2,661.6 205.6,661.5 206.1,661.8 206.6,661.4 207.0,661.9 207.5,662.2 208.0,661.7 208.5,662.7 208.9,662.1 209.4,662.3 209.9,662.6 210.3,662.9 210.8,662.4 211.3,662.6 211.7,662.2 212.2,662.4 212.7,662.4 213.1,662.4 213.6,662.9 214.1,662.5 214.5,662.6 215.0,662.9 215.5,663.4 215.9,663.0 216.4,663.2 216.9,663.3 217.3,663.4 217.8,663.1 218.3,663.1 218.7,663.6 219.2,663.4 219.7,663.8 220.1,664.0 220.6,663.6 221.1,663.4 221.5,663.3 222.0,663.2 222.5,663.0 222.9,663.4 223.4,663.9 223.9,663.7 224.4,664.0 224.8,664.0 225.3,663.9 225.8,663.4 226.2,664.0 226.7,663.4 227.2,663.7 227.6,663.8 228.1,664.1 228.6,664.2 229.0,663.9 229.5,664.2 230.0,663.9 230.4,664.0 230.9,663.6 231.4,663.9 231.8,663.8 232.3,663.8 232.8,663.3 233.2,663.6 233.7,663.8 234.2,663.6 234.6,663.8 235.1,664.2 235.6,664.7 236.0,664.3 236.5,664.4 237.0,664.7 237.4,664.6 237.9,664.6 238.4,664.7 238.8,664.3 239.3,664.5 239.8,664.3 240.2,664.5 240.7,664.3 241.2,664.6 241.7,664.6 242.1,664.5 242.6,664.6 243.1,664.9 243.5,664.4 244.0,664.5 244.5,664.4 244.9,664.6 245.4,664.7 245.9,665.0 246.3,665.4 246.8,665.4 247.3,665.2 247.7,664.8 248.2,665.4 248.7,665.1 249.1,665.2 249.6,665.5 250.1,665.0 250.5,665.3 251.0,664.8 251.5,664.7 251.9,665.1 252.4,664.8 252.9,664.6 253.3,664.3 253.8,664.4 254.3,664.4 254.7,664.1 255.2,664.7 255.7,664.5 256.1,664.5 256.6,664.6"/>
<polyline fill="none" stroke="#35558e" stroke-width="1.1" stroke-linejoin="round" points="51.7,675.7 52.2,676.0 52.8,676.2 53.4,676.4 54.0,675.9 54.6,676.1 55.2,676.2 55.8,676.1 56.3,675.9 56.9,676.0 57.5,675.9 58.1,676.4 58.7,675.6 59.3,675.9 59.8,676.0 60.4,675.9 61.0,676.2 61.6,675.9 62.2,676.0 62.8,676.0 63.3,675.6 63.9,675.8 64.5,676.2 65.1,676.3 65.7,675.9 66.3,676.2 66.9,676.1 67.4,676.1 68.0,676.4 68.6,675.9 69.2,676.1 69.8,676.2 70.4,676.0 70.9,676.1 71.5,676.2 72.1,676.7 72.7,676.0 73.3,675.7 73.9,676.0 74.5,676.0 75.0,676.1 75.6,676.1 76.2,676.4 76.8,675.4 77.4,676.0 78.0,676.1 78.5,675.9 79.1,675.5 79.7,676.5 80.3,675.9 80.9,676.4 81.5,676.2 81.8,675.6 82.0,662.5 82.1,651.8 82.3,642.5 82.4,634.8 82.6,628.5 82.7,624.0 82.8,621.3 83.0,619.6 83.1,618.1 83.3,616.2 83.4,615.5 83.6,614.6 83.7,614.1 83.9,613.3 84.0,612.9 84.2,612.2 84.3,610.2 84.4,608.1 84.6,607.3 84.7,606.9 84.9,606.3 85.0,606.1 85.2,606.0 85.3,606.2 85.8,605.5 86.3,605.0 86.7,604.6 87.2,604.1 87.7,604.2 88.1,603.8 88.6,603.3 89.1,602.7 89.5,602.7 90.0,602.6 90.5,602.3 90.9,601.9 91.4,601.4 91.9,601.1 92.3,600.4 92.8,600.3 93.3,600.6 93.7,600.4 94.2,600.5 94.7,599.5 95.1,599.1 95.6,598.8 96.1,598.8 96.5,598.5 97.0,598.4 97.5,598.1 98.0,597.8 98.4,597.7 98.9,597.8 99.4,597.8 99.8,597.2 100.3,597.7 100.8,596.8 101.2,596.8 101.7,596.6 102.2,596.8 102.6,596.5 103.1,596.3 103.6,596.3 104.0,595.8 104.5,596.1 105.0,595.7 105.4,595.5 105.9,595.2 106.4,594.9 106.8,594.6 107.3,594.2 107.8,594.4 108.2,594.6 108.7,594.2 109.2,594.1 109.6,594.5 110.1,594.1 110.6,594.0 111.0,594.4 111.5,594.0 112.0,594.1 112.4,594.1 112.9,593.5 113.4,593.2 113.9,592.9 114.3,593.2 114.8,593.0 115.3,592.9 115.7,592.8 116.2,593.0 116.7,592.9 117.1,592.1 117.6,592.4 118.1,592.5 118.5,592.2 119.0,592.2 119.5,592.5 119.9,592.3 120.4,592.1 120.9,592.0 121.3,591.7 121.8,591.7 122.3,591.3 122.7,591.1 123.2,590.9 123.7,590.9 124.1,591.1 124.6,590.7 125.1,590.7 125.5,590.7 126.0,590.7 126.5,590.6 126.9,590.9 127.4,590.8 127.9,590.7 128.3,590.4 128.8,590.6 129.3,590.3 129.7,590.1 130.2,590.0 130.7,590.2 131.2,589.6 131.6,589.8 132.1,589.7 132.6,590.0 133.0,589.7 133.5,589.3 134.0,589.5 134.4,589.5 134.9,589.5 135.4,589.1 135.8,589.5 136.3,589.1 136.8,588.9 137.2,588.9 137.7,588.4 138.2,588.7 138.6,588.6 139.1,588.9 139.6,588.7 140.0,588.4 140.5,588.7 141.0,588.5 141.4,588.0 141.9,588.2 142.4,588.3 142.8,587.8 143.3,587.7 143.8,587.6 144.2,587.9 144.7,587.6 145.2,587.6 145.6,587.4 146.1,587.3 146.6,587.2 147.0,587.2 147.5,587.0 148.0,587.1 148.5,587.5 148.9,587.4 149.4,586.8 149.9,587.0 150.3,586.6 150.8,586.3 151.3,586.8 151.6,587.0 151.6,567.7 151.8,579.4 151.9,588.3 152.1,595.4 152.2,601.2 152.4,606.3 152.5,610.6 152.7,614.7 152.8,618.1 153.0,620.9 153.1,622.9 153.2,624.4 153.4,625.7 153.5,626.9 153.7,627.8 153.8,628.6 154.0,629.6 154.1,630.2 154.3,630.6 154.4,631.1 154.6,631.6 154.7,632.3 154.9,632.3 155.0,632.8 155.1,633.0 155.6,634.1 156.1,635.1 156.5,635.8 157.0,636.2 157.5,636.6 158.0,637.2 158.4,637.5 158.9,638.4 159.4,638.9 159.8,639.2 160.3,639.7 160.8,640.2 161.2,640.8 161.7,641.6 162.2,641.3 162.6,641.7 163.1,642.4 163.6,642.9 164.0,643.5 164.5,643.6 165.0,644.3 165.4,644.2 165.9,644.5 166.4,645.2 166.8,645.5 167.3,645.5 167.8,645.9 168.2,646.4 168.7,646.6 169.2,646.9 169.6,646.6 170.1,646.7 170.6,647.1 171.0,647.4 171.5,648.1 172.0,648.3 172.4,648.4 172.9,648.7 173.4,648.7 173.8,648.6 174.3,649.2 174.8,649.3 175.3,649.3 175.7,649.9 176.2,650.1 176.7,650.2 177.1,650.4 177.6,650.6 178.1,650.5 178.5,650.7 179.0,650.6 179.5,650.8 179.9,650.5 180.4,651.2 180.9,651.3 181.3,651.4 181.8,651.7 182.3,651.7 182.7,651.9 183.2,651.5 183.7,652.3 184.1,652.4 184.6,652.6 185.1,653.3 185.5,652.7 186.0,652.3 186.5,652.8 186.9,652.6 187.4,652.4 187.9,652.7 188.3,653.0 188.8,653.4 189.3,653.8 189.7,653.7 190.2,653.7 190.7,653.5 191.2,653.6 191.6,653.2 192.1,653.6 192.6,653.9 193.0,654.0 193.5,654.1 194.0,654.4 194.4,654.5 194.9,654.3 195.4,654.2 195.8,654.0 196.3,654.2 196.8,654.2 197.2,654.5 197.7,654.5 198.2,654.9 198.6,654.9 199.1,655.0 199.6,654.9 200.0,655.1 200.5,655.1 201.0,655.1 201.4,655.2 201.9,655.4 202.4,655.7 202.8,655.7 203.3,655.4 203.8,655.3 204.2,655.4 204.7,655.5 205.2,655.7 205.6,655.4 206.1,656.0 206.6,656.0 207.0,655.7 207.5,656.1 208.0,655.9 208.5,655.9 208.9,655.8 209.4,655.8 209.9,656.0 210.3,655.7 210.8,656.1 211.3,656.4 211.7,656.1 212.2,656.3 212.7,656.4 213.1,656.1 213.6,656.5 214.1,656.7 214.5,656.0 215.0,656.6 215.5,656.6 215.9,656.5 216.4,656.4 216.9,656.4 217.3,656.5 217.8,656.7 218.3,656.8 218.7,656.5 219.2,656.5 219.7,656.7 220.1,657.1 220.6,656.9 221.1,657.0 221.5,656.7 222.0,656.9 222.5,656.9 222.9,657.2 223.4,657.5 223.9,657.8 224.4,657.7 224.8,657.7 225.3,657.4 225.8,657.5 226.2,657.6 226.7,657.2 227.2,657.4 227.6,657.1 228.1,657.2 228.6,657.2 229.0,657.4 229.5,657.3 230.0,657.2 230.4,657.8 230.9,657.7 231.4,657.8 231.8,657.8 232.3,657.9 232.8,657.9 233.2,657.7 233.7,657.9 234.2,657.7 234.6,657.9 235.1,657.8 235.6,657.8 236.0,658.0 236.5,657.5 237.0,657.8 237.4,657.9 237.9,657.8 238.4,658.2 238.8,658.1 239.3,658.2 239.8,657.8 240.2,658.2 240.7,658.3 241.2,658.4 241.7,658.3 242.1,658.1 242.6,658.3 243.1,658.2 243.5,658.4 244.0,658.5 244.5,658.6 244.9,658.5 245.4,658.3 245.9,658.6 246.3,658.5 246.8,658.6 247.3,658.8 247.7,659.3 248.2,659.2 248.7,659.2 249.1,659.0 249.6,659.2 250.1,659.2 250.5,659.1 251.0,658.9 251.5,659.0 251.9,659.3 252.4,659.3 252.9,659.3 253.3,659.3 253.8,659.2 254.3,659.3 254.7,659.2 255.2,659.4 255.7,659.1 256.1,659.2 256.6,659.2"/>
<polyline fill="none" stroke="#ae2840" stroke-width="1.1" stroke-linejoin="round" points="51.7,676.0 52.2,676.5 52.8,676.0 53.4,675.8 54.0,676.4 54.6,676.2 55.2,676.3 55.8,675.9 56.3,675.9 56.9,676.2 57.5,676.4 58.1,675.7 58.7,676.1 59.3,676.4 59.8,675.9 60.4,675.5 61.0,676.0 61.6,676.0 62.2,675.9 62.8,676.0 63.3,676.2 63.9,676.0 64.5,676.0 65.1,676.0 65.7,675.5 66.3,676.0 66.9,676.3 67.4,676.3 68.0,675.9 68.6,676.2 69.2,676.0 69.8,676.1 70.4,676.3 70.9,675.7 71.5,675.4 72.1,675.9 72.7,676.4 73.3,675.9 73.9,676.4 74.5,675.4 75.0,676.3 75.6,675.6 76.2,676.1 76.8,676.4 77.4,676.0 78.0,676.1 78.5,676.2 79.1,675.8 79.7,676.1 80.3,676.2 80.9,676.1 81.5,676.3 81.6,697.9 81.8,697.9 81.8,675.6 82.0,660.5 82.1,648.0 82.3,637.2 82.4,628.4 82.6,622.1 82.7,615.8 82.8,604.3 83.0,596.4 83.1,595.5 83.3,595.3 83.4,595.1 83.6,594.7 83.7,594.6 83.9,594.5 84.0,594.2 84.2,594.1 84.3,593.9 84.4,593.3 84.6,593.1 84.7,593.3 84.9,593.5 85.0,593.1 85.2,593.0 85.3,592.7 85.8,592.1 86.3,591.6 86.7,591.2 87.2,590.8 87.7,590.5 88.1,590.5 88.6,589.9 89.1,589.6 89.5,589.1 90.0,588.8 90.5,588.3 90.9,588.2 91.4,587.7 91.9,587.3 92.3,586.9 92.8,586.3 93.3,586.6 93.7,585.8 94.2,585.4 94.7,585.5 95.1,585.2 95.6,584.5 96.1,584.4 96.5,584.1 97.0,583.7 97.5,583.2 98.0,583.2 98.4,582.9 98.9,582.3 99.4,582.4 99.8,582.0 100.3,582.1 100.8,581.6 101.2,581.1 101.7,580.9 102.2,580.8 102.6,580.6 103.1,580.2 103.6,580.5 104.0,580.0 104.5,579.5 105.0,579.4 105.4,579.4 105.9,579.7 106.4,579.1 106.8,578.8 107.3,578.5 107.8,578.2 108.2,578.1 108.7,578.0 109.2,577.7 109.6,577.9 110.1,577.6 110.6,577.6 111.0,577.3 111.5,577.1 112.0,577.1 112.4,576.9 112.9,576.6 113.4,576.9 113.9,576.8 114.3,576.6 114.8,575.8 115.3,576.0 115.7,575.7 116.2,575.5 116.7,574.9 117.1,574.8 117.6,575.0 118.1,574.6 118.5,574.2 119.0,574.9 119.5,574.1 119.9,574.3 120.4,573.7 120.9,574.1 121.3,573.7 121.8,573.4 122.3,573.3 122.7,572.9 123.2,573.0 123.7,572.6 124.1,572.3 124.6,572.5 125.1,572.3 125.5,572.5 126.0,572.1 126.5,571.9 126.9,572.2 127.4,572.0 127.9,571.5 128.3,571.7 128.8,571.6 129.3,571.5 129.7,571.0 130.2,571.3 130.7,570.9 131.2,570.8 131.6,570.9 132.1,570.4 132.6,570.5 133.0,570.3 133.5,570.4 134.0,569.9 134.4,569.9 134.9,570.0 135.4,570.0 135.8,569.7 136.3,570.3 136.8,569.9 137.2,569.7 137.7,569.6 138.2,569.7 138.6,569.2 139.1,568.8 139.6,569.2 140.0,569.1 140.5,569.5 141.0,569.4 141.4,569.2 141.9,569.0 142.4,568.7 142.8,568.8 143.3,568.4 143.8,568.6 144.2,568.5 144.7,568.5 145.2,568.3 145.6,568.0 146.1,567.9 146.6,567.9 147.0,567.7 147.5,567.5 148.0,567.4 148.5,567.0 148.9,567.1 149.4,567.1 149.9,567.3 150.3,567.2 150.8,567.0 151.3,566.9 151.6,566.9 151.6,540.9 151.8,558.4 151.9,571.3 152.1,581.0 152.2,588.6 152.4,595.2 152.5,600.4 152.7,605.1 152.8,608.5 153.0,611.6 153.1,612.8 153.2,615.0 153.4,616.8 153.5,618.1 153.7,619.5 153.8,620.7 154.0,621.9 154.1,622.4 154.3,623.3 154.4,623.9 154.6,624.6 154.7,625.5 154.9,625.6 155.0,626.7 155.1,627.1 155.6,628.5 156.1,629.5 156.5,630.5 157.0,631.2 157.5,631.8 158.0,632.3 158.4,633.2 158.9,633.4 159.4,633.5 159.8,634.1 160.3,634.1 160.8,634.6 161.2,635.1 161.7,635.0 162.2,635.3 162.6,635.6 163.1,635.7 163.6,635.9 164.0,635.8 164.5,636.1 165.0,636.2 165.4,636.5 165.9,636.8 166.4,637.0 166.8,637.3 167.3,637.7 167.8,638.1 168.2,638.0 168.7,638.3 169.2,638.0 169.6,638.0 170.1,638.4 170.6,639.0 171.0,639.1 171.5,639.7 172.0,639.3 172.4,639.5 172.9,639.4 173.4,639.7 173.8,640.2 174.3,640.7 174.8,640.2 175.3,640.3 175.7,640.3 176.2,640.3 176.7,640.3 177.1,640.6 177.6,640.9 178.1,641.2 178.5,641.2 179.0,641.3 179.5,641.6 179.9,641.4 180.4,641.7 180.9,642.0 181.3,642.0 181.8,642.2 182.3,642.5 182.7,642.3 183.2,642.3 183.7,642.5 184.1,642.7 184.6,643.1 185.1,642.6 185.5,643.1 186.0,642.8 186.5,642.8 186.9,642.8 187.4,642.8 187.9,643.1 188.3,643.3 188.8,643.5 189.3,643.3 189.7,643.4 190.2,643.2 190.7,643.7 191.2,643.7 191.6,643.8 192.1,644.1 192.6,644.1 193.0,644.2 193.5,644.4 194.0,644.8 194.4,644.2 194.9,644.3 195.4,644.4 195.8,644.4 196.3,644.3 196.8,644.6 197.2,644.9 197.7,644.9 198.2,645.3 198.6,645.2 199.1,645.5 199.6,645.6 200.0,645.8 200.5,645.7 201.0,645.3 201.4,645.2 201.9,645.5 202.4,645.2 202.8,645.5 203.3,645.3 203.8,645.5 204.2,645.7 204.7,645.7 205.2,645.7 205.6,646.1 206.1,646.2 206.6,646.7 207.0,646.9 207.5,646.6 208.0,646.9 208.5,646.9 208.9,647.1 209.4,646.9 209.9,646.8 210.3,646.8 210.8,646.3 211.3,646.8 211.7,646.5 212.2,647.2 212.7,646.9 213.1,647.1 213.6,647.2 214.1,647.1 214.5,647.1 215.0,647.2 215.5,647.7 215.9,647.8 216.4,647.7 216.9,647.5 217.3,647.8 217.8,647.5 218.3,647.7 218.7,647.5 219.2,647.5 219.7,647.2 220.1,647.4 220.6,647.9 221.1,647.6 221.5,647.9 222.0,647.5 222.5,648.1 222.9,647.7 223.4,647.6 223.9,648.1 224.4,648.1 224.8,647.2 225.3,647.9 225.8,648.0 226.2,648.4 226.7,648.0 227.2,647.8 227.6,648.4 228.1,648.4 228.6,647.9 229.0,648.4 229.5,648.5 230.0,648.3 230.4,648.7 230.9,648.7 231.4,648.3 231.8,648.7 232.3,648.5 232.8,648.7 233.2,648.9 233.7,649.0 234.2,648.9 234.6,648.9 235.1,648.6 235.6,648.7 236.0,648.9 236.5,648.3 237.0,648.6 237.4,648.8 237.9,648.6 238.4,648.5 238.8,648.7 239.3,648.7 239.8,648.7 240.2,648.7 240.7,648.9 241.2,648.8 241.7,649.0 242.1,649.3 242.6,649.0 243.1,648.8 243.5,649.8 244.0,649.3 244.5,649.1 244.9,648.9 245.4,648.8 245.9,648.8 246.3,648.4 246.8,648.8 247.3,649.2 247.7,648.9 248.2,649.2 248.7,649.5 249.1,649.6 249.6,649.1 250.1,649.0 250.5,649.1 251.0,648.8 251.5,648.9 251.9,649.3 252.4,649.2 252.9,649.7 253.3,649.7 253.8,650.3 254.3,649.8 254.7,649.8 255.2,649.6 255.7,649.8 256.1,649.4 256.6,649.9"/>
<line x1="83.5" y1="675.8" x2="128" y2="675.8" stroke="#2f5a45" stroke-width="1.5"/>
<line x1="147" y1="675.8" x2="175" y2="675.8" stroke="#2f5a45" stroke-width="1.5"/>
<text x="54.47" y="706.7" font-size="12.1" textLength="16.48" lengthAdjust="spacingAndGlyphs">-20</text>
<text x="64.61" y="681.62" font-size="12.1" textLength="6.34" lengthAdjust="spacingAndGlyphs">0</text>
<text x="58.27" y="656.53" font-size="12.1" textLength="12.68" lengthAdjust="spacingAndGlyphs">20</text>
<text x="58.27" y="631.45" font-size="12.1" textLength="12.68" lengthAdjust="spacingAndGlyphs">40</text>
<text x="58.27" y="606.36" font-size="12.1" textLength="12.68" lengthAdjust="spacingAndGlyphs">60</text>
<text x="58.27" y="581.28" font-size="12.1" textLength="12.68" lengthAdjust="spacingAndGlyphs">80</text>
<text x="51.92" y="556.19" font-size="12.1" textLength="19.02" lengthAdjust="spacingAndGlyphs">100</text>
<text x="51.92" y="531.11" font-size="12.1" textLength="19.02" lengthAdjust="spacingAndGlyphs">120</text>
<text x="43.73" y="693.7" font-size="12.1" textLength="16.48" lengthAdjust="spacingAndGlyphs">-50</text>
<text x="103.75" y="693.7" font-size="12.1" textLength="12.68" lengthAdjust="spacingAndGlyphs">50</text>
<text x="158.28" y="693.7" font-size="12.1" textLength="19.02" lengthAdjust="spacingAndGlyphs">150</text>
<text x="216.23" y="693.7" font-size="12.1" textLength="19.02" lengthAdjust="spacingAndGlyphs">250</text>
<text x="-1.05" y="0" font-size="14.7" textLength="125.65" lengthAdjust="spacingAndGlyphs" transform="translate(42.8,667.0) rotate(-90)">Response units (RUs)</text>
<text x="121.61" y="711.2" font-size="14.7" textLength="90.10" lengthAdjust="spacingAndGlyphs">Time (seconds)</text>
<text x="114.17" y="502.8" font-size="14.7" textLength="105.32" lengthAdjust="spacingAndGlyphs">Affimer F5 - fibrin</text>
<line x1="332.5" y1="522.5" x2="332.5" y2="706" stroke="#141414" stroke-width="1.3"/>
<line x1="297.6" y1="676" x2="507.9" y2="676" stroke="#141414" stroke-width="1.6"/>
<line x1="327.7" y1="701.47" x2="332.5" y2="701.47" stroke="#141414" stroke-width="1.3"/>
<line x1="327.7" y1="676.6" x2="332.5" y2="676.6" stroke="#141414" stroke-width="1.3"/>
<line x1="327.7" y1="651.73" x2="332.5" y2="651.73" stroke="#141414" stroke-width="1.3"/>
<line x1="327.7" y1="626.86" x2="332.5" y2="626.86" stroke="#141414" stroke-width="1.3"/>
<line x1="327.7" y1="601.99" x2="332.5" y2="601.99" stroke="#141414" stroke-width="1.3"/>
<line x1="327.7" y1="577.12" x2="332.5" y2="577.12" stroke="#141414" stroke-width="1.3"/>
<line x1="327.7" y1="552.25" x2="332.5" y2="552.25" stroke="#141414" stroke-width="1.3"/>
<line x1="327.7" y1="527.38" x2="332.5" y2="527.38" stroke="#141414" stroke-width="1.3"/>
<line x1="301.9" y1="676" x2="301.9" y2="680.8" stroke="#141414" stroke-width="1.3"/>
<line x1="364.2" y1="676" x2="364.2" y2="680.8" stroke="#141414" stroke-width="1.3"/>
<line x1="422" y1="676" x2="422" y2="680.8" stroke="#141414" stroke-width="1.3"/>
<line x1="479.7" y1="676" x2="479.7" y2="680.8" stroke="#141414" stroke-width="1.3"/>
<polyline fill="none" stroke="#9b90c8" stroke-width="1.1" stroke-linejoin="round" points="303.6,674.1 304.2,678.7 304.8,674.9 305.4,675.7 306.0,674.6 306.6,675.4 307.2,674.1 307.8,675.8 308.4,676.3 308.9,675.3 309.5,675.4 310.1,676.1 310.7,676.0 311.3,675.1 311.9,675.1 312.5,676.3 313.1,676.1 313.7,677.5 314.2,674.2 314.8,676.0 315.4,674.6 316.0,675.4 316.6,674.0 317.2,674.4 317.8,675.5 318.4,674.4 319.0,676.7 319.5,674.6 320.1,677.2 320.7,675.5 321.3,674.8 321.9,675.6 322.5,676.1 323.1,676.5 323.7,676.1 324.3,674.8 324.8,675.0 325.4,676.0 326.0,677.0 326.6,675.2 327.2,677.1 327.8,676.3 328.4,676.5 329.0,675.1 329.6,675.6 330.1,675.4 330.7,675.5 331.3,676.4 331.9,675.3 332.5,674.5 333.1,675.8 333.7,675.2 334.3,675.9 334.4,700.6 334.6,700.6 334.6,675.8 334.8,675.7 334.9,675.6 335.1,675.5 335.2,675.3 335.4,675.2 335.5,675.1 335.7,675.0 335.8,674.6 335.9,674.8 336.1,674.8 336.2,674.6 336.4,674.7 336.5,674.3 336.7,674.7 336.8,674.4 337.0,674.2 337.1,674.1 337.3,674.1 337.4,673.7 337.6,673.9 337.7,674.1 337.9,673.8 338.0,673.9 338.2,673.8 338.6,673.8 339.1,673.4 339.6,673.1 340.0,673.2 340.5,673.1 341.0,672.4 341.5,672.3 341.9,672.5 342.4,672.5 342.9,672.3 343.3,672.3 343.8,672.3 344.3,671.8 344.8,672.2 345.2,672.0 345.7,672.3 346.2,671.9 346.6,671.5 347.1,671.8 347.6,671.7 348.0,671.8 348.5,671.5 349.0,671.2 349.5,671.3 349.9,671.6 350.4,671.0 350.9,671.4 351.3,671.5 351.8,670.9 352.3,671.3 352.8,671.3 353.2,671.3 353.7,671.0 354.2,671.1 354.6,671.2 355.1,671.1 355.6,670.8 356.1,671.3 356.5,671.3 357.0,671.1 357.5,670.7 357.9,671.1 358.4,671.2 358.9,671.0 359.4,670.4 359.8,671.0 360.3,670.8 360.8,670.8 361.2,670.8 361.7,670.9 362.2,670.7 362.7,670.5 363.1,670.8 363.6,669.8 364.1,670.1 364.5,670.3 365.0,670.3 365.5,670.7 366.0,670.5 366.4,670.8 366.9,670.6 367.4,670.9 367.8,670.4 368.3,670.2 368.8,670.6 369.3,670.5 369.7,670.7 370.2,670.4 370.7,670.4 371.1,670.4 371.6,670.3 372.1,670.2 372.6,670.2 373.0,670.4 373.5,670.3 374.0,670.3 374.4,670.6 374.9,670.6 375.4,670.0 375.9,670.2 376.3,670.3 376.8,669.8 377.3,670.2 377.7,670.7 378.2,670.7 378.7,670.6 379.1,670.1 379.6,670.2 380.1,670.5 380.6,670.0 381.0,670.7 381.5,670.6 382.0,670.3 382.4,670.3 382.9,670.3 383.4,670.1 383.9,670.2 384.3,669.9 384.8,669.9 385.3,670.0 385.7,669.7 386.2,670.0 386.7,669.8 387.2,669.6 387.6,669.7 388.1,669.9 388.6,670.0 389.0,669.6 389.5,669.7 390.0,669.8 390.5,670.0 390.9,670.0 391.4,669.5 391.9,669.7 392.3,669.8 392.8,669.7 393.3,669.5 393.8,669.9 394.2,670.2 394.7,670.1 395.2,669.9 395.6,669.5 396.1,669.7 396.6,669.7 397.1,669.9 397.5,669.6 398.0,669.7 398.5,669.9 398.9,669.9 399.4,670.0 399.9,669.4 400.4,670.2 400.8,669.7 401.3,670.0 401.8,669.9 402.2,670.2 402.7,669.9 402.9,669.7 402.9,669.0 403.1,669.5 403.2,669.9 403.4,670.2 403.5,670.4 403.7,670.6 403.8,670.2 403.9,671.1 404.1,670.9 404.2,671.0 404.4,670.7 404.5,671.1 404.7,670.8 404.8,671.2 405.0,671.1 405.1,671.2 405.3,671.2 405.4,671.1 405.6,671.6 405.7,671.1 405.9,671.3 406.0,671.5 406.2,671.4 406.3,671.0 406.4,671.3 406.9,671.2 407.4,671.3 407.9,671.1 408.3,671.0 408.8,671.3 409.3,671.4 409.7,671.8 410.2,671.6 410.7,671.6 411.2,671.7 411.6,671.8 412.1,672.1 412.6,671.5 413.0,672.0 413.5,672.2 414.0,672.0 414.5,671.8 414.9,671.5 415.4,672.1 415.9,671.5 416.3,671.7 416.8,671.7 417.3,671.8 417.8,671.8 418.2,672.1 418.7,671.9 419.2,671.5 419.6,671.3 420.1,671.5 420.6,671.7 421.1,671.6 421.5,671.9 422.0,672.2 422.5,672.1 422.9,671.7 423.4,671.7 423.9,671.5 424.4,671.9 424.8,671.7 425.3,672.2 425.8,672.1 426.2,672.2 426.7,672.3 427.2,672.3 427.7,672.0 428.1,672.0 428.6,671.8 429.1,672.0 429.5,672.1 430.0,672.0 430.5,671.7 431.0,671.6 431.4,672.2 431.9,672.2 432.4,672.1 432.8,672.4 433.3,672.4 433.8,672.5 434.2,672.7 434.7,672.7 435.2,672.7 435.7,672.6 436.1,672.8 436.6,672.6 437.1,672.7 437.5,672.5 438.0,672.6 438.5,671.6 439.0,672.1 439.4,672.0 439.9,672.2 440.4,672.5 440.8,672.5 441.3,672.6 441.8,672.5 442.3,672.6 442.7,672.4 443.2,673.1 443.7,672.7 444.1,672.6 444.6,672.6 445.1,672.5 445.6,672.2 446.0,672.3 446.5,672.0 447.0,672.3 447.4,672.4 447.9,672.6 448.4,673.1 448.9,672.8 449.3,672.7 449.8,672.8 450.3,672.9 450.7,672.3 451.2,672.5 451.7,672.6 452.2,672.7 452.6,672.1 453.1,672.4 453.6,672.6 454.0,672.7 454.5,672.7 455.0,672.4 455.5,672.0 455.9,672.5 456.4,672.4 456.9,672.8 457.3,672.1 457.8,672.9 458.3,672.7 458.8,672.8 459.2,672.6 459.7,673.0 460.2,673.1 460.6,672.7 461.1,672.8 461.6,672.7 462.1,673.4 462.5,673.3 463.0,673.2 463.5,673.1 463.9,672.9 464.4,672.8 464.9,672.7 465.3,673.1 465.8,672.9 466.3,672.8 466.8,672.6 467.2,672.8 467.7,673.4 468.2,672.9 468.6,673.2 469.1,673.4 469.6,673.2 470.1,673.1 470.5,672.7 471.0,672.7 471.5,672.7 471.9,672.5 472.4,672.5 472.9,672.5 473.4,672.9 473.8,673.1 474.3,673.0 474.8,672.9 475.2,673.3 475.7,673.5 476.2,673.1 476.7,673.3 477.1,673.4 477.6,673.3 478.1,673.5 478.5,673.5 479.0,673.3 479.5,673.3 480.0,673.2 480.4,673.5 480.9,673.3 481.4,673.3 481.8,673.0 482.3,673.4 482.8,673.2 483.3,672.9 483.7,673.0 484.2,673.3 484.7,673.3 485.1,673.6 485.6,673.7 486.1,673.5 486.6,673.4 487.0,673.4 487.5,673.2 488.0,673.5 488.4,673.3 488.9,673.2 489.4,673.4 489.9,673.8 490.3,673.5 490.8,673.9 491.3,673.6 491.7,673.4 492.2,673.2 492.7,673.5 493.1,673.3 493.6,673.5 494.1,673.8 494.6,673.6 495.0,673.8 495.5,673.6 496.0,673.7 496.4,673.7 496.9,673.4 497.4,672.7 497.9,673.6 498.3,673.2 498.8,673.4 499.3,673.6 499.7,673.8 500.2,673.6 500.7,673.7 501.2,673.5 501.6,673.6 502.1,673.8 502.6,673.8 503.0,673.5 503.5,673.8 504.0,673.7 504.5,673.4 504.9,673.7 505.4,673.9 505.9,673.6 506.3,674.1 506.8,673.7 507.3,673.6 507.8,673.6 508.2,673.7 508.7,673.3 509.2,673.4"/>
<polyline fill="none" stroke="#3b7357" stroke-width="1.1" stroke-linejoin="round" points="303.6,675.1 304.2,675.8 304.8,674.5 305.4,676.1 306.0,676.3 306.6,675.9 307.2,676.1 307.8,676.0 308.4,677.0 308.9,677.7 309.5,677.2 310.1,676.4 310.7,675.4 311.3,676.1 311.9,676.7 312.5,676.0 313.1,675.8 313.7,673.2 314.2,674.6 314.8,675.6 315.4,677.2 316.0,676.0 316.6,676.1 317.2,675.3 317.8,673.8 318.4,675.9 319.0,677.6 319.5,675.9 320.1,677.4 320.7,675.0 321.3,674.8 321.9,675.5 322.5,677.2 323.1,676.0 323.7,674.7 324.3,676.7 324.8,676.4 325.4,675.6 326.0,675.3 326.6,675.7 327.2,675.5 327.8,675.6 328.4,676.3 329.0,675.9 329.6,675.5 330.1,676.8 330.7,675.6 331.3,675.7 331.9,675.4 332.5,675.5 333.1,676.8 333.7,677.0 334.3,675.6 334.6,675.8 334.8,675.5 334.9,675.3 335.1,675.0 335.2,674.7 335.4,674.5 335.5,674.2 335.7,674.0 335.8,673.7 335.9,673.4 336.1,673.4 336.2,673.3 336.4,672.9 336.5,672.8 336.7,672.5 336.8,672.0 337.0,672.2 337.1,671.5 337.3,671.1 337.4,670.7 337.6,670.9 337.7,670.5 337.9,671.0 338.0,671.0 338.2,670.6 338.6,670.7 339.1,669.8 339.6,669.7 340.0,669.8 340.5,668.8 341.0,669.1 341.5,668.5 341.9,669.0 342.4,668.6 342.9,668.4 343.3,668.3 343.8,668.4 344.3,668.1 344.8,668.1 345.2,667.8 345.7,668.3 346.2,668.0 346.6,667.7 347.1,667.5 347.6,667.6 348.0,667.5 348.5,667.4 349.0,667.0 349.5,667.3 349.9,667.1 350.4,667.4 350.9,666.5 351.3,666.6 351.8,666.8 352.3,666.3 352.8,666.2 353.2,666.4 353.7,666.6 354.2,666.6 354.6,666.8 355.1,666.4 355.6,666.4 356.1,666.1 356.5,666.0 357.0,665.6 357.5,665.9 357.9,666.0 358.4,665.9 358.9,665.8 359.4,665.7 359.8,665.4 360.3,665.5 360.8,665.5 361.2,665.4 361.7,665.2 362.2,665.7 362.7,666.0 363.1,665.7 363.6,665.5 364.1,665.6 364.5,665.3 365.0,665.2 365.5,664.9 366.0,665.1 366.4,664.8 366.9,664.6 367.4,664.3 367.8,664.1 368.3,664.4 368.8,664.4 369.3,664.1 369.7,664.0 370.2,664.6 370.7,664.6 371.1,664.0 371.6,664.2 372.1,664.3 372.6,664.4 373.0,664.1 373.5,664.3 374.0,663.9 374.4,663.1 374.9,663.5 375.4,663.8 375.9,663.6 376.3,663.8 376.8,664.0 377.3,664.2 377.7,664.0 378.2,664.1 378.7,664.2 379.1,664.0 379.6,664.0 380.1,664.2 380.6,663.6 381.0,663.9 381.5,663.6 382.0,663.6 382.4,663.4 382.9,663.5 383.4,663.6 383.9,663.4 384.3,663.3 384.8,663.1 385.3,663.2 385.7,663.4 386.2,662.9 386.7,662.7 387.2,662.9 387.6,663.0 388.1,663.1 388.6,663.0 389.0,663.3 389.5,663.0 390.0,663.2 390.5,663.4 390.9,663.3 391.4,663.3 391.9,663.1 392.3,663.0 392.8,662.4 393.3,662.7 393.8,662.6 394.2,663.2 394.7,662.8 395.2,662.7 395.6,662.5 396.1,663.2 396.6,662.7 397.1,662.6 397.5,662.4 398.0,662.6 398.5,662.4 398.9,662.5 399.4,662.6 399.9,662.4 400.4,661.9 400.8,662.1 401.3,662.2 401.8,662.3 402.2,662.0 402.7,662.9 402.9,662.4 402.9,662.2 403.1,663.0 403.2,663.6 403.4,664.1 403.5,664.5 403.7,664.8 403.8,664.4 403.9,665.0 404.1,665.1 404.2,665.6 404.4,665.9 404.5,666.3 404.7,665.9 404.8,666.4 405.0,666.3 405.1,666.5 405.3,666.8 405.4,667.2 405.6,667.3 405.7,667.5 405.9,667.4 406.0,667.4 406.2,667.5 406.3,667.9 406.4,668.1 406.9,668.1 407.4,668.1 407.9,668.5 408.3,668.5 408.8,668.2 409.3,668.1 409.7,668.7 410.2,668.9 410.7,669.2 411.2,669.2 411.6,669.3 412.1,669.3 412.6,668.8 413.0,668.8 413.5,669.0 414.0,669.2 414.5,668.9 414.9,669.1 415.4,669.1 415.9,669.2 416.3,669.1 416.8,669.1 417.3,668.7 417.8,669.2 418.2,669.0 418.7,669.3 419.2,669.1 419.6,669.2 420.1,669.1 420.6,669.3 421.1,669.5 421.5,669.2 422.0,669.4 422.5,669.4 422.9,669.4 423.4,669.6 423.9,669.7 424.4,670.2 424.8,669.8 425.3,670.2 425.8,669.9 426.2,669.9 426.7,669.9 427.2,669.9 427.7,669.6 428.1,669.8 428.6,669.8 429.1,669.7 429.5,670.1 430.0,670.4 430.5,670.4 431.0,670.0 431.4,670.2 431.9,670.0 432.4,670.6 432.8,670.5 433.3,670.7 433.8,670.8 434.2,670.2 434.7,670.1 435.2,670.3 435.7,670.3 436.1,670.1 436.6,670.6 437.1,670.9 437.5,670.4 438.0,670.9 438.5,670.3 439.0,670.1 439.4,670.2 439.9,670.1 440.4,670.4 440.8,671.0 441.3,670.6 441.8,670.9 442.3,671.3 442.7,671.3 443.2,671.0 443.7,671.4 444.1,670.6 444.6,670.5 445.1,670.6 445.6,670.9 446.0,670.9 446.5,670.8 447.0,670.9 447.4,670.9 447.9,671.3 448.4,671.1 448.9,671.1 449.3,671.3 449.8,671.0 450.3,670.7 450.7,670.9 451.2,671.3 451.7,671.0 452.2,670.7 452.6,671.0 453.1,671.3 453.6,671.2 454.0,670.9 454.5,671.6 455.0,672.1 455.5,671.6 455.9,671.5 456.4,671.3 456.9,671.2 457.3,671.3 457.8,671.4 458.3,671.1 458.8,671.4 459.2,671.4 459.7,671.7 460.2,671.3 460.6,671.5 461.1,671.6 461.6,671.5 462.1,671.5 462.5,671.5 463.0,671.4 463.5,671.2 463.9,671.2 464.4,671.2 464.9,671.5 465.3,671.4 465.8,671.3 466.3,671.8 466.8,672.1 467.2,671.9 467.7,672.0 468.2,672.1 468.6,671.9 469.1,672.1 469.6,672.0 470.1,672.0 470.5,671.7 471.0,671.9 471.5,671.9 471.9,671.6 472.4,671.3 472.9,672.0 473.4,671.7 473.8,671.9 474.3,671.8 474.8,672.0 475.2,671.8 475.7,671.7 476.2,671.5 476.7,672.1 477.1,672.2 477.6,672.4 478.1,672.2 478.5,672.2 479.0,672.0 479.5,671.8 480.0,671.6 480.4,671.8 480.9,671.8 481.4,671.4 481.8,671.6 482.3,671.7 482.8,672.1 483.3,672.3 483.7,672.1 484.2,672.1 484.7,671.8 485.1,672.3 485.6,672.2 486.1,672.1 486.6,672.3 487.0,672.6 487.5,672.2 488.0,672.3 488.4,672.5 488.9,672.7 489.4,672.8 489.9,672.5 490.3,672.5 490.8,672.5 491.3,672.1 491.7,671.7 492.2,671.8 492.7,671.4 493.1,672.0 493.6,672.1 494.1,672.4 494.6,672.6 495.0,672.5 495.5,672.7 496.0,672.4 496.4,671.9 496.9,672.3 497.4,672.1 497.9,672.5 498.3,672.4 498.8,672.0 499.3,672.2 499.7,672.5 500.2,672.4 500.7,672.7 501.2,672.3 501.6,672.4 502.1,672.4 502.6,672.5 503.0,672.9 503.5,673.0 504.0,673.2 504.5,672.7 504.9,672.7 505.4,672.3 505.9,672.7 506.3,672.5 506.8,673.0 507.3,673.1 507.8,672.9 508.2,673.1 508.7,673.2 509.2,673.1"/>
<polyline fill="none" stroke="#e8983a" stroke-width="1.1" stroke-linejoin="round" points="303.6,674.8 304.2,677.0 304.8,676.4 305.4,675.9 306.0,676.0 306.6,674.8 307.2,675.9 307.8,676.3 308.4,676.0 308.9,674.4 309.5,675.1 310.1,677.7 310.7,676.0 311.3,676.7 311.9,675.8 312.5,675.3 313.1,675.8 313.7,675.3 314.2,680.8 314.8,677.4 315.4,675.9 316.0,675.8 316.6,675.4 317.2,675.7 317.8,675.0 318.4,675.8 319.0,675.4 319.5,677.3 320.1,675.6 320.7,676.9 321.3,675.3 321.9,674.2 322.5,675.9 323.1,675.4 323.7,675.1 324.3,674.5 324.8,675.1 325.4,674.7 326.0,676.3 326.6,675.9 327.2,677.1 327.8,673.8 328.4,676.9 329.0,674.9 329.6,675.6 330.1,675.7 330.7,676.9 331.3,675.8 331.9,675.7 332.5,675.4 333.1,676.1 333.7,675.6 334.3,676.7 334.4,694.4 334.6,694.4 334.6,675.8 334.8,675.2 334.9,674.6 335.1,674.0 335.2,673.5 335.4,673.0 335.5,672.5 335.7,672.0 335.8,671.3 335.9,670.9 336.1,670.6 336.2,670.1 336.4,669.5 336.5,668.9 336.7,668.7 336.8,668.6 337.0,668.2 337.1,667.9 337.3,667.5 337.4,667.3 337.6,666.7 337.7,666.7 337.9,666.4 338.0,666.1 338.2,666.4 338.6,665.9 339.1,665.3 339.6,664.6 340.0,664.1 340.5,663.6 341.0,663.1 341.5,663.2 341.9,662.6 342.4,662.5 342.9,662.7 343.3,662.2 343.8,662.0 344.3,661.8 344.8,661.8 345.2,661.5 345.7,661.6 346.2,661.4 346.6,661.2 347.1,660.9 347.6,661.2 348.0,660.6 348.5,661.0 349.0,660.7 349.5,661.0 349.9,660.2 350.4,660.2 350.9,660.1 351.3,660.4 351.8,659.7 352.3,659.7 352.8,659.8 353.2,659.6 353.7,659.6 354.2,659.3 354.6,659.0 355.1,659.2 355.6,658.8 356.1,659.2 356.5,659.3 357.0,658.6 357.5,658.2 357.9,658.1 358.4,658.2 358.9,657.6 359.4,657.5 359.8,657.7 360.3,657.6 360.8,657.3 361.2,657.6 361.7,657.9 362.2,657.3 362.7,657.6 363.1,657.5 363.6,657.3 364.1,657.3 364.5,657.0 365.0,656.7 365.5,657.0 366.0,656.5 366.4,656.6 366.9,656.6 367.4,656.6 367.8,655.9 368.3,656.2 368.8,655.7 369.3,655.6 369.7,655.5 370.2,656.1 370.7,655.9 371.1,655.9 371.6,655.7 372.1,655.4 372.6,655.5 373.0,655.5 373.5,654.9 374.0,655.0 374.4,654.6 374.9,654.2 375.4,654.4 375.9,654.9 376.3,655.0 376.8,654.7 377.3,655.2 377.7,655.1 378.2,654.5 378.7,654.4 379.1,654.2 379.6,654.5 380.1,654.2 380.6,654.9 381.0,654.3 381.5,653.6 382.0,653.8 382.4,653.8 382.9,653.9 383.4,654.0 383.9,653.5 384.3,653.6 384.8,653.6 385.3,653.4 385.7,653.6 386.2,653.8 386.7,653.8 387.2,653.4 387.6,654.0 388.1,653.3 388.6,653.5 389.0,653.6 389.5,653.7 390.0,653.3 390.5,653.5 390.9,653.1 391.4,653.2 391.9,652.7 392.3,652.9 392.8,652.6 393.3,652.5 393.8,652.5 394.2,652.9 394.7,652.5 395.2,652.8 395.6,652.4 396.1,652.0 396.6,652.1 397.1,652.3 397.5,652.2 398.0,652.1 398.5,651.9 398.9,651.9 399.4,652.2 399.9,652.1 400.4,652.0 400.8,652.4 401.3,651.9 401.8,651.7 402.2,651.8 402.7,652.0 402.9,652.0 403.0,677.0 403.1,677.0 403.3,657.6 403.4,658.1 403.6,658.6 403.7,659.0 403.9,659.4 404.0,659.7 404.2,659.9 404.3,659.9 404.4,660.6 404.6,660.5 404.7,661.5 404.9,661.3 405.0,661.6 405.2,661.7 405.3,661.5 405.5,661.9 405.6,662.5 405.8,662.2 405.9,662.7 406.1,662.8 406.2,663.2 406.4,663.0 406.4,663.0 406.9,662.9 407.4,663.2 407.9,663.4 408.3,663.9 408.8,663.9 409.3,664.7 409.7,665.0 410.2,664.5 410.7,664.7 411.2,665.1 411.6,664.7 412.1,665.3 412.6,664.9 413.0,665.0 413.5,665.6 414.0,665.5 414.5,665.7 414.9,666.3 415.4,666.2 415.9,666.4 416.3,666.5 416.8,666.7 417.3,666.2 417.8,666.4 418.2,666.5 418.7,666.4 419.2,666.6 419.6,666.7 420.1,666.4 420.6,666.5 421.1,666.6 421.5,666.6 422.0,666.5 422.5,667.1 422.9,667.2 423.4,667.2 423.9,667.0 424.4,666.7 424.8,666.9 425.3,666.6 425.8,667.2 426.2,667.5 426.7,667.6 427.2,667.0 427.7,667.5 428.1,667.3 428.6,667.5 429.1,667.6 429.5,667.1 430.0,667.6 430.5,667.8 431.0,667.7 431.4,667.7 431.9,667.6 432.4,667.5 432.8,667.2 433.3,667.3 433.8,667.2 434.2,667.1 434.7,667.1 435.2,667.7 435.7,667.5 436.1,667.9 436.6,667.7 437.1,668.0 437.5,668.0 438.0,667.7 438.5,667.9 439.0,668.5 439.4,667.9 439.9,668.0 440.4,668.1 440.8,668.2 441.3,668.1 441.8,668.0 442.3,667.7 442.7,668.0 443.2,667.6 443.7,668.0 444.1,667.9 444.6,668.0 445.1,667.8 445.6,667.7 446.0,667.8 446.5,668.2 447.0,667.8 447.4,668.0 447.9,667.8 448.4,667.6 448.9,667.9 449.3,668.1 449.8,668.3 450.3,668.5 450.7,668.6 451.2,668.4 451.7,668.8 452.2,668.7 452.6,668.2 453.1,668.3 453.6,668.0 454.0,668.3 454.5,667.9 455.0,668.2 455.5,668.7 455.9,668.1 456.4,667.9 456.9,668.5 457.3,668.2 457.8,667.9 458.3,668.1 458.8,668.4 459.2,668.0 459.7,668.5 460.2,668.1 460.6,668.4 461.1,668.3 461.6,668.6 462.1,668.3 462.5,668.5 463.0,668.9 463.5,668.9 463.9,667.9 464.4,668.5 464.9,668.7 465.3,668.7 465.8,668.9 466.3,668.4 466.8,668.5 467.2,668.8 467.7,668.9 468.2,668.4 468.6,668.9 469.1,668.3 469.6,668.3 470.1,668.6 470.5,668.9 471.0,668.8 471.5,668.8 471.9,668.6 472.4,668.5 472.9,668.9 473.4,669.1 473.8,669.2 474.3,668.6 474.8,668.7 475.2,668.7 475.7,668.7 476.2,668.9 476.7,669.2 477.1,669.3 477.6,668.9 478.1,669.2 478.5,668.8 479.0,669.2 479.5,669.6 480.0,669.2 480.4,669.3 480.9,669.0 481.4,669.1 481.8,669.1 482.3,668.8 482.8,669.1 483.3,669.0 483.7,668.6 484.2,668.9 484.7,669.2 485.1,669.2 485.6,669.3 486.1,669.3 486.6,669.1 487.0,669.6 487.5,669.5 488.0,669.1 488.4,669.4 488.9,669.3 489.4,669.3 489.9,669.1 490.3,668.8 490.8,668.8 491.3,669.1 491.7,669.2 492.2,669.4 492.7,669.3 493.1,669.0 493.6,669.0 494.1,669.0 494.6,669.1 495.0,669.5 495.5,669.4 496.0,669.6 496.4,669.4 496.9,669.7 497.4,669.7 497.9,669.9 498.3,669.6 498.8,669.9 499.3,669.6 499.7,669.6 500.2,669.8 500.7,669.5 501.2,669.1 501.6,669.5 502.1,669.6 502.6,669.7 503.0,669.5 503.5,669.4 504.0,669.7 504.5,669.3 504.9,669.6 505.4,669.7 505.9,669.6 506.3,669.7 506.8,670.0 507.3,669.9 507.8,669.9 508.2,670.1 508.7,669.6 509.2,669.8"/>
<polyline fill="none" stroke="#7a3d80" stroke-width="1.1" stroke-linejoin="round" points="303.6,676.6 304.2,676.6 304.8,676.8 305.4,675.7 306.0,676.3 306.6,675.8 307.2,676.1 307.8,674.8 308.4,676.4 308.9,675.8 309.5,675.1 310.1,675.4 310.7,675.8 311.3,675.1 311.9,675.4 312.5,675.4 313.1,675.7 313.7,674.9 314.2,674.8 314.8,676.3 315.4,675.2 316.0,675.4 316.6,675.1 317.2,676.4 317.8,676.8 318.4,675.9 319.0,674.7 319.5,676.6 320.1,674.8 320.7,675.7 321.3,675.5 321.9,675.5 322.5,676.0 323.1,675.9 323.7,675.1 324.3,674.3 324.8,675.5 325.4,675.3 326.0,676.5 326.6,675.8 327.2,674.7 327.8,674.7 328.4,676.0 329.0,675.8 329.6,676.1 330.1,676.5 330.7,675.2 331.3,676.1 331.9,674.3 332.5,677.7 333.1,677.4 333.7,676.9 334.3,675.7 334.6,675.8 334.8,674.6 334.9,673.4 335.1,672.2 335.2,671.2 335.4,670.2 335.5,669.2 335.7,668.2 335.8,667.4 335.9,666.3 336.1,665.6 336.2,664.6 336.4,663.9 336.5,662.8 336.7,661.8 336.8,660.9 337.0,660.5 337.1,659.7 337.3,659.2 337.4,658.8 337.6,657.7 337.7,657.5 337.9,657.1 338.0,656.6 338.2,656.2 338.6,655.6 339.1,654.1 339.6,653.6 340.0,653.1 340.5,652.4 341.0,651.5 341.5,651.1 341.9,650.8 342.4,650.5 342.9,649.8 343.3,649.6 343.8,649.1 344.3,649.1 344.8,648.2 345.2,648.2 345.7,647.7 346.2,647.6 346.6,647.2 347.1,647.1 347.6,646.6 348.0,646.6 348.5,646.2 349.0,645.7 349.5,645.4 349.9,645.2 350.4,645.3 350.9,644.8 351.3,644.8 351.8,644.6 352.3,644.0 352.8,643.9 353.2,644.1 353.7,643.8 354.2,643.5 354.6,643.4 355.1,643.2 355.6,642.6 356.1,642.6 356.5,642.6 357.0,641.8 357.5,641.9 357.9,641.8 358.4,641.9 358.9,641.8 359.4,641.0 359.8,640.8 360.3,640.5 360.8,640.1 361.2,639.7 361.7,639.9 362.2,639.8 362.7,640.1 363.1,640.0 363.6,639.6 364.1,638.8 364.5,638.7 365.0,638.9 365.5,638.7 366.0,638.4 366.4,638.5 366.9,638.1 367.4,637.6 367.8,637.6 368.3,637.5 368.8,637.6 369.3,637.3 369.7,636.9 370.2,636.8 370.7,636.7 371.1,636.7 371.6,636.3 372.1,636.6 372.6,636.7 373.0,636.7 373.5,636.5 374.0,636.3 374.4,635.9 374.9,636.0 375.4,635.8 375.9,636.1 376.3,635.4 376.8,635.4 377.3,635.6 377.7,635.6 378.2,635.3 378.7,634.8 379.1,634.9 379.6,634.4 380.1,634.4 380.6,633.9 381.0,633.6 381.5,633.4 382.0,633.7 382.4,633.9 382.9,633.8 383.4,633.3 383.9,634.0 384.3,633.3 384.8,633.1 385.3,633.0 385.7,632.8 386.2,632.9 386.7,632.6 387.2,632.8 387.6,633.0 388.1,632.1 388.6,632.0 389.0,632.4 389.5,631.7 390.0,631.9 390.5,631.8 390.9,632.1 391.4,632.2 391.9,631.8 392.3,632.1 392.8,631.8 393.3,631.7 393.8,631.6 394.2,631.7 394.7,631.4 395.2,631.2 395.6,631.2 396.1,630.9 396.6,630.6 397.1,630.8 397.5,630.5 398.0,631.2 398.5,630.8 398.9,630.8 399.4,631.0 399.9,630.5 400.4,630.8 400.8,630.3 401.3,630.1 401.8,630.4 402.2,630.3 402.7,630.2 402.9,630.4 402.9,628.7 403.1,629.4 403.2,630.3 403.4,631.1 403.5,632.0 403.7,632.8 403.8,633.2 403.9,634.2 404.1,634.8 404.2,635.3 404.4,636.7 404.5,637.3 404.7,637.7 404.8,638.5 405.0,639.0 405.1,639.9 405.3,640.4 405.4,641.0 405.6,641.0 405.7,641.7 405.9,642.1 406.0,642.0 406.2,643.0 406.3,643.1 406.4,643.3 406.9,644.1 407.4,645.0 407.9,646.0 408.3,646.8 408.8,647.3 409.3,647.9 409.7,648.6 410.2,649.2 410.7,649.9 411.2,650.4 411.6,650.8 412.1,651.1 412.6,651.1 413.0,651.7 413.5,652.3 414.0,652.1 414.5,652.4 414.9,652.8 415.4,652.7 415.9,652.9 416.3,653.0 416.8,653.1 417.3,653.3 417.8,652.8 418.2,653.8 418.7,653.9 419.2,654.0 419.6,654.5 420.1,654.9 420.6,655.0 421.1,655.0 421.5,654.7 422.0,654.7 422.5,654.8 422.9,655.1 423.4,655.0 423.9,655.4 424.4,655.5 424.8,655.6 425.3,655.4 425.8,655.6 426.2,655.7 426.7,655.9 427.2,655.9 427.7,655.6 428.1,655.7 428.6,655.7 429.1,655.4 429.5,655.7 430.0,655.9 430.5,656.1 431.0,656.4 431.4,656.5 431.9,656.5 432.4,656.6 432.8,657.0 433.3,657.0 433.8,657.0 434.2,657.0 434.7,657.1 435.2,657.1 435.7,656.4 436.1,656.9 436.6,656.6 437.1,656.2 437.5,656.9 438.0,657.3 438.5,656.9 439.0,657.2 439.4,657.3 439.9,657.8 440.4,657.5 440.8,657.3 441.3,657.6 441.8,657.9 442.3,657.7 442.7,657.6 443.2,657.5 443.7,657.6 444.1,657.5 444.6,658.0 445.1,657.9 445.6,658.2 446.0,657.7 446.5,658.0 447.0,658.1 447.4,657.8 447.9,657.9 448.4,658.0 448.9,658.0 449.3,658.0 449.8,657.8 450.3,657.4 450.7,658.5 451.2,658.0 451.7,658.0 452.2,658.4 452.6,658.2 453.1,658.3 453.6,658.6 454.0,658.3 454.5,658.2 455.0,658.5 455.5,658.6 455.9,658.7 456.4,658.8 456.9,658.7 457.3,658.7 457.8,658.7 458.3,658.9 458.8,658.9 459.2,658.9 459.7,658.8 460.2,658.9 460.6,658.8 461.1,659.1 461.6,658.9 462.1,659.2 462.5,659.1 463.0,659.1 463.5,659.5 463.9,659.2 464.4,659.5 464.9,659.9 465.3,659.6 465.8,659.2 466.3,659.1 466.8,659.4 467.2,659.2 467.7,659.5 468.2,659.2 468.6,659.7 469.1,659.8 469.6,659.4 470.1,659.4 470.5,660.0 471.0,659.9 471.5,659.6 471.9,659.9 472.4,659.8 472.9,659.8 473.4,660.0 473.8,659.5 474.3,659.8 474.8,660.2 475.2,660.6 475.7,660.1 476.2,660.0 476.7,659.9 477.1,660.2 477.6,659.8 478.1,660.1 478.5,660.3 479.0,660.2 479.5,660.4 480.0,660.5 480.4,660.2 480.9,659.9 481.4,660.0 481.8,659.9 482.3,660.0 482.8,660.2 483.3,660.0 483.7,660.1 484.2,660.5 484.7,660.0 485.1,660.4 485.6,660.6 486.1,660.8 486.6,660.5 487.0,660.6 487.5,660.5 488.0,660.6 488.4,660.4 488.9,661.0 489.4,660.5 489.9,660.7 490.3,660.5 490.8,660.6 491.3,661.1 491.7,660.5 492.2,660.8 492.7,661.2 493.1,660.3 493.6,660.3 494.1,660.2 494.6,661.0 495.0,661.1 495.5,660.9 496.0,660.8 496.4,660.9 496.9,660.7 497.4,660.4 497.9,660.7 498.3,660.6 498.8,660.9 499.3,661.1 499.7,660.7 500.2,660.4 500.7,660.4 501.2,660.4 501.6,660.6 502.1,660.7 502.6,660.7 503.0,661.2 503.5,661.2 504.0,660.8 504.5,661.2 504.9,660.8 505.4,661.0 505.9,660.9 506.3,660.7 506.8,661.4 507.3,661.1 507.8,661.3 508.2,661.1 508.7,661.4 509.2,660.9"/>
<polyline fill="none" stroke="#6aad48" stroke-width="1.1" stroke-linejoin="round" points="303.6,674.0 304.2,674.3 304.8,676.9 305.4,676.0 306.0,675.9 306.6,675.8 307.2,674.9 307.8,675.1 308.4,674.0 308.9,676.3 309.5,675.3 310.1,674.5 310.7,675.2 311.3,677.4 311.9,675.6 312.5,675.5 313.1,675.6 313.7,676.6 314.2,675.0 314.8,675.6 315.4,676.4 316.0,675.2 316.6,675.8 317.2,676.2 317.8,676.3 318.4,676.7 319.0,675.7 319.5,676.3 320.1,674.7 320.7,675.8 321.3,675.1 321.9,676.5 322.5,676.2 323.1,675.7 323.7,675.1 324.3,674.9 324.8,675.6 325.4,675.5 326.0,675.2 326.6,675.0 327.2,674.8 327.8,677.3 328.4,675.0 329.0,675.8 329.6,675.7 330.1,676.5 330.7,675.0 331.3,674.6 331.9,674.7 332.5,676.3 333.1,677.2 333.7,674.5 334.3,676.1 334.6,675.8 334.8,674.2 334.9,672.3 335.1,670.4 335.2,668.6 335.4,666.9 335.5,665.2 335.7,663.4 335.8,661.5 335.9,660.0 336.1,658.1 336.2,656.2 336.4,654.4 336.5,653.2 336.7,651.3 336.8,649.5 337.0,648.7 337.1,647.3 337.3,645.9 337.4,645.8 337.6,644.7 337.7,644.0 337.9,643.5 338.0,642.8 338.2,642.3 338.6,640.5 339.1,638.9 339.6,637.0 340.0,635.4 340.5,634.2 341.0,633.2 341.5,632.2 341.9,631.5 342.4,630.8 342.9,629.8 343.3,629.5 343.8,628.8 344.3,628.1 344.8,627.7 345.2,627.2 345.7,626.8 346.2,626.3 346.6,625.6 347.1,625.4 347.6,625.4 348.0,624.8 348.5,624.6 349.0,624.3 349.5,624.2 349.9,623.7 350.4,623.6 350.9,623.1 351.3,622.6 351.8,622.5 352.3,622.2 352.8,621.9 353.2,621.7 353.7,621.2 354.2,621.2 354.6,620.5 355.1,620.5 355.6,620.2 356.1,620.0 356.5,619.9 357.0,619.3 357.5,619.2 357.9,619.0 358.4,618.8 358.9,618.7 359.4,618.3 359.8,618.1 360.3,617.6 360.8,617.6 361.2,617.0 361.7,616.3 362.2,616.4 362.7,615.7 363.1,616.0 363.6,615.6 364.1,615.7 364.5,615.1 365.0,614.8 365.5,614.8 366.0,614.8 366.4,614.2 366.9,614.2 367.4,613.8 367.8,613.9 368.3,613.6 368.8,613.4 369.3,613.2 369.7,612.9 370.2,612.6 370.7,612.7 371.1,612.5 371.6,612.5 372.1,611.9 372.6,611.6 373.0,611.2 373.5,612.1 374.0,610.9 374.4,611.1 374.9,611.1 375.4,611.0 375.9,610.6 376.3,609.9 376.8,610.4 377.3,609.7 377.7,609.3 378.2,609.1 378.7,609.3 379.1,609.0 379.6,609.0 380.1,608.7 380.6,608.7 381.0,608.4 381.5,607.9 382.0,607.9 382.4,607.6 382.9,607.3 383.4,607.2 383.9,607.2 384.3,607.3 384.8,607.4 385.3,606.8 385.7,607.0 386.2,606.7 386.7,606.6 387.2,606.5 387.6,606.3 388.1,606.2 388.6,605.8 389.0,606.0 389.5,606.0 390.0,605.4 390.5,605.4 390.9,605.5 391.4,605.1 391.9,604.8 392.3,604.8 392.8,604.7 393.3,604.3 393.8,604.4 394.2,604.7 394.7,604.5 395.2,604.5 395.6,603.8 396.1,604.1 396.6,603.7 397.1,604.0 397.5,603.5 398.0,603.8 398.5,603.7 398.9,603.3 399.4,603.5 399.9,602.9 400.4,602.8 400.8,602.5 401.3,602.5 401.8,602.0 402.2,602.3 402.7,602.1 402.9,602.7 402.9,598.9 403.1,598.9 403.2,599.0 403.4,599.1 403.5,599.2 403.7,599.4 403.8,600.2 403.9,599.8 404.1,599.8 404.2,599.9 404.4,600.2 404.5,600.7 404.7,600.9 404.8,600.8 405.0,601.7 405.1,603.3 405.3,605.1 405.4,607.5 405.6,609.4 405.7,611.1 405.9,611.2 406.0,612.3 406.2,612.6 406.3,613.2 406.4,613.7 406.9,615.6 407.4,617.1 407.9,618.9 408.3,620.0 408.8,621.8 409.3,622.8 409.7,623.6 410.2,625.3 410.7,625.8 411.2,627.2 411.6,628.0 412.1,629.1 412.6,630.2 413.0,630.9 413.5,631.4 414.0,632.2 414.5,632.4 414.9,633.3 415.4,633.9 415.9,634.1 416.3,634.9 416.8,635.0 417.3,636.0 417.8,636.0 418.2,636.3 418.7,636.9 419.2,637.4 419.6,638.1 420.1,638.1 420.6,638.4 421.1,638.1 421.5,638.7 422.0,639.1 422.5,639.2 422.9,639.2 423.4,639.8 423.9,640.0 424.4,640.0 424.8,640.3 425.3,640.4 425.8,640.6 426.2,641.2 426.7,641.3 427.2,641.5 427.7,641.8 428.1,641.8 428.6,642.2 429.1,642.2 429.5,642.4 430.0,642.7 430.5,642.8 431.0,642.9 431.4,643.1 431.9,643.2 432.4,643.4 432.8,643.3 433.3,643.5 433.8,643.6 434.2,643.5 434.7,643.7 435.2,643.4 435.7,644.1 436.1,643.8 436.6,644.4 437.1,644.2 437.5,644.1 438.0,644.4 438.5,644.3 439.0,644.7 439.4,644.8 439.9,644.9 440.4,645.1 440.8,644.7 441.3,644.6 441.8,645.1 442.3,645.3 442.7,645.3 443.2,645.1 443.7,644.9 444.1,645.0 444.6,645.9 445.1,645.8 445.6,645.6 446.0,645.7 446.5,646.0 447.0,645.8 447.4,645.7 447.9,646.1 448.4,646.6 448.9,645.9 449.3,646.0 449.8,646.2 450.3,646.2 450.7,646.3 451.2,646.1 451.7,646.6 452.2,646.6 452.6,646.9 453.1,647.0 453.6,646.5 454.0,646.9 454.5,646.8 455.0,646.8 455.5,646.7 455.9,646.9 456.4,647.3 456.9,647.2 457.3,647.5 457.8,647.6 458.3,647.4 458.8,647.7 459.2,647.7 459.7,648.1 460.2,648.0 460.6,648.0 461.1,647.9 461.6,648.4 462.1,647.8 462.5,647.7 463.0,647.8 463.5,647.9 463.9,648.0 464.4,648.0 464.9,648.5 465.3,648.6 465.8,648.6 466.3,649.0 466.8,649.2 467.2,649.0 467.7,648.9 468.2,648.9 468.6,649.1 469.1,649.2 469.6,649.1 470.1,648.9 470.5,649.3 471.0,649.3 471.5,649.6 471.9,649.4 472.4,649.4 472.9,649.6 473.4,649.5 473.8,650.0 474.3,650.0 474.8,650.3 475.2,650.1 475.7,650.1 476.2,650.2 476.7,650.2 477.1,650.1 477.6,650.0 478.1,649.9 478.5,649.9 479.0,650.4 479.5,650.2 480.0,650.7 480.4,650.3 480.9,651.0 481.4,651.2 481.8,650.9 482.3,651.2 482.8,651.1 483.3,651.1 483.7,651.3 484.2,651.8 484.7,651.3 485.1,651.3 485.6,651.5 486.1,651.0 486.6,651.0 487.0,651.3 487.5,651.3 488.0,651.7 488.4,651.8 488.9,651.7 489.4,652.0 489.9,652.4 490.3,652.0 490.8,652.1 491.3,651.9 491.7,651.3 492.2,651.8 492.7,651.6 493.1,651.7 493.6,652.1 494.1,652.0 494.6,652.1 495.0,652.2 495.5,652.6 496.0,652.4 496.4,652.4 496.9,652.5 497.4,652.5 497.9,652.2 498.3,652.7 498.8,652.5 499.3,652.5 499.7,652.7 500.2,652.9 500.7,652.9 501.2,652.9 501.6,653.1 502.1,653.2 502.6,653.7 503.0,653.2 503.5,653.5 504.0,653.7 504.5,653.3 504.9,653.2 505.4,653.5 505.9,653.7 506.3,653.6 506.8,653.7 507.3,653.6 507.8,653.9 508.2,653.5 508.7,653.4 509.2,653.4"/>
<polyline fill="none" stroke="#35558e" stroke-width="1.1" stroke-linejoin="round" points="303.6,675.9 304.2,675.6 304.8,675.2 305.4,675.9 306.0,674.6 306.6,677.5 307.2,677.2 307.8,674.9 308.4,677.4 308.9,676.5 309.5,676.5 310.1,675.6 310.7,676.6 311.3,676.6 311.9,673.8 312.5,676.1 313.1,675.7 313.7,675.1 314.2,675.5 314.8,670.2 315.4,676.7 316.0,676.3 316.6,675.4 317.2,675.4 317.8,675.0 318.4,675.0 319.0,673.7 319.5,674.4 320.1,675.6 320.7,675.5 321.3,675.5 321.9,675.8 322.5,675.6 323.1,675.5 323.7,676.3 324.3,676.7 324.8,676.4 325.4,675.2 326.0,674.7 326.6,675.5 327.2,675.8 327.8,675.1 328.4,675.8 329.0,675.5 329.6,674.8 330.1,677.4 330.7,676.7 331.3,673.7 331.9,675.8 332.5,676.4 333.1,676.7 333.7,676.1 334.3,676.8 334.6,675.8 334.8,671.9 334.9,668.1 335.1,664.4 335.2,660.9 335.4,657.3 335.5,653.5 335.7,649.6 335.8,645.8 335.9,642.2 336.1,639.3 336.2,636.4 336.4,633.8 336.5,631.5 336.7,629.1 336.8,627.4 337.0,625.6 337.1,624.4 337.3,623.2 337.4,622.2 337.6,621.6 337.7,621.2 337.9,620.3 338.0,619.8 338.2,619.2 338.6,616.7 339.1,614.2 339.6,612.7 340.0,610.7 340.5,609.9 341.0,608.4 341.5,608.1 341.9,607.0 342.4,606.4 342.9,605.2 343.3,605.0 343.8,604.4 344.3,603.7 344.8,603.4 345.2,602.1 345.7,602.5 346.2,601.7 346.6,601.8 347.1,600.9 347.6,600.9 348.0,600.2 348.5,600.0 349.0,599.3 349.5,599.0 349.9,598.5 350.4,598.4 350.9,598.0 351.3,597.9 351.8,597.4 352.3,597.2 352.8,597.1 353.2,596.6 353.7,596.2 354.2,595.9 354.6,596.1 355.1,595.6 355.6,595.5 356.1,595.4 356.5,595.0 357.0,595.1 357.5,594.7 357.9,594.2 358.4,594.0 358.9,593.9 359.4,593.7 359.8,593.6 360.3,593.5 360.8,593.9 361.2,593.5 361.7,592.8 362.2,593.0 362.7,592.5 363.1,591.8 363.6,591.9 364.1,591.5 364.5,591.5 365.0,591.3 365.5,591.5 366.0,590.6 366.4,590.5 366.9,590.1 367.4,590.4 367.8,589.9 368.3,590.1 368.8,589.4 369.3,589.7 369.7,589.5 370.2,589.2 370.7,589.2 371.1,588.6 371.6,588.7 372.1,588.4 372.6,588.3 373.0,588.0 373.5,587.8 374.0,588.3 374.4,587.9 374.9,587.9 375.4,587.6 375.9,587.6 376.3,587.5 376.8,587.3 377.3,587.2 377.7,587.0 378.2,586.7 378.7,586.9 379.1,586.5 379.6,586.3 380.1,586.0 380.6,585.7 381.0,585.9 381.5,585.9 382.0,585.9 382.4,585.7 382.9,585.3 383.4,585.0 383.9,584.7 384.3,585.1 384.8,584.6 385.3,584.2 385.7,584.3 386.2,584.1 386.7,584.2 387.2,583.8 387.6,583.7 388.1,583.4 388.6,583.2 389.0,582.8 389.5,583.0 390.0,583.3 390.5,582.7 390.9,582.8 391.4,582.5 391.9,582.2 392.3,581.8 392.8,581.9 393.3,581.6 393.8,581.6 394.2,580.9 394.7,581.5 395.2,580.9 395.6,581.0 396.1,580.9 396.6,580.9 397.1,580.8 397.5,580.5 398.0,580.4 398.5,579.8 398.9,580.1 399.4,580.3 399.9,580.2 400.4,579.6 400.8,579.7 401.3,579.5 401.8,579.7 402.2,579.7 402.7,579.2 402.9,579.6 402.9,539.9 403.1,556.1 403.2,567.9 403.4,576.5 403.5,582.8 403.7,587.7 403.8,591.8 403.9,595.0 404.1,598.3 404.2,600.4 404.4,602.2 404.5,604.0 404.7,605.9 404.8,606.5 405.0,608.0 405.1,608.5 405.3,609.0 405.4,609.4 405.6,610.1 405.7,610.4 405.9,610.5 406.0,611.1 406.2,611.1 406.3,611.5 406.4,612.1 406.9,613.1 407.4,614.6 407.9,615.4 408.3,616.7 408.8,617.4 409.3,618.3 409.7,619.2 410.2,620.2 410.7,620.1 411.2,621.0 411.6,621.7 412.1,622.3 412.6,623.0 413.0,623.6 413.5,624.4 414.0,625.2 414.5,625.5 414.9,626.3 415.4,626.7 415.9,626.9 416.3,627.4 416.8,628.1 417.3,628.0 417.8,628.4 418.2,629.0 418.7,628.8 419.2,629.0 419.6,629.2 420.1,629.6 420.6,629.5 421.1,629.4 421.5,630.2 422.0,630.2 422.5,630.8 422.9,631.1 423.4,631.5 423.9,631.7 424.4,632.0 424.8,632.4 425.3,632.6 425.8,632.5 426.2,632.6 426.7,632.9 427.2,633.1 427.7,633.6 428.1,633.4 428.6,633.6 429.1,634.2 429.5,633.9 430.0,634.0 430.5,634.4 431.0,634.7 431.4,634.6 431.9,635.1 432.4,635.0 432.8,635.3 433.3,635.2 433.8,635.1 434.2,635.3 434.7,635.7 435.2,635.9 435.7,635.9 436.1,636.0 436.6,635.8 437.1,635.9 437.5,636.1 438.0,636.0 438.5,636.0 439.0,636.0 439.4,636.3 439.9,636.2 440.4,636.4 440.8,636.7 441.3,637.2 441.8,637.3 442.3,637.4 442.7,637.5 443.2,637.6 443.7,637.3 444.1,637.7 444.6,637.7 445.1,637.6 445.6,637.7 446.0,637.8 446.5,637.8 447.0,638.5 447.4,638.2 447.9,638.2 448.4,638.3 448.9,638.3 449.3,638.4 449.8,638.6 450.3,638.9 450.7,638.7 451.2,638.7 451.7,638.7 452.2,638.5 452.6,638.6 453.1,638.8 453.6,639.2 454.0,639.2 454.5,639.2 455.0,639.9 455.5,639.6 455.9,639.8 456.4,640.0 456.9,640.0 457.3,639.9 457.8,640.1 458.3,640.0 458.8,639.9 459.2,640.1 459.7,640.1 460.2,640.2 460.6,640.5 461.1,640.8 461.6,641.0 462.1,640.6 462.5,640.8 463.0,640.8 463.5,641.3 463.9,641.3 464.4,641.6 464.9,641.6 465.3,641.1 465.8,641.6 466.3,641.6 466.8,641.5 467.2,641.1 467.7,641.7 468.2,641.4 468.6,642.0 469.1,641.6 469.6,641.7 470.1,641.6 470.5,641.3 471.0,641.7 471.5,642.1 471.9,642.1 472.4,642.3 472.9,642.6 473.4,642.9 473.8,643.1 474.3,642.8 474.8,643.1 475.2,643.2 475.7,642.9 476.2,642.8 476.7,642.9 477.1,642.8 477.6,642.9 478.1,642.6 478.5,643.1 479.0,643.3 479.5,643.4 480.0,643.6 480.4,643.7 480.9,643.6 481.4,643.9 481.8,644.1 482.3,644.0 482.8,644.2 483.3,644.4 483.7,644.4 484.2,644.1 484.7,643.9 485.1,644.0 485.6,644.6 486.1,644.4 486.6,644.2 487.0,644.0 487.5,644.3 488.0,644.3 488.4,644.3 488.9,644.3 489.4,644.8 489.9,645.2 490.3,645.2 490.8,645.4 491.3,645.4 491.7,645.6 492.2,645.4 492.7,645.3 493.1,645.8 493.6,645.7 494.1,645.8 494.6,645.4 495.0,645.9 495.5,645.5 496.0,645.6 496.4,645.6 496.9,645.5 497.4,645.8 497.9,645.6 498.3,646.1 498.8,646.1 499.3,645.7 499.7,646.2 500.2,646.1 500.7,646.2 501.2,646.6 501.6,646.4 502.1,646.8 502.6,647.3 503.0,647.2 503.5,647.1 504.0,646.8 504.5,646.9 504.9,646.8 505.4,647.3 505.9,647.2 506.3,647.3 506.8,647.8 507.3,647.5 507.8,647.6 508.2,647.7 508.7,648.0 509.2,647.7"/>
<polyline fill="none" stroke="#ae2840" stroke-width="1.1" stroke-linejoin="round" points="303.6,675.9 304.2,675.3 304.8,674.1 305.4,675.2 306.0,676.7 306.6,677.9 307.2,673.9 307.8,675.3 308.4,676.5 308.9,675.7 309.5,675.5 310.1,676.9 310.7,675.2 311.3,674.9 311.9,675.7 312.5,675.5 313.1,680.8 313.7,675.8 314.2,677.6 314.8,676.3 315.4,673.0 316.0,676.1 316.6,676.1 317.2,672.1 317.8,675.0 318.4,675.4 319.0,674.6 319.5,676.3 320.1,676.3 320.7,675.6 321.3,676.2 321.9,676.7 322.5,676.5 323.1,676.3 323.7,673.9 324.3,676.5 324.8,673.9 325.4,676.2 326.0,677.3 326.6,675.1 327.2,675.3 327.8,674.1 328.4,676.6 329.0,674.1 329.6,677.7 330.1,677.5 330.7,675.0 331.3,674.2 331.9,674.9 332.5,676.9 333.1,675.2 333.7,674.4 334.3,674.4 334.4,700.6 334.6,700.6 334.6,675.8 334.8,667.7 334.9,659.8 335.1,652.4 335.2,644.7 335.4,636.6 335.5,630.1 335.7,626.1 335.8,623.4 335.9,621.0 336.1,620.1 336.2,618.4 336.4,617.8 336.5,616.2 336.7,615.8 336.8,613.9 337.0,613.0 337.1,612.4 337.3,611.6 337.4,610.5 337.6,609.8 337.7,608.9 337.9,607.3 338.0,606.8 338.2,606.4 338.6,604.6 339.1,603.2 339.6,602.5 340.0,601.2 340.5,599.7 341.0,598.9 341.5,597.7 341.9,596.9 342.4,596.3 342.9,595.4 343.3,595.0 343.8,593.8 344.3,593.3 344.8,592.7 345.2,591.7 345.7,591.5 346.2,591.2 346.6,590.4 347.1,589.9 347.6,589.7 348.0,588.8 348.5,588.8 349.0,588.3 349.5,587.7 349.9,587.5 350.4,587.3 350.9,586.9 351.3,586.6 351.8,586.0 352.3,586.0 352.8,585.9 353.2,585.5 353.7,585.3 354.2,585.1 354.6,584.9 355.1,584.9 355.6,584.2 356.1,584.0 356.5,583.2 357.0,583.3 357.5,583.1 357.9,583.0 358.4,582.8 358.9,582.6 359.4,582.6 359.8,581.9 360.3,582.0 360.8,581.7 361.2,581.8 361.7,581.3 362.2,581.4 362.7,581.3 363.1,580.9 363.6,580.6 364.1,580.6 364.5,580.8 365.0,580.4 365.5,580.3 366.0,580.0 366.4,580.1 366.9,580.0 367.4,579.7 367.8,579.7 368.3,579.7 368.8,579.2 369.3,579.3 369.7,578.9 370.2,579.0 370.7,578.9 371.1,578.9 371.6,578.9 372.1,579.0 372.6,578.7 373.0,578.8 373.5,578.1 374.0,577.9 374.4,577.8 374.9,577.8 375.4,577.4 375.9,577.4 376.3,577.4 376.8,577.2 377.3,576.8 377.7,577.1 378.2,576.7 378.7,576.7 379.1,576.6 379.6,576.2 380.1,576.4 380.6,576.3 381.0,576.1 381.5,575.7 382.0,575.8 382.4,575.5 382.9,575.7 383.4,575.2 383.9,575.4 384.3,575.5 384.8,575.1 385.3,574.9 385.7,574.8 386.2,574.8 386.7,574.7 387.2,573.9 387.6,574.3 388.1,573.9 388.6,573.7 389.0,573.5 389.5,573.5 390.0,573.4 390.5,573.3 390.9,573.3 391.4,573.3 391.9,573.2 392.3,572.7 392.8,573.1 393.3,573.2 393.8,572.4 394.2,572.0 394.7,572.5 395.2,572.0 395.6,572.0 396.1,571.8 396.6,571.6 397.1,571.1 397.5,571.3 398.0,571.2 398.5,570.9 398.9,571.0 399.4,571.1 399.9,571.5 400.4,570.9 400.8,570.7 401.3,571.0 401.8,570.9 402.2,571.0 402.7,570.4 402.9,570.8 402.9,553.7 403.1,565.5 403.2,574.4 403.4,581.3 403.5,586.8 403.7,591.4 403.8,594.9 403.9,598.2 404.1,601.0 404.2,604.0 404.4,606.4 404.5,608.4 404.7,609.8 404.8,610.7 405.0,611.3 405.1,612.0 405.3,612.1 405.4,613.4 405.6,614.1 405.7,614.2 405.9,614.8 406.0,615.5 406.2,615.5 406.3,616.1 406.4,616.5 406.9,617.8 407.4,618.9 407.9,620.0 408.3,621.0 408.8,621.7 409.3,622.2 409.7,623.4 410.2,624.0 410.7,624.5 411.2,625.0 411.6,625.9 412.1,626.1 412.6,626.9 413.0,627.5 413.5,628.4 414.0,628.9 414.5,629.1 414.9,629.2 415.4,629.5 415.9,630.0 416.3,630.6 416.8,630.9 417.3,631.8 417.8,631.7 418.2,632.4 418.7,633.2 419.2,632.6 419.6,633.4 420.1,633.4 420.6,634.0 421.1,634.0 421.5,634.4 422.0,634.6 422.5,635.4 422.9,635.5 423.4,635.9 423.9,635.7 424.4,636.2 424.8,636.2 425.3,636.7 425.8,636.8 426.2,636.8 426.7,637.2 427.2,637.1 427.7,638.0 428.1,637.8 428.6,637.7 429.1,637.6 429.5,638.6 430.0,638.0 430.5,638.4 431.0,639.0 431.4,639.2 431.9,639.2 432.4,639.3 432.8,639.1 433.3,639.7 433.8,639.8 434.2,640.0 434.7,640.2 435.2,640.1 435.7,640.2 436.1,640.7 436.6,640.3 437.1,640.5 437.5,640.7 438.0,640.7 438.5,640.9 439.0,641.2 439.4,641.3 439.9,641.2 440.4,642.0 440.8,642.1 441.3,642.3 441.8,642.6 442.3,642.7 442.7,642.1 443.2,642.2 443.7,641.9 444.1,641.9 444.6,642.8 445.1,642.5 445.6,642.9 446.0,643.0 446.5,643.0 447.0,643.0 447.4,643.3 447.9,643.3 448.4,643.6 448.9,643.6 449.3,643.8 449.8,644.0 450.3,644.0 450.7,644.3 451.2,644.6 451.7,644.9 452.2,644.8 452.6,645.1 453.1,644.8 453.6,644.9 454.0,644.6 454.5,644.6 455.0,645.0 455.5,645.0 455.9,645.3 456.4,645.6 456.9,645.6 457.3,646.1 457.8,645.9 458.3,646.3 458.8,646.3 459.2,646.2 459.7,646.4 460.2,646.2 460.6,646.7 461.1,646.8 461.6,646.6 462.1,646.6 462.5,646.6 463.0,647.2 463.5,646.8 463.9,647.0 464.4,647.1 464.9,647.5 465.3,647.1 465.8,647.4 466.3,647.7 466.8,647.7 467.2,647.9 467.7,648.2 468.2,647.7 468.6,647.7 469.1,648.1 469.6,648.5 470.1,648.3 470.5,648.3 471.0,648.4 471.5,648.3 471.9,648.3 472.4,648.4 472.9,648.6 473.4,648.8 473.8,648.7 474.3,648.9 474.8,649.0 475.2,648.8 475.7,649.1 476.2,649.6 476.7,649.3 477.1,649.6 477.6,649.5 478.1,649.8 478.5,649.9 479.0,649.5 479.5,649.7 480.0,650.1 480.4,649.2 480.9,649.8 481.4,649.8 481.8,649.9 482.3,650.1 482.8,650.4 483.3,650.7 483.7,650.0 484.2,650.6 484.7,650.4 485.1,650.9 485.6,650.8 486.1,650.4 486.6,650.8 487.0,650.7 487.5,651.2 488.0,651.3 488.4,651.1 488.9,651.5 489.4,651.5 489.9,651.6 490.3,651.6 490.8,651.5 491.3,651.0 491.7,651.1 492.2,651.2 492.7,651.2 493.1,651.6 493.6,651.2 494.1,651.5 494.6,651.6 495.0,651.4 495.5,651.6 496.0,652.1 496.4,652.0 496.9,652.4 497.4,652.5 497.9,652.3 498.3,652.6 498.8,652.6 499.3,653.0 499.7,653.0 500.2,653.5 500.7,653.2 501.2,653.0 501.6,652.8 502.1,653.2 502.6,652.9 503.0,653.3 503.5,653.2 504.0,653.3 504.5,653.4 504.9,653.6 505.4,653.6 505.9,654.1 506.3,653.6 506.8,653.6 507.3,654.3 507.8,653.7 508.2,653.4 508.7,653.5 509.2,653.7"/>
<text x="306.87" y="706.7" font-size="12.1" textLength="16.48" lengthAdjust="spacingAndGlyphs">-20</text>
<text x="317.01" y="681.62" font-size="12.1" textLength="6.34" lengthAdjust="spacingAndGlyphs">0</text>
<text x="310.67" y="656.53" font-size="12.1" textLength="12.68" lengthAdjust="spacingAndGlyphs">20</text>
<text x="310.67" y="631.45" font-size="12.1" textLength="12.68" lengthAdjust="spacingAndGlyphs">40</text>
<text x="310.67" y="606.36" font-size="12.1" textLength="12.68" lengthAdjust="spacingAndGlyphs">60</text>
<text x="310.67" y="581.28" font-size="12.1" textLength="12.68" lengthAdjust="spacingAndGlyphs">80</text>
<text x="304.32" y="556.19" font-size="12.1" textLength="19.02" lengthAdjust="spacingAndGlyphs">100</text>
<text x="304.32" y="531.11" font-size="12.1" textLength="19.02" lengthAdjust="spacingAndGlyphs">120</text>
<text x="294.73" y="693.8" font-size="12.1" textLength="16.48" lengthAdjust="spacingAndGlyphs">-50</text>
<text x="358.45" y="693.8" font-size="12.1" textLength="12.68" lengthAdjust="spacingAndGlyphs">50</text>
<text x="412.88" y="693.8" font-size="12.1" textLength="19.02" lengthAdjust="spacingAndGlyphs">150</text>
<text x="470.73" y="693.8" font-size="12.1" textLength="19.02" lengthAdjust="spacingAndGlyphs">250</text>
<text x="-1.05" y="0" font-size="14.7" textLength="125.65" lengthAdjust="spacingAndGlyphs" transform="translate(294.8,666.8) rotate(-90)">Response units (RUs)</text>
<text x="370.90" y="711.2" font-size="14.7" textLength="90.91" lengthAdjust="spacingAndGlyphs">Time (seconds)</text>
<text x="363.07" y="502.6" font-size="14.7" textLength="106.71" lengthAdjust="spacingAndGlyphs">Affimer G2 - fibrin</text>
<line x1="451.7" y1="527.4" x2="464.2" y2="527.4" stroke="#9b90c8" stroke-width="1.3"/>
<text x="469.00" y="531.1" font-size="10.9" textLength="35.19" lengthAdjust="spacingAndGlyphs">12.5nM</text>
<line x1="451.7" y1="544.25" x2="464.2" y2="544.25" stroke="#3b7357" stroke-width="1.3"/>
<text x="469.27" y="547.95" font-size="10.9" textLength="26.39" lengthAdjust="spacingAndGlyphs">25nM</text>
<line x1="451.7" y1="561.1" x2="464.2" y2="561.1" stroke="#e8983a" stroke-width="1.3"/>
<text x="469.38" y="564.8" font-size="10.9" textLength="26.39" lengthAdjust="spacingAndGlyphs">50nM</text>
<line x1="451.7" y1="577.95" x2="464.2" y2="577.95" stroke="#7a3d80" stroke-width="1.3"/>
<text x="469.00" y="581.65" font-size="10.9" textLength="32.26" lengthAdjust="spacingAndGlyphs">100nM</text>
<line x1="451.7" y1="594.8" x2="464.2" y2="594.8" stroke="#6aad48" stroke-width="1.3"/>
<text x="469.27" y="598.5" font-size="10.9" textLength="32.26" lengthAdjust="spacingAndGlyphs">200nM</text>
<line x1="451.7" y1="611.65" x2="464.2" y2="611.65" stroke="#35558e" stroke-width="1.3"/>
<text x="469.56" y="615.35" font-size="10.9" textLength="32.26" lengthAdjust="spacingAndGlyphs">400nM</text>
<line x1="451.7" y1="628.5" x2="464.2" y2="628.5" stroke="#ae2840" stroke-width="1.3"/>
<text x="469.34" y="632.2" font-size="10.9" textLength="32.26" lengthAdjust="spacingAndGlyphs">800nM</text>
<text x="13.87" y="23.7" font-size="18.0" textLength="10.16" lengthAdjust="spacingAndGlyphs">A</text>
<text x="279.77" y="23.7" font-size="18.0" textLength="10.03" lengthAdjust="spacingAndGlyphs">B</text>
<text x="12.94" y="224.0" font-size="18.0" textLength="10.83" lengthAdjust="spacingAndGlyphs">C</text>
<text x="277.84" y="223.5" font-size="18.0" textLength="11.95" lengthAdjust="spacingAndGlyphs">D</text>
<text x="13.56" y="486.3" font-size="18.0" textLength="8.49" lengthAdjust="spacingAndGlyphs">E</text>
<text x="279.72" y="486.0" font-size="18.0" textLength="9.50" lengthAdjust="spacingAndGlyphs">F</text>
</svg>
</body></html>
